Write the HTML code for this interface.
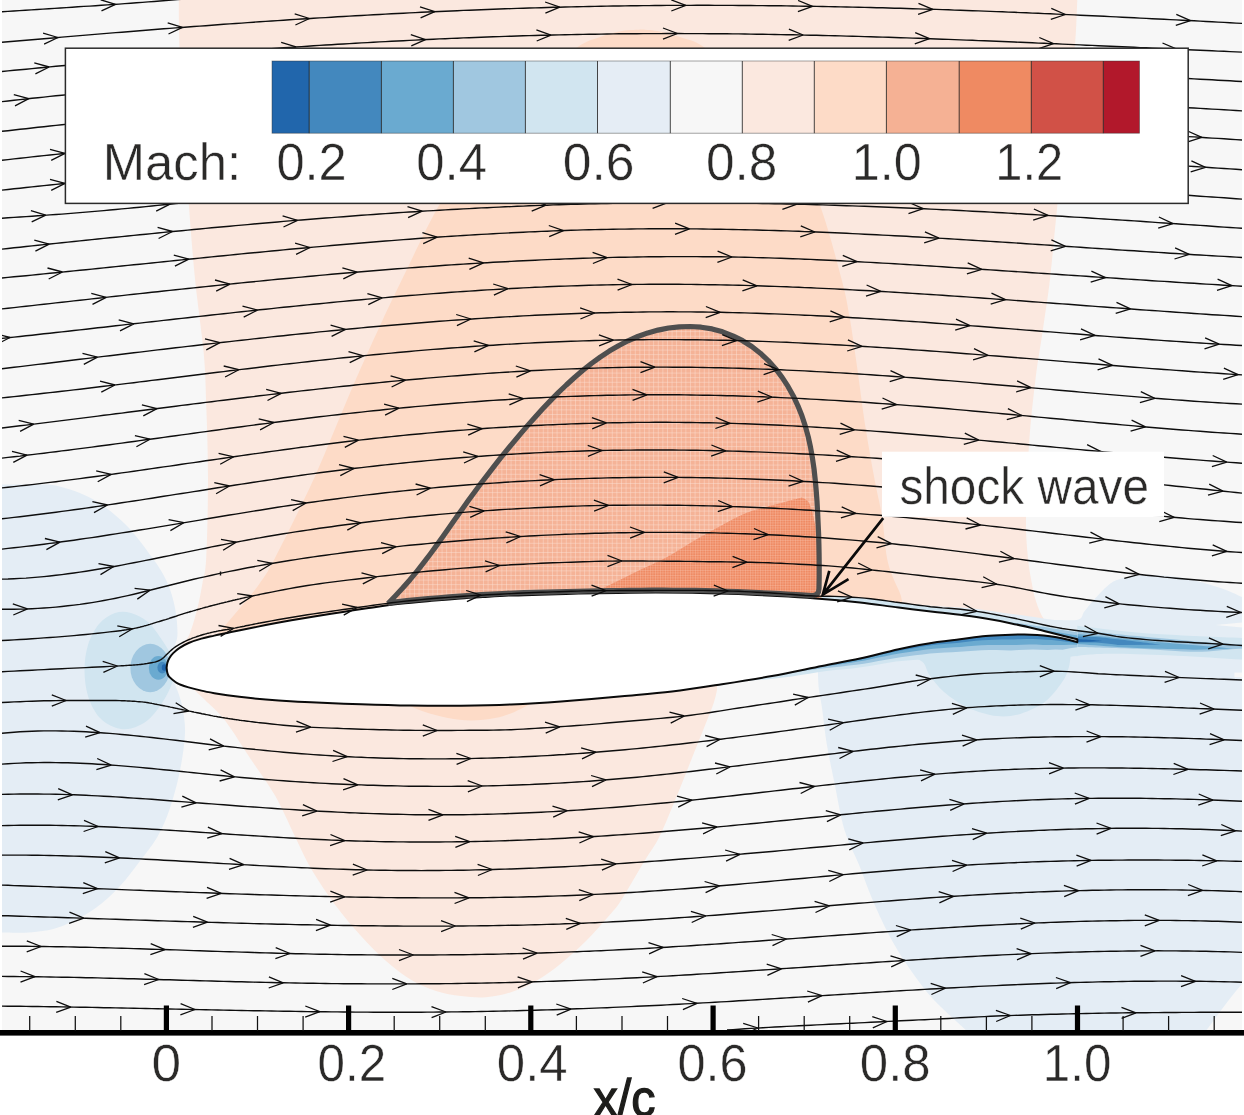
<!DOCTYPE html>
<html><head><meta charset="utf-8"><title>Mach contours</title>
<style>html,body{margin:0;padding:0;background:#fff}svg{display:block}</style></head>
<body><svg width="1244" height="1115" viewBox="0 0 1244 1115">
<defs><clipPath id="plot"><rect x="2" y="0" width="1240" height="1033"/></clipPath><pattern id="m1" width="4.6" height="4.6" patternUnits="userSpaceOnUse"><path d="M0 0.4H4.6M0.4 0V4.6" stroke="#fde3d6" stroke-opacity="0.55" stroke-width="0.8" fill="none"/></pattern><pattern id="m2" width="2.5" height="2.5" patternUnits="userSpaceOnUse"><path d="M0 0.35H2.5M0.35 0V2.5" stroke="#fbd3c0" stroke-opacity="0.38" stroke-width="0.7" fill="none"/></pattern></defs>
<rect x="0" y="0" width="1244" height="1115" fill="#fff"/>
<g clip-path="url(#plot)">
<rect x="2" y="0" width="1240" height="1033" fill="#f7f7f7"/>
<path d="M178.8 -5C178.9 3.8 178.6 25 179.5 47.5C180.4 70 182.5 103.9 184 130C185.5 156.1 186.9 179.2 188.8 204C190.6 228.8 192.5 254 195 279C197.5 304 201.9 333.2 203.8 354C205.6 374.8 205.5 383.2 206.2 404C207 424.8 208 453.3 208 479C208 504.7 207.2 540.7 206.2 558C205.3 575.3 204 574.7 202.5 583C201 591.3 199.6 599.7 197.5 608C195.4 616.3 192.3 627.2 190 633C187.7 638.8 185.8 640.2 183.8 643C181.8 645.8 179 648.8 178 650L250 665C375 660.8 875 644.2 1000 640L1046 622C1045.1 620.5 1042.3 617 1040.5 613C1038.7 609 1036.5 603 1035 598C1033.5 593 1032.9 589.7 1031.8 583C1030.6 576.3 1029 568.9 1028 558C1027 547.1 1025.8 537.2 1026 517.8C1026.2 498.3 1027.7 464.6 1029.2 441.5C1030.8 418.4 1033.2 397.8 1035.5 379C1037.8 360.2 1040.6 345.7 1043 329C1045.4 312.3 1047.6 299.8 1050 279C1052.4 258.2 1054.8 229.7 1057.5 204C1060.2 178.3 1063.1 151.1 1066 125C1068.9 98.9 1072.8 69.2 1074.8 47.5C1076.7 25.8 1077 3.8 1077.5 -5Z" fill="#fbe8df" />
<path d="M190 686C192.5 688.3 199.2 694.2 205 700C210.8 705.8 217.5 710.8 225 720.5C232.5 730.2 241.7 745.5 250 758C258.3 770.5 267.5 782.4 275 795.5C282.5 808.6 289 824.3 295 836.5C301 848.7 304.2 856.9 311 868.5C317.8 880.1 327.7 894.8 336 906C344.3 917.2 352.7 926.8 361 936C369.3 945.2 377.7 953.7 386 961C394.3 968.3 402.7 974.8 411 979.8C419.3 984.8 427.7 988.3 436 991C444.3 993.7 452.7 995 461 996C469.3 997 477.7 997.9 486 997.2C494.3 996.6 502.7 995 511 992.2C519.3 989.5 527.7 985.8 536 981C544.3 976.2 552.7 970.2 561 963.5C569.3 956.8 577.7 949.3 586 941C594.3 932.7 605 920.5 611 913.5C617 906.5 616.4 907.8 622 899C627.6 890.2 638.2 871.4 644.5 861C650.8 850.6 654.1 847.4 659.5 836.5C664.9 825.6 671.6 808.6 677 795.5C682.4 782.4 687 770.5 692 758C697 745.5 703.3 729.8 707 720.5C710.7 711.2 712.3 707.1 714 702C715.7 696.9 716.5 692 717 690L717 670C629.5 670 279.5 670 192 670Z" fill="#fbe8df" />
<path d="M642 29.5C638.7 29.8 629 29.8 622 31C615 32.2 607.5 34.2 600 37C592.5 39.8 588.7 39.5 577 47.5C565.3 55.5 546.2 68.8 530 85C513.8 101.2 495 125.2 480 145C465 164.8 452.7 181.7 439.8 204C426.8 226.3 412.5 258.2 402.2 279C392 299.8 386.2 312.3 378.5 329C370.8 345.7 363.1 362.8 356 379C348.9 395.2 343.5 408.8 336 426.5C328.5 444.2 321.2 463.1 311 485C300.8 506.9 283.5 541.7 275 558C266.5 574.3 265.8 574.7 260 583C254.2 591.3 245.8 600.9 240 608C234.2 615.1 228.7 621.2 225 625.5C221.3 629.8 219.2 632.6 218 634L260 660C366.7 655 793.3 635 900 630L903 612C902.6 609.2 902.4 601.2 900.8 595.5C899.1 589.8 895.5 584.2 893.2 578C891 571.8 888.9 568.2 887 558C885.1 547.8 884.1 529.7 882 516.5C879.9 503.3 877.2 493.6 874.5 479C871.8 464.4 868.7 447.8 865.8 429C862.8 410.2 859.7 385.2 857 366.5C854.3 347.8 852.1 331.1 849.5 316.5C846.9 301.9 846.5 297.8 841.5 279C836.5 260.2 828.1 227.2 819.5 204C810.9 180.8 801.6 159.8 790 140C778.4 120.2 764.2 100.4 750 85C735.8 69.6 716.2 55.5 704.5 47.5C692.8 39.5 687.4 39.7 680 37C672.6 34.3 666.3 32.8 660 31.5C653.7 30.2 645 29.8 642 29.5Z" fill="#fddbc7" />
<path d="M405 704C408.3 705.3 417.8 709.7 425 712C432.2 714.3 440.3 716.6 448 718C455.7 719.4 463.2 720.5 471 720.5C478.8 720.5 488.2 719.2 495 718C501.8 716.8 505.8 715.5 512 713C518.2 710.5 528.7 704.7 532 703L532 690C510.8 690 426.2 690 405 690Z" fill="#fddbc7" />
<path d="M388 603.5C389.2 602.2 393 598.3 395.5 595.7C397.9 593.1 400.4 590.5 402.9 587.8C405.3 585.2 407.7 582.4 410 579.7C412.4 576.9 414.7 574.1 416.9 571.3C419.2 568.5 421.5 565.6 423.7 562.7C425.9 559.8 428.1 556.9 430.3 554C432.5 551 434.6 548.1 436.8 545.1C438.9 542.1 441 539.2 443.1 536.2C445.2 533.2 447.3 530.2 449.4 527.2C451.5 524.2 453.6 521.2 455.7 518.3C457.8 515.3 459.9 512.3 462 509.4C464.1 506.4 466.2 503.5 468.3 500.6C470.4 497.7 472.5 494.8 474.6 491.9C476.7 489 478.9 486.1 481 483.3C483.1 480.4 485.3 477.6 487.5 474.8C489.6 471.9 491.8 469.1 494 466.3C496.2 463.5 498.4 460.7 500.6 457.9C502.8 455.1 505.1 452.3 507.3 449.6C509.6 446.8 511.9 444.1 514.2 441.3C516.5 438.6 518.8 435.8 521.1 433.1C523.5 430.3 525.8 427.6 528.2 424.9C530.6 422.2 533 419.4 535.5 416.7C537.9 414 540.4 411.3 542.9 408.6C545.4 405.9 548 403.2 550.5 400.6C553.1 397.9 555.7 395.3 558.3 392.7C561 390.1 563.6 387.5 566.3 385C569 382.4 571.7 379.9 574.5 377.5C577.2 375 580 372.6 582.9 370.3C585.7 368 588.5 365.7 591.4 363.5C594.3 361.3 597.3 359.1 600.2 357.1C603.2 355 606.2 353 609.3 351.1C612.3 349.2 615.4 347.4 618.5 345.7C621.7 343.9 624.8 342.3 628 340.8C631.2 339.3 634.5 337.8 637.8 336.5C641 335.2 644.4 334 647.8 332.9C651.1 331.9 654.5 330.9 658 330.1C661.5 329.3 665 328.6 668.5 328C672.1 327.5 675.7 327.1 679.3 326.8C682.9 326.5 686.6 326.4 690.2 326.5C693.9 326.6 697.6 326.8 701.2 327.2C704.8 327.6 708.5 328.2 712.1 328.9C715.6 329.7 719.2 330.7 722.6 331.8C726.1 333 729.5 334.3 732.8 335.8C736.2 337.2 739.4 338.9 742.6 340.7C745.8 342.5 748.8 344.5 751.8 346.5C754.7 348.6 757.6 350.9 760.3 353.2C763.1 355.5 765.7 358 768.2 360.6C770.8 363.2 773.2 365.9 775.5 368.7C777.8 371.4 780 374.3 782.1 377.3C784.2 380.2 786.1 383.3 788 386.4C789.9 389.5 791.7 392.7 793.3 395.9C795 399.1 796.5 402.4 797.9 405.8C799.4 409.1 800.7 412.4 801.9 415.8C803.2 419.2 804.3 422.7 805.3 426.1C806.4 429.6 807.3 433.1 808.2 436.6C809 440.1 809.8 443.6 810.5 447.1C811.2 450.7 811.9 454.3 812.4 457.8C813 461.4 813.5 465 814 468.6C814.4 472.2 814.8 475.9 815.2 479.5C815.6 483.1 815.9 486.7 816.2 490.4C816.5 494 816.7 497.6 817 501.3C817.2 504.9 817.4 508.5 817.6 512.1C817.8 515.8 818 519.4 818.1 523C818.3 526.6 818.4 530.2 818.6 533.8C818.7 537.4 818.8 541 818.9 544.6C819 548.2 819 551.8 819.1 555.4C819.1 559 819.2 562.6 819.2 566.2C819.2 569.9 819.2 573.5 819.2 577.1C819.1 580.7 819 586.2 819 588L820 600C747.7 602 458.3 610 386 612Z" fill="#f5b397" />
<path d="M388 603.5C389.2 602.2 393 598.3 395.5 595.7C397.9 593.1 400.4 590.5 402.9 587.8C405.3 585.2 407.7 582.4 410 579.7C412.4 576.9 414.7 574.1 416.9 571.3C419.2 568.5 421.5 565.6 423.7 562.7C425.9 559.8 428.1 556.9 430.3 554C432.5 551 434.6 548.1 436.8 545.1C438.9 542.1 441 539.2 443.1 536.2C445.2 533.2 447.3 530.2 449.4 527.2C451.5 524.2 453.6 521.2 455.7 518.3C457.8 515.3 459.9 512.3 462 509.4C464.1 506.4 466.2 503.5 468.3 500.6C470.4 497.7 472.5 494.8 474.6 491.9C476.7 489 478.9 486.1 481 483.3C483.1 480.4 485.3 477.6 487.5 474.8C489.6 471.9 491.8 469.1 494 466.3C496.2 463.5 498.4 460.7 500.6 457.9C502.8 455.1 505.1 452.3 507.3 449.6C509.6 446.8 511.9 444.1 514.2 441.3C516.5 438.6 518.8 435.8 521.1 433.1C523.5 430.3 525.8 427.6 528.2 424.9C530.6 422.2 533 419.4 535.5 416.7C537.9 414 540.4 411.3 542.9 408.6C545.4 405.9 548 403.2 550.5 400.6C553.1 397.9 555.7 395.3 558.3 392.7C561 390.1 563.6 387.5 566.3 385C569 382.4 571.7 379.9 574.5 377.5C577.2 375 580 372.6 582.9 370.3C585.7 368 588.5 365.7 591.4 363.5C594.3 361.3 597.3 359.1 600.2 357.1C603.2 355 606.2 353 609.3 351.1C612.3 349.2 615.4 347.4 618.5 345.7C621.7 343.9 624.8 342.3 628 340.8C631.2 339.3 634.5 337.8 637.8 336.5C641 335.2 644.4 334 647.8 332.9C651.1 331.9 654.5 330.9 658 330.1C661.5 329.3 665 328.6 668.5 328C672.1 327.5 675.7 327.1 679.3 326.8C682.9 326.5 686.6 326.4 690.2 326.5C693.9 326.6 697.6 326.8 701.2 327.2C704.8 327.6 708.5 328.2 712.1 328.9C715.6 329.7 719.2 330.7 722.6 331.8C726.1 333 729.5 334.3 732.8 335.8C736.2 337.2 739.4 338.9 742.6 340.7C745.8 342.5 748.8 344.5 751.8 346.5C754.7 348.6 757.6 350.9 760.3 353.2C763.1 355.5 765.7 358 768.2 360.6C770.8 363.2 773.2 365.9 775.5 368.7C777.8 371.4 780 374.3 782.1 377.3C784.2 380.2 786.1 383.3 788 386.4C789.9 389.5 791.7 392.7 793.3 395.9C795 399.1 796.5 402.4 797.9 405.8C799.4 409.1 800.7 412.4 801.9 415.8C803.2 419.2 804.3 422.7 805.3 426.1C806.4 429.6 807.3 433.1 808.2 436.6C809 440.1 809.8 443.6 810.5 447.1C811.2 450.7 811.9 454.3 812.4 457.8C813 461.4 813.5 465 814 468.6C814.4 472.2 814.8 475.9 815.2 479.5C815.6 483.1 815.9 486.7 816.2 490.4C816.5 494 816.7 497.6 817 501.3C817.2 504.9 817.4 508.5 817.6 512.1C817.8 515.8 818 519.4 818.1 523C818.3 526.6 818.4 530.2 818.6 533.8C818.7 537.4 818.8 541 818.9 544.6C819 548.2 819 551.8 819.1 555.4C819.1 559 819.2 562.6 819.2 566.2C819.2 569.9 819.2 573.5 819.2 577.1C819.1 580.7 819 586.2 819 588L820 600C747.7 602 458.3 610 386 612Z" fill="url(#m1)" />
<path d="M595 592C599.5 589.8 614.2 582.7 621.8 579C629.2 575.3 632.7 573.5 640 570C647.3 566.5 656.2 562.9 665.8 557.8C675.2 552.6 687.6 544.4 697 539C706.4 533.6 713.7 529.6 722 525.2C730.3 520.9 737 516.5 747 512.8C757 509 773.8 505 782 502.8C790.2 500.5 793.7 499.6 796 499L802 497.5C803.2 498.6 807.2 498.8 809.5 504C811.8 509.2 814.2 519.7 815.8 529C817.2 538.3 817.9 549.5 818.5 560C819.1 570.5 819.3 586.7 819.5 592L819 600C781.7 600 632.3 600 595 600Z" fill="#ef8b64" />
<path d="M595 592C599.5 589.8 614.2 582.7 621.8 579C629.2 575.3 632.7 573.5 640 570C647.3 566.5 656.2 562.9 665.8 557.8C675.2 552.6 687.6 544.4 697 539C706.4 533.6 713.7 529.6 722 525.2C730.3 520.9 737 516.5 747 512.8C757 509 773.8 505 782 502.8C790.2 500.5 793.7 499.6 796 499L802 497.5C803.2 498.6 807.2 498.8 809.5 504C811.8 509.2 814.2 519.7 815.8 529C817.2 538.3 817.9 549.5 818.5 560C819.1 570.5 819.3 586.7 819.5 592L819 600C781.7 600 632.3 600 595 600Z" fill="url(#m2)" />
<path d="M-5 484.5C0.8 484.6 19.6 484.6 30 484.8C40.4 485.1 47.1 483.6 57.5 486C67.9 488.4 81.2 492.7 92.5 499C103.8 505.3 115 514.2 125 524C135 533.8 145.4 548.2 152.5 558C159.6 567.8 163.8 574.7 167.5 583C171.2 591.3 173.3 599.7 175 608C176.7 616.3 177.5 626.8 177.5 633C177.5 639.2 176.1 641.5 175 645C173.9 648.5 171.7 652.5 171 654L185 668L173 680C173.8 682 176.4 687.3 178 692C179.6 696.7 181.3 701.2 182.5 708C183.7 714.8 185.4 722.6 185 733C184.6 743.4 182.5 758 180 770.5C177.5 783 173.8 797 170 808C166.2 819 162.5 827.9 157.5 836.8C152.5 845.6 146.2 852.8 140 861C133.8 869.2 127.5 878.1 120 886C112.5 893.9 104.6 901.8 95 908.5C85.4 915.2 72.9 922 62.5 926C52.1 930 43.8 931.2 32.5 932.2C21.2 933.3 1.2 932.5 -5 932.5Z" fill="#e4edf5" />
<path d="M84.5 670C84.5 661.5 85.6 652.7 88 645C90.4 637.3 94.5 629.3 99 624C103.5 618.7 109.7 614.8 115 613C120.3 611.2 125.5 611.5 131 613C136.5 614.5 142.8 617.5 148 622C153.2 626.5 158.2 634.5 162 640C165.8 645.5 168.7 650.3 171 655C173.3 659.7 176 662.8 176 668C176 673.2 173.3 680.2 171 686C168.7 691.8 165.8 697.3 162 703C158.2 708.7 153.2 715.8 148 720C142.8 724.2 136.5 727.2 131 728.5C125.5 729.8 120.3 729.4 115 727.5C109.7 725.6 103.5 722.2 99 717C94.5 711.8 90.4 703.8 88 696C85.6 688.2 84.5 678.5 84.5 670Z" fill="#d1e5f0" />
<ellipse cx="150.2" cy="668" rx="19.8" ry="24.2" fill="#a0c7e0"/>
<ellipse cx="158.4" cy="667.9" rx="9.6" ry="11.9" fill="#6aaad0"/>
<ellipse cx="162.2" cy="667.6" rx="4.8" ry="5.9" fill="#4388be"/>
<ellipse cx="164.2" cy="667.5" rx="2.4" ry="3.2" fill="#2166ac"/>
<path d="M818 676C818.2 678.3 818.3 684.7 819 690C819.7 695.3 820.7 698.8 822 708C823.3 717.2 824.9 733 827 745.5C829.1 758 831.6 768.9 834.5 783C837.4 797.1 840.3 816.2 844.5 830C848.7 843.8 854.9 854.6 859.5 866C864.1 877.4 867 886.8 872 898.5C877 910.2 883.2 924.3 889.5 936C895.8 947.7 902.2 958 909.5 968.5C916.8 979 923.7 988.8 933 999C942.3 1009.2 958.5 1022.9 965.5 1029.8C972.5 1036.6 973.4 1038.3 975 1040L1198 1040C1199.5 1038.3 1203 1034.6 1206.8 1029.8C1210.5 1024.9 1215.6 1017.5 1220.5 1011C1225.4 1004.5 1231.1 997 1236 991C1240.9 985 1247.7 977.7 1250 975L1250 600C1248.7 599.5 1246.9 599 1242 597C1237.1 595 1230.3 591.2 1220.5 588C1210.7 584.8 1195.5 580.2 1183 578C1170.5 575.8 1156 574.8 1145.5 575C1135 575.2 1126.2 577.2 1120 579C1113.8 580.8 1112.3 582 1108 585.5C1103.7 589 1098 595.4 1094 599.8C1090 604.1 1086.9 608.3 1084.3 611.6C1081.7 614.9 1083.4 618 1078.5 619.4C1073.6 620.8 1058.9 619.9 1055 620L1000 640C969.7 643.3 848.3 656.7 818 660Z" fill="#e4edf5" />
<path d="M800 668C804.7 667.8 815.3 668 828 666.5C840.7 665 863.2 660.8 876 659C888.8 657.2 897.3 655.5 905 656C912.7 656.5 918.2 658.6 922.3 661.8C926.4 665 925.9 670.1 929.5 675.1C933.1 680.1 937.6 686.6 944 692C950.4 697.4 959.2 703.7 968 707.7C976.8 711.7 988.2 715.1 997 716.1C1005.8 717.1 1013 716.1 1021 713.7C1029 711.3 1038.5 706.8 1045.3 701.6C1052.1 696.4 1058.1 687.8 1062 682.3C1065.9 676.8 1067.1 672.8 1068.5 668.5C1069.9 664.2 1070.2 658.7 1070.6 656.7L1070.6 656.7C1073.8 656.3 1082.2 655 1090 654.5C1097.8 654 1103.3 653.5 1117.7 653.8C1132.1 654 1154.5 654.7 1176.5 655.7C1198.5 656.7 1237.8 659.3 1250 660L1250 638.3C1234.5 637.6 1182.3 635.7 1157 634C1131.7 632.3 1113.4 629.9 1098 628.2C1082.6 626.6 1070.2 625 1064.7 624.3L1000 638C966.7 641.7 833.3 656.3 800 660Z" fill="#d1e5f0" />
<path d="M740 679.4L748.6 678L757.3 676.6L765.9 675.1L774.6 673.5L783.2 671.9L791.9 670.2L800.5 668.4L809.2 666.6L817.8 664.8L826.5 663.1L835.1 661.5L843.8 659.8L852.4 658.1L861.1 656.3L869.7 654.2L878.4 652.1L887 649.9L895.7 647.8L904.3 646L913 644.2L921.6 642.6L930.3 641.1L938.9 639.8L947.6 638.7L956.2 637.7L964.9 636.7L973.5 635.4L982.2 634.3L990.8 633.6L999.5 633.1L1008.1 632.8L1016.8 632.6L1025.4 632.5L1034.1 632.8L1042.7 633.3L1051.4 634.4L1060 635.9L1068.7 637.8L1077.3 640.2L1077.3 656.2L1068.7 654.9L1060 654L1051.4 653.6L1042.7 653.3L1034.1 652.8L1025.4 652.5L1016.8 652.6L1008.1 652.8L999.5 653.1L990.8 653.6L982.2 654.3L973.5 655.4L964.9 656.2L956.2 656.8L947.6 657.2L938.9 657.8L930.3 658.5L921.6 659.5L913 660.1L904.3 660.7L895.7 661.6L887 663L878.4 664.5L869.7 666L861.1 667.3L852.4 668.4L843.8 669.3L835.1 670.1L826.5 671L817.8 672.3L809.2 673.7L800.5 675L791.9 676.4L783.2 677.6L774.6 678.6L765.9 679.4L757.3 680.1L748.6 680.8L740 681.4Z" fill="#d1e5f0" />
<path d="M790 670.5L797.4 669L804.7 667.5L812.1 666L819.5 664.5L826.8 663.1L834.2 661.6L841.6 660.2L848.9 658.8L856.3 657.3L863.7 655.7L871 653.9L878.4 652L885.8 650.2L893.1 648.4L900.5 646.8L907.9 645.3L915.2 643.8L922.6 642.4L930 641.1L937.3 640L944.7 639L952.1 638.2L959.4 637.4L966.8 636.4L974.2 635.3L981.5 634.4L988.9 633.8L996.3 633.3L1003.6 633L1011 632.7L1018.4 632.6L1025.7 632.5L1033.1 632.7L1040.5 633.1L1047.8 633.9L1055.2 635L1062.6 636.4L1069.9 638.1L1077.3 640.2L1077.3 647.2L1069.9 648.3L1062.6 649.7L1055.2 649.6L1047.8 649.9L1040.5 649.8L1033.1 649.6L1025.7 649.7L1018.4 650L1011 650.4L1003.6 650.2L996.3 650.1L988.9 650.1L981.5 650.2L974.2 650.7L966.8 651.3L959.4 651.8L952.1 652.2L944.7 652.5L937.3 653L930 653.6L922.6 654.4L915.2 655.3L907.9 656.3L900.5 657.3L893.1 658.4L885.8 659.7L878.4 661.1L871 662.5L863.7 663.7L856.3 664.8L848.9 665.6L841.6 666.4L834.2 667.2L826.8 668L819.5 668.8L812.1 669.7L804.7 670.7L797.4 671.6L790 672.5Z" fill="#a0c7e0" />
<path d="M810 666.4L816.9 665L823.7 663.7L830.6 662.3L837.4 661L844.3 659.7L851.1 658.4L858 656.9L864.8 655.4L871.7 653.7L878.5 652L885.4 650.3L892.2 648.6L899.1 647.1L906 645.7L912.8 644.3L919.7 642.9L926.5 641.7L933.4 640.6L940.2 639.6L947.1 638.8L953.9 638L960.8 637.2L967.6 636.3L974.5 635.3L981.3 634.4L988.2 633.8L995.1 633.4L1001.9 633L1008.8 632.8L1015.6 632.6L1022.5 632.5L1029.3 632.6L1036.2 632.9L1043 633.4L1049.9 634.2L1056.7 635.3L1063.6 636.6L1070.4 638.3L1077.3 640.2L1077.3 644.7L1070.4 644.8L1063.6 645.1L1056.7 644.9L1049.9 644.9L1043 644.9L1036.2 644.6L1029.3 644.5L1022.5 644.7L1015.6 645L1008.8 645.1L1001.9 645L995.1 645L988.2 645.1L981.3 645.3L974.5 645.7L967.6 646.3L960.8 646.9L953.9 647.3L947.1 647.7L940.2 648.2L933.4 648.8L926.5 649.6L919.7 650.5L912.8 651.5L906 652.5L899.1 653.6L892.2 654.8L885.4 656.2L878.5 657.6L871.7 659.1L864.8 660.4L858 661.6L851.1 662.7L844.3 663.7L837.4 664.7L830.6 665.7L823.7 666.6L816.9 667.5L810 668.4Z" fill="#6aaad0" />
<path d="M830 662.4L836.3 661.2L842.7 660L849 658.8L855.4 657.5L861.7 656.1L868 654.6L874.4 653.1L880.7 651.5L887.1 649.9L893.4 648.3L899.8 647L906.1 645.6L912.4 644.3L918.8 643.1L925.1 641.9L931.5 640.9L937.8 639.9L944.1 639.1L950.5 638.4L956.8 637.7L963.2 636.9L969.5 636L975.8 635.1L982.2 634.3L988.5 633.8L994.9 633.4L1001.2 633.1L1007.5 632.8L1013.9 632.6L1020.2 632.5L1026.6 632.5L1032.9 632.7L1039.3 633L1045.6 633.6L1051.9 634.5L1058.3 635.6L1064.6 636.9L1071 638.4L1077.3 640.2L1077.3 643.2L1071 642.2L1064.6 641.5L1058.3 640.7L1051.9 640.1L1045.6 639.8L1039.3 639.3L1032.9 639.1L1026.6 639L1020.2 639.2L1013.9 639.4L1007.5 639.5L1001.2 639.6L994.9 639.7L988.5 639.9L982.2 640.3L975.8 640.8L969.5 641.5L963.2 642.3L956.8 642.9L950.5 643.4L944.1 643.9L937.8 644.5L931.5 645.3L925.1 646.3L918.8 647.3L912.4 648.4L906.1 649.5L899.8 650.7L893.4 652L887.1 653.4L880.7 654.8L874.4 656.3L868 657.8L861.7 659.2L855.4 660.3L849 661.4L842.7 662.4L836.3 663.4L830 664.4Z" fill="#4388be" />
<path d="M1077.5 630.2C1087.5 631.2 1117.5 634.2 1137.3 636.1C1157 638 1177.2 639.9 1196 641.4C1214.8 642.9 1241 644.4 1250 645L1250 648.5C1247.5 648.6 1244 648.5 1235 649C1226 649.5 1212.3 651.8 1196 651.8C1179.7 651.8 1156.8 649.6 1137 648.8C1117.2 648 1087.4 647.2 1077.5 646.9Z" fill="#a0c7e0" />
<path d="M1077.5 634.1C1084.2 634.8 1104.5 636.7 1117.7 638C1131 639.3 1144 640.8 1157 642C1170 643.2 1183.3 644.2 1196 645.3C1208.7 646.4 1226.8 648 1233 648.5L1196 649.8C1189.5 649.6 1170 649.3 1157 648.8C1144 648.3 1131 647.7 1117.7 646.9C1104.5 646.1 1084.2 644.5 1077.5 644Z" fill="#6aaad0" />
<path d="M1077.3 636.6C1081.3 636.7 1094.8 637 1101.5 637.4C1108.2 637.8 1107.8 638.1 1117.7 639.3C1127.6 640.5 1153.6 643.8 1160.8 644.7L1117.7 644.9C1115 644.6 1108.2 643.4 1101.5 643C1094.8 642.6 1081.3 642.7 1077.3 642.6Z" fill="#4388be" />
<path d="M1077.3 639.3C1079.4 639.4 1085.9 639.5 1090 639.8C1094.1 640.1 1100 640.8 1102 641L1090 641.8C1087.9 641.8 1079.4 641.8 1077.3 641.8Z" fill="#2166ac" />
<path d="M1215.8 625L1243 622.4V627.7Z" fill="#f7f7f7" />
<path d="M1234.4 672.6H1243V677.2H1234.4Z" fill="#f7f7f7" />
<path d="M822 596.2L828.5 596.3L835.1 596.5L841.6 596.7L848.2 597L854.7 597.3L861.3 597.8L867.8 598.4L874.4 599.2L880.9 600.1L887.5 601L894 601.9L900.6 602.7L907.1 603.6L913.6 604.5L920.2 605.4L926.7 606.2L933.3 607L939.8 607.6L946.4 608.2L952.9 608.7L959.5 609.2L966 609.9L972.6 610.7L979.1 611.7L985.7 612.7L992.2 613.9L998.7 615.2L1005.3 616.5L1011.8 617.8L1018.4 619.1L1024.9 620.6L1031.5 622.1L1038 623.6L1044.6 625L1051.1 626.4L1057.7 627.7L1064.2 628.8L1070.8 629.8L1077.3 630.6L1077.3 640.3L1070.8 638.7L1064.2 637L1057.7 635.4L1051.1 633.7L1044.6 632L1038 630.4L1031.5 628.8L1024.9 627.3L1018.4 625.9L1011.8 624.5L1005.3 623.2L998.7 621.9L992.2 620.7L985.7 619.6L979.1 618.5L972.6 617.5L966 616.6L959.5 615.7L952.9 615L946.4 614.3L939.8 613.6L933.3 612.8L926.7 612.1L920.2 611.3L913.6 610.5L907.1 609.7L900.6 608.8L894 608L887.5 607.1L880.9 606.1L874.4 605.2L867.8 604.3L861.3 603.5L854.7 602.8L848.2 602.2L841.6 601.5L835.1 600.9L828.5 600.4L822 599.8Z" fill="#d1e5f0" />
<path d="M900 602.7L906.1 603.3L912.2 603.9L918.3 604.6L924.5 605.2L930.6 605.8L936.7 606.2L942.8 606.6L948.9 606.9L955 607.2L961.1 607.6L967.3 608.1L973.4 608.6L979.5 609.3L985.6 610.2L991.7 611.1L997.8 612.1L1003.9 612.9L1010 613.7L1016.2 614.4L1022.3 615.3L1028.4 616.2L1034.5 617.1L1040.6 618L1046.7 618.9L1052.8 619.7L1059 620.4L1065.1 620.9L1071.2 621.3L1077.3 621.6L1077.3 630.6L1071.2 629.8L1065.1 628.9L1059 627.9L1052.8 626.8L1046.7 625.5L1040.6 624.2L1034.5 622.8L1028.4 621.4L1022.3 620L1016.2 618.7L1010 617.4L1003.9 616.2L997.8 615L991.7 613.8L985.6 612.7L979.5 611.7L973.4 610.8L967.3 610.1L961.1 609.4L955 608.9L948.9 608.4L942.8 607.9L936.7 607.3L930.6 606.7L924.5 605.9L918.3 605.1L912.2 604.3L906.1 603.5L900 602.7Z" fill="#e4edf5" />
<path d="M1000 621.1L1004.1 621.6L1008.1 622L1012.2 622.5L1016.3 623L1020.3 623.5L1024.4 624.1L1028.5 624.7L1032.5 625.3L1036.6 625.9L1040.7 626.5L1044.8 627.1L1048.8 627.8L1052.9 628.4L1057 629.1L1061 629.8L1065.1 630.4L1069.2 631L1073.2 631.7L1077.3 632.3L1077.3 640.3L1073.2 639.3L1069.2 638.3L1065.1 637.3L1061 636.2L1057 635.2L1052.9 634.1L1048.8 633.1L1044.8 632.1L1040.7 631L1036.6 630.1L1032.5 629.1L1028.5 628.1L1024.4 627.2L1020.3 626.3L1016.3 625.4L1012.2 624.6L1008.1 623.7L1004.1 622.9L1000 622.1Z" fill="#a0c7e0" />
<path d="M1035 628.7L1038 629.1L1041 629.6L1044.1 630L1047.1 630.5L1050.1 631L1053.1 631.5L1056.2 632L1059.2 632.5L1062.2 633L1065.2 633.4L1068.2 633.9L1071.3 634.4L1074.3 634.9L1077.3 635.3L1077.3 640.3L1074.3 639.5L1071.3 638.8L1068.2 638L1065.2 637.3L1062.2 636.5L1059.2 635.8L1056.2 635L1053.1 634.2L1050.1 633.4L1047.1 632.6L1044.1 631.9L1041 631.1L1038 630.4L1035 629.7Z" fill="#6aaad0" />
<path d="M166.6 667.8C166.7 666.9 166.9 664.3 167.4 662.7C167.9 661.1 168.3 659.8 169.3 658.2C170.3 656.6 171.5 654.8 173.2 653.1C174.9 651.4 177 649.6 179.6 647.9C182.2 646.2 185 644.5 188.6 643C192.2 641.5 197.1 639.8 201.4 638.6C205.7 637.4 210 636.6 214.3 635.6C218.6 634.6 222.9 633.8 227.2 632.9C231.5 632 233.6 631.6 240 630.3C246.4 629 257.1 626.8 265.7 625.1C274.3 623.4 282.8 621.8 291.4 620.3C300 618.8 308.6 617.4 317.2 616C325.8 614.6 334.3 613.2 342.9 611.9C351.5 610.6 359.1 609.5 368.6 608.1C378.1 606.7 389.5 604.9 400 603.7C410.5 602.5 421.9 601.6 431.4 600.8C440.9 600 448.6 599.4 457.2 598.8C465.8 598.1 474.3 597.6 482.9 597C491.5 596.5 499.1 596 508.6 595.6C518.1 595.2 528.3 595 540 594.7C551.7 594.4 565.7 594 578.6 593.6C591.5 593.3 604.3 593.1 617.2 592.9C630.1 592.7 642 592.6 655.8 592.6C669.6 592.6 686.2 592.6 700 592.9C713.8 593.2 725.7 593.6 738.6 594.1C751.5 594.6 764.3 595.2 777.2 595.9C790.1 596.6 802 597.3 815.8 598.4C829.6 599.4 846.2 600.9 860 602.4C873.8 603.9 885.7 606 898.6 607.6C911.5 609.2 927 611.1 937.2 612.3C947.4 613.5 951.9 613.8 960 614.8C968.1 615.8 977.1 617.2 985.7 618.6C994.3 620 1002.8 621.6 1011.4 623.4C1020 625.2 1028.6 627.2 1037.2 629.2C1045.8 631.2 1056.2 634 1062.9 635.7C1069.6 637.4 1074.9 638.7 1077.3 639.3L1077.3 642.2C1074.9 641.6 1067.5 639.5 1062.9 638.5C1058.4 637.5 1054.3 636.8 1050 636.2C1045.7 635.6 1041.5 635.2 1037.2 634.9C1032.9 634.6 1028.6 634.5 1024.3 634.5C1020 634.5 1017.8 634.5 1011.4 634.7C1005 635 994.3 635.2 985.7 636C977.1 636.8 968.1 638.3 960 639.3C951.9 640.3 947.4 640.4 937.2 642C927 643.6 911.5 646.5 898.6 649.2C885.7 652 872.8 655.7 860 658.5C847.2 661.3 836.7 663.1 822 666C807.3 668.9 788.7 673 772 676C755.3 679 738.7 681.6 722 684.2C705.3 686.8 688.7 689.5 672 691.5C655.3 693.5 640.5 694.6 622 696.3C603.5 698 579.5 700.1 561 701.5C542.5 702.9 527.7 703.8 511 704.5C494.3 705.2 477.7 705.5 461 705.7C444.3 705.9 427.7 705.8 411 705.6C394.3 705.4 377.7 704.9 361 704.3C344.3 703.7 324.7 702.9 311 702.2C297.3 701.6 288.3 701 278.6 700.4C268.9 699.8 261.5 699.2 252.9 698.3C244.3 697.4 233.6 696.1 227.2 695.2C220.8 694.4 218.6 694 214.3 693.2C210 692.4 205.7 691.6 201.4 690.6C197.1 689.6 192.2 688.4 188.6 687.4C185 686.4 182.2 685.4 180 684.5C177.8 683.6 177.5 683.5 175.7 682.2C173.9 680.9 170.7 678.4 169.3 676.9C167.9 675.4 167.9 674.5 167.4 673C166.9 671.5 166.7 668.7 166.6 667.8Z" fill="#fff" stroke="#0a0a0a" stroke-width="2" stroke-linejoin="round"/>
<path d="M388 603.5L395.5 595.7L402.9 587.8L410 579.7L416.9 571.3L423.7 562.7L430.3 554L436.8 545.1L443.1 536.2L449.4 527.2L455.7 518.3L462 509.4L468.3 500.6L474.6 491.9L481 483.3L487.5 474.8L494 466.3L500.6 457.9L507.3 449.6L514.2 441.3L521.1 433.1L528.2 424.9L535.5 416.7L542.9 408.6L550.5 400.6L558.3 392.7L566.3 385L574.5 377.5L582.9 370.3L591.4 363.5L600.2 357.1L609.3 351.1L618.5 345.7L628 340.8L637.8 336.5L647.8 332.9L658 330.1L668.5 328L679.3 326.8L690.2 326.5L701.2 327.2L712.1 328.9L722.6 331.8L732.8 335.8L742.6 340.7L751.8 346.5L760.3 353.2L768.2 360.6L775.5 368.7L782.1 377.3L788 386.4L793.3 395.9L797.9 405.8L801.9 415.8L805.3 426.1L808.2 436.6L810.5 447.1L812.4 457.8L814 468.6L815.2 479.5L816.2 490.4L817 501.3L817.6 512.1L818.1 523L818.6 533.8L818.9 544.6L819.1 555.4L819.2 566.2L819.2 577.1L819 588L819 588.5Q819 595.6 812 595.6L812 595.7L801.3 594.9L790.7 594.3L780 593.7L769.3 593.1L758.7 592.6L748 592.1L737.3 591.7L726.7 591.3L716 590.9L705.3 590.6L694.7 590.4L684 590.3L673.3 590.3L662.7 590.2L652 590.2L641.3 590.3L630.7 590.4L620 590.5L609.3 590.6L598.7 590.8L588 591L577.3 591.3L566.7 591.5L556 591.8L545.3 592.1L534.7 592.4L524 592.7L513.3 593L502.7 593.5L492 594.1L481.3 594.7L470.7 595.4L460 596.1L449.3 596.9L438.7 597.8L428 598.7L417.3 599.6L406.7 600.6L396 601.8L388 603.5" fill="none" stroke="#4f4f4f" stroke-width="5.2" stroke-linejoin="round" stroke-linecap="butt"/>
<path d="M2 11.8L7.8 11.4L13.7 11L19.5 10.6L25.4 10.3L31.2 9.9L37.1 9.5L42.9 9.1L48.8 8.7L54.6 8.4L60.5 8L66.3 7.6L72.2 7.2L78 6.8L83.9 6.4L89.7 6.1L95.6 5.7L101.4 5.3L107.3 4.9L113.1 4.5L119 4.1L124.8 3.6L130.7 3.2L136.5 2.8L142.4 2.4L148.2 1.9L154.1 1.5L159.9 1L165.8 0.5L171.6 0.1L177.5 -0.4L183.3 -0.9L189.2 -1.5L195 -2M2 42.3L8 41.8L14 41.3L20 40.8L26 40.2L32 39.7L37.9 39.2L43.9 38.7L49.9 38.2L55.9 37.7L61.9 37.1L67.9 36.6L73.9 36.1L79.9 35.6L85.9 35.1L91.9 34.6L97.8 34.1L103.8 33.6L109.8 33.1L115.8 32.6L121.8 32.2L127.8 31.7L133.8 31.2L139.8 30.7L145.8 30.2L151.8 29.8L157.7 29.3L163.7 28.8L169.7 28.4L175.7 27.9L181.7 27.5L187.7 27L193.7 26.5L199.7 26.1L205.7 25.7L211.7 25.2L217.7 24.8L223.6 24.3L229.6 23.9L235.6 23.5L241.6 23.1L247.6 22.6L253.6 22.2L259.6 21.8L265.6 21.4L271.6 21L277.6 20.6L283.5 20.2L289.5 19.8L295.5 19.4L301.5 19L307.5 18.7L313.5 18.3L319.5 17.9L325.5 17.6L331.5 17.2L337.5 16.8L343.4 16.5L349.4 16.1L355.4 15.8L361.4 15.5L367.4 15.1L373.4 14.8L379.4 14.5L385.4 14.1L391.4 13.8L397.4 13.5L403.4 13.2L409.3 12.9L415.3 12.6L421.3 12.3L427.3 12L433.3 11.8L439.3 11.5L445.3 11.2L451.3 11L457.3 10.7L463.3 10.4L469.2 10.2L475.2 10L481.2 9.7L487.2 9.5L493.2 9.3L499.2 9L505.2 8.8L511.2 8.6L517.2 8.4L523.2 8.2L529.1 8L535.1 7.9L541.1 7.7L547.1 7.5L553.1 7.3L559.1 7.2L565.1 7L571.1 6.9L577.1 6.7L583.1 6.6L589.1 6.5L595 6.4L601 6.3L607 6.1L613 6L619 6L625 5.9L631 5.8L637 5.7L643 5.6L649 5.6L654.9 5.5L660.9 5.5L666.9 5.4L672.9 5.4L678.9 5.4L684.9 5.4L690.9 5.4L696.9 5.3L702.9 5.3L708.9 5.3L714.9 5.4L720.8 5.4L726.8 5.4L732.8 5.4L738.8 5.5L744.8 5.5L750.8 5.5L756.8 5.6L762.8 5.6L768.8 5.7L774.8 5.8L780.7 5.8L786.7 5.9L792.7 6L798.7 6.1L804.7 6.2L810.7 6.3L816.7 6.4L822.7 6.5L828.7 6.6L834.7 6.7L840.6 6.9L846.6 7L852.6 7.1L858.6 7.3L864.6 7.4L870.6 7.5L876.6 7.7L882.6 7.8L888.6 8L894.6 8.2L900.6 8.3L906.5 8.5L912.5 8.7L918.5 8.9L924.5 9.1L930.5 9.3L936.5 9.4L942.5 9.6L948.5 9.8L954.5 10.1L960.5 10.3L966.4 10.5L972.4 10.7L978.4 10.9L984.4 11.1L990.4 11.4L996.4 11.6L1002.4 11.8L1008.4 12.1L1014.4 12.3L1020.4 12.6L1026.3 12.8L1032.3 13.1L1038.3 13.3L1044.3 13.6L1050.3 13.8L1056.3 14.1L1062.3 14.4L1068.3 14.6L1074.3 14.9L1080.3 15.2L1086.3 15.5L1092.2 15.7L1098.2 16L1104.2 16.3L1110.2 16.6L1116.2 16.9L1122.2 17.2L1128.2 17.5L1134.2 17.8L1140.2 18.1L1146.2 18.4L1152.1 18.7L1158.1 19L1164.1 19.3L1170.1 19.6L1176.1 19.9L1182.1 20.2L1188.1 20.5L1194.1 20.8L1200.1 21.1L1206.1 21.5L1212 21.8L1218 22.1L1224 22.4L1230 22.8L1236 23.1L1242 23.4M2 71.5L8 70.9L14 70.3L20 69.7L26 69.2L32 68.6L37.9 68L43.9 67.5L49.9 66.9L55.9 66.3L61.9 65.8L67.9 65.2L73.9 64.7L79.9 64.1L85.9 63.6L91.9 63L97.8 62.5L103.8 62L109.8 61.4L115.8 60.9L121.8 60.4L127.8 59.9L133.8 59.3L139.8 58.8L145.8 58.3L151.8 57.8L157.7 57.3L163.7 56.8L169.7 56.3L175.7 55.8L181.7 55.4L187.7 54.9L193.7 54.4L199.7 53.9L205.7 53.5L211.7 53L217.7 52.5L223.6 52.1L229.6 51.6L235.6 51.2L241.6 50.7L247.6 50.3L253.6 49.9L259.6 49.4L265.6 49L271.6 48.6L277.6 48.2L283.5 47.8L289.5 47.4L295.5 47L301.5 46.6L307.5 46.2L313.5 45.8L319.5 45.4L325.5 45L331.5 44.7L337.5 44.3L343.4 44L349.4 43.6L355.4 43.2L361.4 42.9L367.4 42.6L373.4 42.2L379.4 41.9L385.4 41.6L391.4 41.3L397.4 41L403.4 40.7L409.3 40.4L415.3 40.1L421.3 39.8L427.3 39.5L433.3 39.2L439.3 38.9L445.3 38.7L451.3 38.4L457.3 38.2L463.3 37.9L469.2 37.7L475.2 37.5L481.2 37.2L487.2 37L493.2 36.8L499.2 36.6L505.2 36.4L511.2 36.2L517.2 36L523.2 35.8L529.1 35.6L535.1 35.5L541.1 35.3L547.1 35.2L553.1 35L559.1 34.9L565.1 34.7L571.1 34.6L577.1 34.5L583.1 34.4L589.1 34.3L595 34.2L601 34.1L607 34L613 33.9L619 33.8L625 33.8L631 33.7L637 33.7L643 33.6L649 33.6L654.9 33.6L660.9 33.6L666.9 33.5L672.9 33.5L678.9 33.5L684.9 33.6L690.9 33.6L696.9 33.6L702.9 33.6L708.9 33.7L714.9 33.7L720.8 33.8L726.8 33.8L732.8 33.9L738.8 33.9L744.8 34L750.8 34.1L756.8 34.2L762.8 34.3L768.8 34.4L774.8 34.5L780.7 34.6L786.7 34.7L792.7 34.8L798.7 34.9L804.7 35.1L810.7 35.2L816.7 35.3L822.7 35.5L828.7 35.6L834.7 35.8L840.6 35.9L846.6 36.1L852.6 36.3L858.6 36.4L864.6 36.6L870.6 36.8L876.6 37L882.6 37.1L888.6 37.3L894.6 37.5L900.6 37.7L906.5 37.9L912.5 38.1L918.5 38.3L924.5 38.5L930.5 38.8L936.5 39L942.5 39.2L948.5 39.4L954.5 39.6L960.5 39.9L966.4 40.1L972.4 40.3L978.4 40.6L984.4 40.8L990.4 41L996.4 41.3L1002.4 41.5L1008.4 41.8L1014.4 42L1020.4 42.3L1026.3 42.5L1032.3 42.8L1038.3 43.1L1044.3 43.3L1050.3 43.6L1056.3 43.8L1062.3 44.1L1068.3 44.4L1074.3 44.6L1080.3 44.9L1086.3 45.2L1092.2 45.4L1098.2 45.7L1104.2 46L1110.2 46.2L1116.2 46.5L1122.2 46.8L1128.2 47L1134.2 47.3L1140.2 47.6L1146.2 47.8L1152.1 48.1L1158.1 48.4L1164.1 48.7L1170.1 48.9L1176.1 49.2L1182.1 49.5L1188.1 49.7L1194.1 50L1200.1 50.3L1206.1 50.5L1212 50.8L1218 51.1L1224 51.3L1230 51.6L1236 51.9L1242 52.1M2 101.6L8 101L14 100.3L20 99.6L26 99L32 98.3L37.9 97.7L43.9 97.1L49.9 96.4L55.9 95.8L61.9 95.2L67.9 94.6L73.9 94L79.9 93.4L85.9 92.8L91.9 92.2L97.8 91.6L103.8 91L109.8 90.4L115.8 89.8L121.8 89.3L127.8 88.7L133.8 88.1L139.8 87.6L145.8 87.1L151.8 86.5L157.7 86L163.7 85.4L169.7 84.9L175.7 84.4L181.7 83.9L187.7 83.4L193.7 82.9L199.7 82.4L205.7 81.9L211.7 81.4L217.7 80.9L223.6 80.5L229.6 80L235.6 79.5L241.6 79.1L247.6 78.6L253.6 78.2L259.6 77.7L265.6 77.3L271.6 76.9L277.6 76.4L283.5 76L289.5 75.6L295.5 75.2L301.5 74.8L307.5 74.4L313.5 74L319.5 73.7L325.5 73.3L331.5 72.9L337.5 72.5L343.4 72.2L349.4 71.8L355.4 71.5L361.4 71.1L367.4 70.8L373.4 70.5L379.4 70.2L385.4 69.8L391.4 69.5L397.4 69.2L403.4 68.9L409.3 68.6L415.3 68.4L421.3 68.1L427.3 67.8L433.3 67.5L439.3 67.3L445.3 67L451.3 66.8L457.3 66.5L463.3 66.3L469.2 66.1L475.2 65.8L481.2 65.6L487.2 65.4L493.2 65.2L499.2 65L505.2 64.8L511.2 64.6L517.2 64.5L523.2 64.3L529.1 64.1L535.1 64L541.1 63.8L547.1 63.7L553.1 63.5L559.1 63.4L565.1 63.3L571.1 63.1L577.1 63L583.1 62.9L589.1 62.8L595 62.7L601 62.6L607 62.6L613 62.5L619 62.4L625 62.3L631 62.3L637 62.2L643 62.2L649 62.2L654.9 62.1L660.9 62.1L666.9 62.1L672.9 62.1L678.9 62.1L684.9 62.1L690.9 62.1L696.9 62.1L702.9 62.1L708.9 62.2L714.9 62.2L720.8 62.2L726.8 62.3L732.8 62.3L738.8 62.4L744.8 62.4L750.8 62.5L756.8 62.6L762.8 62.6L768.8 62.7L774.8 62.8L780.7 62.9L786.7 63L792.7 63.1L798.7 63.2L804.7 63.3L810.7 63.5L816.7 63.6L822.7 63.7L828.7 63.8L834.7 64L840.6 64.1L846.6 64.3L852.6 64.4L858.6 64.6L864.6 64.7L870.6 64.9L876.6 65.1L882.6 65.2L888.6 65.4L894.6 65.6L900.6 65.8L906.5 66L912.5 66.2L918.5 66.4L924.5 66.6L930.5 66.8L936.5 67L942.5 67.2L948.5 67.4L954.5 67.6L960.5 67.9L966.4 68.1L972.4 68.3L978.4 68.6L984.4 68.8L990.4 69L996.4 69.3L1002.4 69.5L1008.4 69.8L1014.4 70L1020.4 70.3L1026.3 70.6L1032.3 70.8L1038.3 71.1L1044.3 71.4L1050.3 71.6L1056.3 71.9L1062.3 72.2L1068.3 72.5L1074.3 72.8L1080.3 73L1086.3 73.3L1092.2 73.6L1098.2 73.9L1104.2 74.2L1110.2 74.5L1116.2 74.8L1122.2 75.1L1128.2 75.4L1134.2 75.7L1140.2 76L1146.2 76.3L1152.1 76.6L1158.1 77L1164.1 77.3L1170.1 77.6L1176.1 77.9L1182.1 78.2L1188.1 78.5L1194.1 78.9L1200.1 79.2L1206.1 79.5L1212 79.8L1218 80.2L1224 80.5L1230 80.8L1236 81.2L1242 81.5M2 131.3L8 130.7L14 130L20 129.3L26 128.7L32 128L37.9 127.3L43.9 126.7L49.9 126L55.9 125.4L61.9 124.8L67.9 124.1L73.9 123.5L79.9 122.9L85.9 122.3L91.9 121.7L97.8 121.1L103.8 120.5L109.8 119.9L115.8 119.3L121.8 118.7L127.8 118.1L133.8 117.6L139.8 117L145.8 116.4L151.8 115.9L157.7 115.3L163.7 114.8L169.7 114.3L175.7 113.7L181.7 113.2L187.7 112.7L193.7 112.2L199.7 111.6L205.7 111.1L211.7 110.6L217.7 110.1L223.6 109.6L229.6 109.2L235.6 108.7L241.6 108.2L247.6 107.7L253.6 107.3L259.6 106.8L265.6 106.4L271.6 105.9L277.6 105.5L283.5 105.1L289.5 104.6L295.5 104.2L301.5 103.8L307.5 103.4L313.5 103L319.5 102.6L325.5 102.2L331.5 101.8L337.5 101.4L343.4 101.1L349.4 100.7L355.4 100.3L361.4 100L367.4 99.6L373.4 99.3L379.4 99L385.4 98.6L391.4 98.3L397.4 98L403.4 97.7L409.3 97.4L415.3 97.1L421.3 96.8L427.3 96.5L433.3 96.2L439.3 95.9L445.3 95.7L451.3 95.4L457.3 95.1L463.3 94.9L469.2 94.6L475.2 94.4L481.2 94.2L487.2 94L493.2 93.7L499.2 93.5L505.2 93.3L511.2 93.1L517.2 92.9L523.2 92.8L529.1 92.6L535.1 92.4L541.1 92.2L547.1 92.1L553.1 91.9L559.1 91.8L565.1 91.7L571.1 91.5L577.1 91.4L583.1 91.3L589.1 91.2L595 91.1L601 91L607 90.9L613 90.8L619 90.7L625 90.7L631 90.6L637 90.6L643 90.5L649 90.5L654.9 90.4L660.9 90.4L666.9 90.4L672.9 90.4L678.9 90.4L684.9 90.4L690.9 90.4L696.9 90.4L702.9 90.4L708.9 90.4L714.9 90.5L720.8 90.5L726.8 90.5L732.8 90.6L738.8 90.6L744.8 90.7L750.8 90.8L756.8 90.8L762.8 90.9L768.8 91L774.8 91.1L780.7 91.2L786.7 91.3L792.7 91.4L798.7 91.5L804.7 91.6L810.7 91.7L816.7 91.9L822.7 92L828.7 92.1L834.7 92.3L840.6 92.4L846.6 92.6L852.6 92.7L858.6 92.9L864.6 93.1L870.6 93.2L876.6 93.4L882.6 93.6L888.6 93.8L894.6 94L900.6 94.2L906.5 94.4L912.5 94.6L918.5 94.8L924.5 95L930.5 95.2L936.5 95.4L942.5 95.6L948.5 95.9L954.5 96.1L960.5 96.3L966.4 96.6L972.4 96.8L978.4 97.1L984.4 97.3L990.4 97.6L996.4 97.8L1002.4 98.1L1008.4 98.4L1014.4 98.6L1020.4 98.9L1026.3 99.2L1032.3 99.5L1038.3 99.7L1044.3 100L1050.3 100.3L1056.3 100.6L1062.3 100.9L1068.3 101.2L1074.3 101.5L1080.3 101.8L1086.3 102.1L1092.2 102.4L1098.2 102.7L1104.2 103L1110.2 103.4L1116.2 103.7L1122.2 104L1128.2 104.3L1134.2 104.7L1140.2 105L1146.2 105.3L1152.1 105.6L1158.1 106L1164.1 106.3L1170.1 106.7L1176.1 107L1182.1 107.3L1188.1 107.7L1194.1 108L1200.1 108.4L1206.1 108.7L1212 109.1L1218 109.4L1224 109.8L1230 110.1L1236 110.5L1242 110.9M2 160.2L8 159.6L14 158.9L20 158.2L26 157.6L32 156.9L37.9 156.3L43.9 155.6L49.9 155L55.9 154.4L61.9 153.7L67.9 153.1L73.9 152.5L79.9 151.9L85.9 151.3L91.9 150.7L97.8 150.1L103.8 149.5L109.8 148.9L115.8 148.3L121.8 147.7L127.8 147.1L133.8 146.6L139.8 146L145.8 145.4L151.8 144.9L157.7 144.3L163.7 143.8L169.7 143.2L175.7 142.7L181.7 142.2L187.7 141.6L193.7 141.1L199.7 140.6L205.7 140.1L211.7 139.6L217.7 139.1L223.6 138.6L229.6 138.1L235.6 137.6L241.6 137.1L247.6 136.7L253.6 136.2L259.6 135.7L265.6 135.3L271.6 134.8L277.6 134.4L283.5 134L289.5 133.5L295.5 133.1L301.5 132.7L307.5 132.3L313.5 131.8L319.5 131.4L325.5 131L331.5 130.6L337.5 130.3L343.4 129.9L349.4 129.5L355.4 129.1L361.4 128.8L367.4 128.4L373.4 128.1L379.4 127.7L385.4 127.4L391.4 127L397.4 126.7L403.4 126.4L409.3 126.1L415.3 125.8L421.3 125.5L427.3 125.2L433.3 124.9L439.3 124.6L445.3 124.3L451.3 124.1L457.3 123.8L463.3 123.5L469.2 123.3L475.2 123L481.2 122.8L487.2 122.6L493.2 122.3L499.2 122.1L505.2 121.9L511.2 121.7L517.2 121.5L523.2 121.3L529.1 121.1L535.1 120.9L541.1 120.8L547.1 120.6L553.1 120.5L559.1 120.3L565.1 120.2L571.1 120L577.1 119.9L583.1 119.8L589.1 119.6L595 119.5L601 119.4L607 119.3L613 119.2L619 119.2L625 119.1L631 119L637 119L643 118.9L649 118.9L654.9 118.8L660.9 118.8L666.9 118.8L672.9 118.7L678.9 118.7L684.9 118.7L690.9 118.7L696.9 118.7L702.9 118.8L708.9 118.8L714.9 118.8L720.8 118.8L726.8 118.9L732.8 118.9L738.8 119L744.8 119L750.8 119.1L756.8 119.2L762.8 119.2L768.8 119.3L774.8 119.4L780.7 119.5L786.7 119.6L792.7 119.7L798.7 119.8L804.7 119.9L810.7 120.1L816.7 120.2L822.7 120.3L828.7 120.4L834.7 120.6L840.6 120.7L846.6 120.9L852.6 121.1L858.6 121.2L864.6 121.4L870.6 121.6L876.6 121.7L882.6 121.9L888.6 122.1L894.6 122.3L900.6 122.5L906.5 122.7L912.5 122.9L918.5 123.1L924.5 123.3L930.5 123.6L936.5 123.8L942.5 124L948.5 124.3L954.5 124.5L960.5 124.7L966.4 125L972.4 125.2L978.4 125.5L984.4 125.7L990.4 126L996.4 126.3L1002.4 126.6L1008.4 126.8L1014.4 127.1L1020.4 127.4L1026.3 127.7L1032.3 128L1038.3 128.3L1044.3 128.6L1050.3 128.9L1056.3 129.2L1062.3 129.5L1068.3 129.8L1074.3 130.1L1080.3 130.4L1086.3 130.7L1092.2 131L1098.2 131.4L1104.2 131.7L1110.2 132L1116.2 132.4L1122.2 132.7L1128.2 133L1134.2 133.4L1140.2 133.7L1146.2 134.1L1152.1 134.4L1158.1 134.8L1164.1 135.1L1170.1 135.5L1176.1 135.9L1182.1 136.2L1188.1 136.6L1194.1 136.9L1200.1 137.3L1206.1 137.7L1212 138.1L1218 138.4L1224 138.8L1230 139.2L1236 139.6L1242 140M2 190.1L8 189.5L14 188.8L20 188.2L26 187.5L32 186.9L37.9 186.2L43.9 185.6L49.9 185L55.9 184.4L61.9 183.7L67.9 183.1L73.9 182.5L79.9 181.9L85.9 181.3L91.9 180.7L97.8 180.1L103.8 179.5L109.8 178.9L115.8 178.3L121.8 177.7L127.8 177.1L133.8 176.5L139.8 175.9L145.8 175.4L151.8 174.8L157.7 174.2L163.7 173.7L169.7 173.1L175.7 172.6L181.7 172L187.7 171.5L193.7 170.9L199.7 170.4L205.7 169.9L211.7 169.4L217.7 168.8L223.6 168.3L229.6 167.8L235.6 167.3L241.6 166.8L247.6 166.3L253.6 165.8L259.6 165.3L265.6 164.8L271.6 164.4L277.6 163.9L283.5 163.4L289.5 163L295.5 162.5L301.5 162.1L307.5 161.6L313.5 161.2L319.5 160.7L325.5 160.3L331.5 159.9L337.5 159.5L343.4 159.1L349.4 158.7L355.4 158.3L361.4 157.9L367.4 157.5L373.4 157.1L379.4 156.7L385.4 156.3L391.4 156L397.4 155.6L403.4 155.3L409.3 154.9L415.3 154.6L421.3 154.2L427.3 153.9L433.3 153.6L439.3 153.3L445.3 153L451.3 152.7L457.3 152.4L463.3 152.1L469.2 151.8L475.2 151.5L481.2 151.3L487.2 151L493.2 150.8L499.2 150.5L505.2 150.3L511.2 150L517.2 149.8L523.2 149.6L529.1 149.4L535.1 149.2L541.1 149L547.1 148.8L553.1 148.6L559.1 148.5L565.1 148.3L571.1 148.1L577.1 148L583.1 147.8L589.1 147.7L595 147.6L601 147.5L607 147.4L613 147.3L619 147.2L625 147.1L631 147L637 146.9L643 146.9L649 146.8L654.9 146.8L660.9 146.7L666.9 146.7L672.9 146.7L678.9 146.7L684.9 146.7L690.9 146.7L696.9 146.7L702.9 146.7L708.9 146.7L714.9 146.7L720.8 146.8L726.8 146.8L732.8 146.9L738.8 146.9L744.8 147L750.8 147.1L756.8 147.1L762.8 147.2L768.8 147.3L774.8 147.4L780.7 147.5L786.7 147.6L792.7 147.7L798.7 147.9L804.7 148L810.7 148.1L816.7 148.3L822.7 148.4L828.7 148.6L834.7 148.7L840.6 148.9L846.6 149.1L852.6 149.3L858.6 149.4L864.6 149.6L870.6 149.8L876.6 150L882.6 150.2L888.6 150.4L894.6 150.6L900.6 150.9L906.5 151.1L912.5 151.3L918.5 151.6L924.5 151.8L930.5 152L936.5 152.3L942.5 152.5L948.5 152.8L954.5 153.1L960.5 153.3L966.4 153.6L972.4 153.9L978.4 154.2L984.4 154.4L990.4 154.7L996.4 155L1002.4 155.3L1008.4 155.6L1014.4 155.9L1020.4 156.2L1026.3 156.5L1032.3 156.9L1038.3 157.2L1044.3 157.5L1050.3 157.8L1056.3 158.2L1062.3 158.5L1068.3 158.8L1074.3 159.2L1080.3 159.5L1086.3 159.9L1092.2 160.2L1098.2 160.6L1104.2 160.9L1110.2 161.3L1116.2 161.6L1122.2 162L1128.2 162.4L1134.2 162.7L1140.2 163.1L1146.2 163.5L1152.1 163.8L1158.1 164.2L1164.1 164.6L1170.1 165L1176.1 165.4L1182.1 165.7L1188.1 166.1L1194.1 166.5L1200.1 166.9L1206.1 167.3L1212 167.7L1218 168.1L1224 168.5L1230 168.9L1236 169.3L1242 169.7M2 218.2L8 217.8L14 217.4L20 217L26 216.6L32 216.2L37.9 215.8L43.9 215.4L49.9 214.9L55.9 214.5L61.9 214.1L67.9 213.6L73.9 213.1L79.9 212.6L85.9 212.1L91.9 211.6L97.8 211.1L103.8 210.6L109.8 210L115.8 209.5L121.8 208.9L127.8 208.4L133.8 207.8L139.8 207.2L145.8 206.6L151.8 206L157.7 205.4L163.7 204.8L169.7 204.2L175.7 203.6L181.7 203L187.7 202.4L193.7 201.8L199.7 201.1L205.7 200.5L211.7 199.9L217.7 199.3L223.6 198.7L229.6 198.1L235.6 197.4L241.6 196.8L247.6 196.2L253.6 195.6L259.6 195L265.6 194.4L271.6 193.8L277.6 193.3L283.5 192.7L289.5 192.1L295.5 191.6L301.5 191L307.5 190.5L313.5 189.9L319.5 189.4L325.5 188.9L331.5 188.4L337.5 187.9L343.4 187.4L349.4 187L355.4 186.5L361.4 186.1L367.4 185.6L373.4 185.2L379.4 184.8L385.4 184.4L391.4 184L397.4 183.6L403.4 183.2L409.3 182.8L415.3 182.4L421.3 182.1L427.3 181.7L433.3 181.4L439.3 181.1L445.3 180.8L451.3 180.5L457.3 180.2L463.3 179.9L469.2 179.6L475.2 179.3L481.2 179.1L487.2 178.8L493.2 178.6L499.2 178.3L505.2 178.1L511.2 177.9L517.2 177.7L523.2 177.5L529.1 177.3L535.1 177.1L541.1 176.9L547.1 176.7L553.1 176.6L559.1 176.4L565.1 176.3L571.1 176.1L577.1 176L583.1 175.9L589.1 175.8L595 175.7L601 175.6L607 175.5L613 175.4L619 175.3L625 175.3L631 175.2L637 175.2L643 175.1L649 175.1L654.9 175.1L660.9 175L666.9 175L672.9 175L678.9 175L684.9 175L690.9 175L696.9 175.1L702.9 175.1L708.9 175.1L714.9 175.2L720.8 175.2L726.8 175.3L732.8 175.3L738.8 175.4L744.8 175.5L750.8 175.5L756.8 175.6L762.8 175.7L768.8 175.8L774.8 175.9L780.7 176L786.7 176.2L792.7 176.3L798.7 176.4L804.7 176.5L810.7 176.7L816.7 176.8L822.7 177L828.7 177.2L834.7 177.3L840.6 177.5L846.6 177.7L852.6 177.9L858.6 178L864.6 178.2L870.6 178.4L876.6 178.6L882.6 178.8L888.6 179.1L894.6 179.3L900.6 179.5L906.5 179.7L912.5 180L918.5 180.2L924.5 180.5L930.5 180.7L936.5 181L942.5 181.2L948.5 181.5L954.5 181.8L960.5 182L966.4 182.3L972.4 182.6L978.4 182.9L984.4 183.2L990.4 183.5L996.4 183.8L1002.4 184.1L1008.4 184.4L1014.4 184.7L1020.4 185L1026.3 185.3L1032.3 185.7L1038.3 186L1044.3 186.3L1050.3 186.7L1056.3 187L1062.3 187.3L1068.3 187.7L1074.3 188L1080.3 188.4L1086.3 188.7L1092.2 189.1L1098.2 189.5L1104.2 189.8L1110.2 190.2L1116.2 190.6L1122.2 191L1128.2 191.3L1134.2 191.7L1140.2 192.1L1146.2 192.5L1152.1 192.9L1158.1 193.3L1164.1 193.7L1170.1 194.1L1176.1 194.5L1182.1 194.9L1188.1 195.3L1194.1 195.7L1200.1 196.2L1206.1 196.6L1212 197L1218 197.4L1224 197.8L1230 198.3L1236 198.7L1242 199.1M2 249.1L8 248.5L14 247.8L20 247.2L26 246.5L32 245.9L37.9 245.3L43.9 244.6L49.9 244L55.9 243.4L61.9 242.7L67.9 242.1L73.9 241.5L79.9 240.9L85.9 240.3L91.9 239.6L97.8 239L103.8 238.4L109.8 237.8L115.8 237.2L121.8 236.6L127.8 236L133.8 235.4L139.8 234.8L145.8 234.2L151.8 233.6L157.7 233L163.7 232.4L169.7 231.8L175.7 231.2L181.7 230.7L187.7 230.1L193.7 229.5L199.7 229L205.7 228.4L211.7 227.8L217.7 227.3L223.6 226.7L229.6 226.2L235.6 225.6L241.6 225.1L247.6 224.6L253.6 224L259.6 223.5L265.6 223L271.6 222.5L277.6 222L283.5 221.4L289.5 220.9L295.5 220.4L301.5 220L307.5 219.5L313.5 219L319.5 218.5L325.5 218L331.5 217.6L337.5 217.1L343.4 216.7L349.4 216.2L355.4 215.8L361.4 215.3L367.4 214.9L373.4 214.5L379.4 214L385.4 213.6L391.4 213.2L397.4 212.8L403.4 212.4L409.3 212L415.3 211.7L421.3 211.3L427.3 210.9L433.3 210.6L439.3 210.2L445.3 209.9L451.3 209.5L457.3 209.2L463.3 208.9L469.2 208.6L475.2 208.2L481.2 207.9L487.2 207.7L493.2 207.4L499.2 207.1L505.2 206.8L511.2 206.6L517.2 206.3L523.2 206.1L529.1 205.8L535.1 205.6L541.1 205.4L547.1 205.2L553.1 204.9L559.1 204.8L565.1 204.6L571.1 204.4L577.1 204.2L583.1 204.1L589.1 203.9L595 203.8L601 203.6L607 203.5L613 203.4L619 203.3L625 203.2L631 203.1L637 203L643 203L649 202.9L654.9 202.9L660.9 202.8L666.9 202.8L672.9 202.8L678.9 202.8L684.9 202.8L690.9 202.8L696.9 202.8L702.9 202.8L708.9 202.8L714.9 202.9L720.8 202.9L726.8 203L732.8 203L738.8 203.1L744.8 203.2L750.8 203.3L756.8 203.4L762.8 203.5L768.8 203.6L774.8 203.7L780.7 203.8L786.7 204L792.7 204.1L798.7 204.2L804.7 204.4L810.7 204.6L816.7 204.7L822.7 204.9L828.7 205.1L834.7 205.3L840.6 205.5L846.6 205.7L852.6 205.9L858.6 206.1L864.6 206.3L870.6 206.5L876.6 206.8L882.6 207L888.6 207.2L894.6 207.5L900.6 207.7L906.5 208L912.5 208.3L918.5 208.5L924.5 208.8L930.5 209.1L936.5 209.4L942.5 209.7L948.5 209.9L954.5 210.2L960.5 210.5L966.4 210.9L972.4 211.2L978.4 211.5L984.4 211.8L990.4 212.1L996.4 212.5L1002.4 212.8L1008.4 213.1L1014.4 213.5L1020.4 213.8L1026.3 214.2L1032.3 214.5L1038.3 214.9L1044.3 215.2L1050.3 215.6L1056.3 216L1062.3 216.3L1068.3 216.7L1074.3 217.1L1080.3 217.4L1086.3 217.8L1092.2 218.2L1098.2 218.6L1104.2 219L1110.2 219.4L1116.2 219.8L1122.2 220.1L1128.2 220.5L1134.2 220.9L1140.2 221.3L1146.2 221.7L1152.1 222.1L1158.1 222.6L1164.1 223L1170.1 223.4L1176.1 223.8L1182.1 224.2L1188.1 224.6L1194.1 225L1200.1 225.4L1206.1 225.8L1212 226.3L1218 226.7L1224 227.1L1230 227.5L1236 227.9L1242 228.3M2 278L8 277.4L14 276.8L20 276.3L26 275.7L32 275.1L37.9 274.5L43.9 273.9L49.9 273.3L55.9 272.7L61.9 272.1L67.9 271.5L73.9 270.9L79.9 270.3L85.9 269.7L91.9 269.1L97.8 268.5L103.8 267.9L109.8 267.2L115.8 266.6L121.8 266L127.8 265.4L133.8 264.8L139.8 264.2L145.8 263.6L151.8 263L157.7 262.4L163.7 261.7L169.7 261.1L175.7 260.5L181.7 259.9L187.7 259.3L193.7 258.7L199.7 258.1L205.7 257.5L211.7 256.9L217.7 256.3L223.6 255.7L229.6 255.1L235.6 254.5L241.6 253.9L247.6 253.3L253.6 252.8L259.6 252.2L265.6 251.6L271.6 251L277.6 250.5L283.5 249.9L289.5 249.3L295.5 248.8L301.5 248.2L307.5 247.7L313.5 247.1L319.5 246.6L325.5 246.1L331.5 245.5L337.5 245L343.4 244.5L349.4 244L355.4 243.5L361.4 243L367.4 242.5L373.4 242L379.4 241.5L385.4 241L391.4 240.6L397.4 240.1L403.4 239.6L409.3 239.2L415.3 238.7L421.3 238.3L427.3 237.9L433.3 237.5L439.3 237L445.3 236.6L451.3 236.2L457.3 235.9L463.3 235.5L469.2 235.1L475.2 234.8L481.2 234.4L487.2 234.1L493.2 233.7L499.2 233.4L505.2 233.1L511.2 232.8L517.2 232.5L523.2 232.2L529.1 231.9L535.1 231.7L541.1 231.4L547.1 231.2L553.1 230.9L559.1 230.7L565.1 230.5L571.1 230.3L577.1 230.1L583.1 229.9L589.1 229.8L595 229.6L601 229.5L607 229.4L613 229.2L619 229.1L625 229.1L631 229L637 228.9L643 228.9L649 228.8L654.9 228.8L660.9 228.8L666.9 228.8L672.9 228.8L678.9 228.8L684.9 228.8L690.9 228.9L696.9 228.9L702.9 229L708.9 229.1L714.9 229.2L720.8 229.3L726.8 229.4L732.8 229.5L738.8 229.6L744.8 229.7L750.8 229.9L756.8 230L762.8 230.2L768.8 230.4L774.8 230.5L780.7 230.7L786.7 230.9L792.7 231.1L798.7 231.3L804.7 231.6L810.7 231.8L816.7 232L822.7 232.3L828.7 232.5L834.7 232.8L840.6 233L846.6 233.3L852.6 233.6L858.6 233.9L864.6 234.2L870.6 234.5L876.6 234.8L882.6 235.1L888.6 235.4L894.6 235.7L900.6 236L906.5 236.3L912.5 236.7L918.5 237L924.5 237.4L930.5 237.7L936.5 238.1L942.5 238.4L948.5 238.8L954.5 239.1L960.5 239.5L966.4 239.9L972.4 240.2L978.4 240.6L984.4 241L990.4 241.4L996.4 241.8L1002.4 242.1L1008.4 242.5L1014.4 242.9L1020.4 243.3L1026.3 243.7L1032.3 244.1L1038.3 244.5L1044.3 244.9L1050.3 245.3L1056.3 245.7L1062.3 246.1L1068.3 246.5L1074.3 246.9L1080.3 247.3L1086.3 247.7L1092.2 248.1L1098.2 248.5L1104.2 248.9L1110.2 249.3L1116.2 249.7L1122.2 250.1L1128.2 250.5L1134.2 250.8L1140.2 251.2L1146.2 251.6L1152.1 252L1158.1 252.4L1164.1 252.8L1170.1 253.2L1176.1 253.5L1182.1 253.9L1188.1 254.3L1194.1 254.7L1200.1 255L1206.1 255.4L1212 255.7L1218 256.1L1224 256.4L1230 256.8L1236 257.1L1242 257.5M2 308.9L8 308.2L14 307.6L20 306.9L26 306.2L32 305.6L37.9 304.9L43.9 304.2L49.9 303.6L55.9 302.9L61.9 302.2L67.9 301.6L73.9 300.9L79.9 300.2L85.9 299.6L91.9 298.9L97.8 298.2L103.8 297.6L109.8 296.9L115.8 296.3L121.8 295.6L127.8 294.9L133.8 294.3L139.8 293.6L145.8 293L151.8 292.3L157.7 291.7L163.7 291L169.7 290.4L175.7 289.8L181.7 289.1L187.7 288.5L193.7 287.9L199.7 287.2L205.7 286.6L211.7 286L217.7 285.4L223.6 284.7L229.6 284.1L235.6 283.5L241.6 282.9L247.6 282.3L253.6 281.7L259.6 281.1L265.6 280.5L271.6 279.9L277.6 279.3L283.5 278.8L289.5 278.2L295.5 277.6L301.5 277.1L307.5 276.5L313.5 276L319.5 275.4L325.5 274.9L331.5 274.3L337.5 273.8L343.4 273.3L349.4 272.8L355.4 272.2L361.4 271.7L367.4 271.2L373.4 270.7L379.4 270.2L385.4 269.8L391.4 269.3L397.4 268.8L403.4 268.4L409.3 267.9L415.3 267.5L421.3 267L427.3 266.6L433.3 266.2L439.3 265.7L445.3 265.3L451.3 264.9L457.3 264.5L463.3 264.1L469.2 263.8L475.2 263.4L481.2 263L487.2 262.7L493.2 262.3L499.2 262L505.2 261.7L511.2 261.4L517.2 261L523.2 260.7L529.1 260.5L535.1 260.2L541.1 259.9L547.1 259.6L553.1 259.4L559.1 259.2L565.1 258.9L571.1 258.7L577.1 258.5L583.1 258.3L589.1 258.1L595 257.9L601 257.8L607 257.6L613 257.4L619 257.3L625 257.2L631 257.1L637 257L643 256.9L649 256.8L654.9 256.7L660.9 256.7L666.9 256.6L672.9 256.6L678.9 256.6L684.9 256.6L690.9 256.6L696.9 256.6L702.9 256.7L708.9 256.7L714.9 256.8L720.8 256.8L726.8 256.9L732.8 257L738.8 257.1L744.8 257.3L750.8 257.4L756.8 257.6L762.8 257.7L768.8 257.9L774.8 258.1L780.7 258.3L786.7 258.5L792.7 258.7L798.7 258.9L804.7 259.2L810.7 259.4L816.7 259.7L822.7 260L828.7 260.2L834.7 260.5L840.6 260.8L846.6 261.1L852.6 261.4L858.6 261.7L864.6 262.1L870.6 262.4L876.6 262.7L882.6 263.1L888.6 263.4L894.6 263.8L900.6 264.1L906.5 264.5L912.5 264.9L918.5 265.3L924.5 265.6L930.5 266L936.5 266.4L942.5 266.8L948.5 267.2L954.5 267.6L960.5 268L966.4 268.3L972.4 268.7L978.4 269.1L984.4 269.5L990.4 269.9L996.4 270.3L1002.4 270.7L1008.4 271.1L1014.4 271.5L1020.4 271.9L1026.3 272.3L1032.3 272.7L1038.3 273.1L1044.3 273.5L1050.3 273.9L1056.3 274.3L1062.3 274.7L1068.3 275.1L1074.3 275.5L1080.3 275.9L1086.3 276.3L1092.2 276.7L1098.2 277.1L1104.2 277.5L1110.2 277.9L1116.2 278.3L1122.2 278.7L1128.2 279.1L1134.2 279.5L1140.2 279.9L1146.2 280.3L1152.1 280.7L1158.1 281.1L1164.1 281.4L1170.1 281.8L1176.1 282.2L1182.1 282.6L1188.1 283L1194.1 283.3L1200.1 283.7L1206.1 284.1L1212 284.4L1218 284.8L1224 285.2L1230 285.5L1236 285.9L1242 286.2M2 338.4L8 337.8L14 337.1L20 336.5L26 335.8L32 335.2L37.9 334.5L43.9 333.8L49.9 333.2L55.9 332.5L61.9 331.9L67.9 331.2L73.9 330.5L79.9 329.9L85.9 329.2L91.9 328.5L97.8 327.8L103.8 327.2L109.8 326.5L115.8 325.8L121.8 325.1L127.8 324.4L133.8 323.8L139.8 323.1L145.8 322.4L151.8 321.7L157.7 321.1L163.7 320.4L169.7 319.7L175.7 319L181.7 318.4L187.7 317.7L193.7 317L199.7 316.4L205.7 315.7L211.7 315L217.7 314.4L223.6 313.7L229.6 313.1L235.6 312.4L241.6 311.8L247.6 311.1L253.6 310.5L259.6 309.8L265.6 309.2L271.6 308.6L277.6 307.9L283.5 307.3L289.5 306.7L295.5 306.1L301.5 305.5L307.5 304.9L313.5 304.3L319.5 303.7L325.5 303.1L331.5 302.5L337.5 301.9L343.4 301.4L349.4 300.8L355.4 300.2L361.4 299.7L367.4 299.1L373.4 298.6L379.4 298.1L385.4 297.6L391.4 297L397.4 296.5L403.4 296L409.3 295.5L415.3 295.1L421.3 294.6L427.3 294.1L433.3 293.6L439.3 293.2L445.3 292.8L451.3 292.3L457.3 291.9L463.3 291.5L469.2 291.1L475.2 290.7L481.2 290.3L487.2 289.9L493.2 289.6L499.2 289.2L505.2 288.9L511.2 288.5L517.2 288.2L523.2 287.9L529.1 287.6L535.1 287.3L541.1 287.1L547.1 286.8L553.1 286.5L559.1 286.3L565.1 286.1L571.1 285.9L577.1 285.7L583.1 285.5L589.1 285.3L595 285.1L601 285L607 284.9L613 284.7L619 284.6L625 284.5L631 284.5L637 284.4L643 284.4L649 284.3L654.9 284.3L660.9 284.3L666.9 284.3L672.9 284.3L678.9 284.3L684.9 284.4L690.9 284.4L696.9 284.5L702.9 284.6L708.9 284.7L714.9 284.8L720.8 284.9L726.8 285L732.8 285.1L738.8 285.3L744.8 285.4L750.8 285.6L756.8 285.8L762.8 286L768.8 286.2L774.8 286.4L780.7 286.6L786.7 286.8L792.7 287.1L798.7 287.3L804.7 287.6L810.7 287.8L816.7 288.1L822.7 288.4L828.7 288.6L834.7 288.9L840.6 289.2L846.6 289.5L852.6 289.9L858.6 290.2L864.6 290.5L870.6 290.8L876.6 291.2L882.6 291.5L888.6 291.9L894.6 292.2L900.6 292.6L906.5 293L912.5 293.4L918.5 293.7L924.5 294.1L930.5 294.5L936.5 294.9L942.5 295.3L948.5 295.7L954.5 296.1L960.5 296.5L966.4 296.9L972.4 297.4L978.4 297.8L984.4 298.2L990.4 298.6L996.4 299.1L1002.4 299.5L1008.4 299.9L1014.4 300.4L1020.4 300.8L1026.3 301.2L1032.3 301.7L1038.3 302.1L1044.3 302.6L1050.3 303L1056.3 303.5L1062.3 303.9L1068.3 304.3L1074.3 304.8L1080.3 305.2L1086.3 305.7L1092.2 306.1L1098.2 306.6L1104.2 307L1110.2 307.5L1116.2 307.9L1122.2 308.3L1128.2 308.8L1134.2 309.2L1140.2 309.7L1146.2 310.1L1152.1 310.5L1158.1 310.9L1164.1 311.4L1170.1 311.8L1176.1 312.2L1182.1 312.6L1188.1 313L1194.1 313.5L1200.1 313.9L1206.1 314.3L1212 314.7L1218 315L1224 315.4L1230 315.8L1236 316.2L1242 316.6M2 368.8L8 368L14 367.3L20 366.6L26 365.9L32 365.1L37.9 364.4L43.9 363.7L49.9 363L55.9 362.2L61.9 361.5L67.9 360.8L73.9 360L79.9 359.3L85.9 358.6L91.9 357.9L97.8 357.1L103.8 356.4L109.8 355.7L115.8 355L121.8 354.2L127.8 353.5L133.8 352.8L139.8 352.1L145.8 351.4L151.8 350.6L157.7 349.9L163.7 349.2L169.7 348.5L175.7 347.8L181.7 347.1L187.7 346.4L193.7 345.7L199.7 345L205.7 344.3L211.7 343.6L217.7 342.9L223.6 342.3L229.6 341.6L235.6 340.9L241.6 340.2L247.6 339.6L253.6 338.9L259.6 338.2L265.6 337.6L271.6 336.9L277.6 336.3L283.5 335.7L289.5 335L295.5 334.4L301.5 333.8L307.5 333.2L313.5 332.6L319.5 331.9L325.5 331.4L331.5 330.8L337.5 330.2L343.4 329.6L349.4 329L355.4 328.5L361.4 327.9L367.4 327.3L373.4 326.8L379.4 326.3L385.4 325.7L391.4 325.2L397.4 324.7L403.4 324.2L409.3 323.7L415.3 323.2L421.3 322.7L427.3 322.2L433.3 321.8L439.3 321.3L445.3 320.9L451.3 320.4L457.3 320L463.3 319.6L469.2 319.2L475.2 318.8L481.2 318.4L487.2 318L493.2 317.6L499.2 317.3L505.2 316.9L511.2 316.6L517.2 316.2L523.2 315.9L529.1 315.6L535.1 315.3L541.1 315L547.1 314.7L553.1 314.5L559.1 314.2L565.1 314L571.1 313.8L577.1 313.5L583.1 313.3L589.1 313.2L595 313L601 312.8L607 312.7L613 312.5L619 312.4L625 312.3L631 312.2L637 312.1L643 312L649 311.9L654.9 311.9L660.9 311.9L666.9 311.8L672.9 311.8L678.9 311.9L684.9 311.9L690.9 311.9L696.9 312L702.9 312L708.9 312.1L714.9 312.2L720.8 312.3L726.8 312.5L732.8 312.6L738.8 312.7L744.8 312.9L750.8 313.1L756.8 313.3L762.8 313.5L768.8 313.7L774.8 313.9L780.7 314.1L786.7 314.4L792.7 314.6L798.7 314.9L804.7 315.2L810.7 315.4L816.7 315.7L822.7 316L828.7 316.3L834.7 316.7L840.6 317L846.6 317.3L852.6 317.7L858.6 318L864.6 318.4L870.6 318.7L876.6 319.1L882.6 319.5L888.6 319.9L894.6 320.3L900.6 320.7L906.5 321.1L912.5 321.5L918.5 321.9L924.5 322.3L930.5 322.8L936.5 323.2L942.5 323.6L948.5 324.1L954.5 324.5L960.5 325L966.4 325.4L972.4 325.9L978.4 326.3L984.4 326.8L990.4 327.3L996.4 327.7L1002.4 328.2L1008.4 328.6L1014.4 329.1L1020.4 329.6L1026.3 330.1L1032.3 330.5L1038.3 331L1044.3 331.5L1050.3 331.9L1056.3 332.4L1062.3 332.9L1068.3 333.4L1074.3 333.8L1080.3 334.3L1086.3 334.8L1092.2 335.2L1098.2 335.7L1104.2 336.1L1110.2 336.6L1116.2 337.1L1122.2 337.5L1128.2 338L1134.2 338.4L1140.2 338.8L1146.2 339.3L1152.1 339.7L1158.1 340.1L1164.1 340.6L1170.1 341L1176.1 341.4L1182.1 341.8L1188.1 342.2L1194.1 342.6L1200.1 343L1206.1 343.4L1212 343.8L1218 344.1L1224 344.5L1230 344.8L1236 345.2L1242 345.5M2 397.9L8 397.2L14 396.6L20 396L26 395.3L32 394.6L37.9 394L43.9 393.3L49.9 392.6L55.9 392L61.9 391.3L67.9 390.6L73.9 389.9L79.9 389.2L85.9 388.5L91.9 387.7L97.8 387L103.8 386.3L109.8 385.6L115.8 384.9L121.8 384.1L127.8 383.4L133.8 382.7L139.8 381.9L145.8 381.2L151.8 380.4L157.7 379.7L163.7 379L169.7 378.2L175.7 377.5L181.7 376.7L187.7 376L193.7 375.3L199.7 374.5L205.7 373.8L211.7 373L217.7 372.3L223.6 371.6L229.6 370.8L235.6 370.1L241.6 369.4L247.6 368.7L253.6 368L259.6 367.2L265.6 366.5L271.6 365.8L277.6 365.1L283.5 364.4L289.5 363.7L295.5 363.1L301.5 362.4L307.5 361.7L313.5 361L319.5 360.4L325.5 359.7L331.5 359.1L337.5 358.4L343.4 357.8L349.4 357.2L355.4 356.6L361.4 356L367.4 355.4L373.4 354.8L379.4 354.2L385.4 353.6L391.4 353.1L397.4 352.5L403.4 352L409.3 351.5L415.3 350.9L421.3 350.4L427.3 349.9L433.3 349.4L439.3 349L445.3 348.5L451.3 348L457.3 347.6L463.3 347.2L469.2 346.7L475.2 346.3L481.2 345.9L487.2 345.5L493.2 345.2L499.2 344.8L505.2 344.4L511.2 344.1L517.2 343.7L523.2 343.4L529.1 343.1L535.1 342.8L541.1 342.5L547.1 342.3L553.1 342L559.1 341.8L565.1 341.5L571.1 341.3L577.1 341.1L583.1 340.9L589.1 340.7L595 340.5L601 340.4L607 340.2L613 340.1L619 340L625 339.9L631 339.8L637 339.7L643 339.7L649 339.6L654.9 339.6L660.9 339.6L666.9 339.6L672.9 339.6L678.9 339.6L684.9 339.7L690.9 339.7L696.9 339.8L702.9 339.9L708.9 340L714.9 340.1L720.8 340.2L726.8 340.3L732.8 340.5L738.8 340.6L744.8 340.8L750.8 341L756.8 341.2L762.8 341.4L768.8 341.6L774.8 341.9L780.7 342.1L786.7 342.3L792.7 342.6L798.7 342.9L804.7 343.2L810.7 343.5L816.7 343.8L822.7 344.1L828.7 344.4L834.7 344.7L840.6 345L846.6 345.4L852.6 345.7L858.6 346.1L864.6 346.5L870.6 346.9L876.6 347.2L882.6 347.6L888.6 348L894.6 348.4L900.6 348.8L906.5 349.2L912.5 349.7L918.5 350.1L924.5 350.5L930.5 351L936.5 351.4L942.5 351.9L948.5 352.3L954.5 352.8L960.5 353.2L966.4 353.7L972.4 354.1L978.4 354.6L984.4 355.1L990.4 355.6L996.4 356L1002.4 356.5L1008.4 357L1014.4 357.5L1020.4 358L1026.3 358.4L1032.3 358.9L1038.3 359.4L1044.3 359.9L1050.3 360.4L1056.3 360.9L1062.3 361.4L1068.3 361.9L1074.3 362.4L1080.3 362.8L1086.3 363.3L1092.2 363.8L1098.2 364.3L1104.2 364.8L1110.2 365.3L1116.2 365.7L1122.2 366.2L1128.2 366.7L1134.2 367.2L1140.2 367.6L1146.2 368.1L1152.1 368.6L1158.1 369L1164.1 369.5L1170.1 369.9L1176.1 370.4L1182.1 370.8L1188.1 371.2L1194.1 371.7L1200.1 372.1L1206.1 372.5L1212 372.9L1218 373.3L1224 373.7L1230 374.1L1236 374.5L1242 374.9M2 428L8 427.3L14 426.5L20 425.8L26 425.1L32 424.4L37.9 423.6L43.9 422.9L49.9 422.1L55.9 421.4L61.9 420.6L67.9 419.9L73.9 419.1L79.9 418.4L85.9 417.6L91.9 416.9L97.8 416.1L103.8 415.3L109.8 414.6L115.8 413.8L121.8 413.1L127.8 412.3L133.8 411.5L139.8 410.8L145.8 410L151.8 409.2L157.7 408.5L163.7 407.7L169.7 407L175.7 406.2L181.7 405.4L187.7 404.7L193.7 403.9L199.7 403.2L205.7 402.4L211.7 401.7L217.7 400.9L223.6 400.2L229.6 399.5L235.6 398.7L241.6 398L247.6 397.3L253.6 396.6L259.6 395.8L265.6 395.1L271.6 394.4L277.6 393.7L283.5 393L289.5 392.3L295.5 391.6L301.5 390.9L307.5 390.3L313.5 389.6L319.5 388.9L325.5 388.3L331.5 387.6L337.5 386.9L343.4 386.3L349.4 385.7L355.4 385L361.4 384.4L367.4 383.8L373.4 383.2L379.4 382.6L385.4 382L391.4 381.4L397.4 380.9L403.4 380.3L409.3 379.8L415.3 379.2L421.3 378.7L427.3 378.1L433.3 377.6L439.3 377.1L445.3 376.6L451.3 376.1L457.3 375.7L463.3 375.2L469.2 374.7L475.2 374.3L481.2 373.9L487.2 373.4L493.2 373L499.2 372.6L505.2 372.3L511.2 371.9L517.2 371.5L523.2 371.2L529.1 370.8L535.1 370.5L541.1 370.2L547.1 369.9L553.1 369.6L559.1 369.4L565.1 369.1L571.1 368.9L577.1 368.7L583.1 368.5L589.1 368.3L595 368.1L601 367.9L607 367.8L613 367.6L619 367.5L625 367.4L631 367.3L637 367.3L643 367.2L649 367.2L654.9 367.1L660.9 367.1L666.9 367.1L672.9 367.2L678.9 367.2L684.9 367.2L690.9 367.3L696.9 367.4L702.9 367.5L708.9 367.6L714.9 367.7L720.8 367.8L726.8 368L732.8 368.1L738.8 368.3L744.8 368.5L750.8 368.7L756.8 368.9L762.8 369.1L768.8 369.3L774.8 369.6L780.7 369.8L786.7 370.1L792.7 370.4L798.7 370.6L804.7 370.9L810.7 371.2L816.7 371.6L822.7 371.9L828.7 372.2L834.7 372.6L840.6 372.9L846.6 373.3L852.6 373.6L858.6 374L864.6 374.4L870.6 374.8L876.6 375.2L882.6 375.6L888.6 376L894.6 376.5L900.6 376.9L906.5 377.4L912.5 377.8L918.5 378.3L924.5 378.7L930.5 379.2L936.5 379.7L942.5 380.2L948.5 380.6L954.5 381.1L960.5 381.6L966.4 382.1L972.4 382.6L978.4 383.1L984.4 383.7L990.4 384.2L996.4 384.7L1002.4 385.2L1008.4 385.7L1014.4 386.3L1020.4 386.8L1026.3 387.3L1032.3 387.9L1038.3 388.4L1044.3 388.9L1050.3 389.4L1056.3 390L1062.3 390.5L1068.3 391L1074.3 391.5L1080.3 392.1L1086.3 392.6L1092.2 393.1L1098.2 393.6L1104.2 394.1L1110.2 394.6L1116.2 395.1L1122.2 395.6L1128.2 396.1L1134.2 396.6L1140.2 397.1L1146.2 397.6L1152.1 398.1L1158.1 398.5L1164.1 399L1170.1 399.4L1176.1 399.9L1182.1 400.3L1188.1 400.7L1194.1 401.2L1200.1 401.6L1206.1 402L1212 402.4L1218 402.7L1224 403.1L1230 403.5L1236 403.8L1242 404.1M2 458.1L8 457.4L14 456.7L20 456.1L26 455.3L32 454.6L37.9 453.9L43.9 453.2L49.9 452.4L55.9 451.7L61.9 450.9L67.9 450.2L73.9 449.4L79.9 448.6L85.9 447.9L91.9 447.1L97.8 446.3L103.8 445.5L109.8 444.7L115.8 443.9L121.8 443.1L127.8 442.3L133.8 441.5L139.8 440.6L145.8 439.8L151.8 439L157.7 438.2L163.7 437.4L169.7 436.5L175.7 435.7L181.7 434.9L187.7 434.1L193.7 433.2L199.7 432.4L205.7 431.6L211.7 430.8L217.7 430L223.6 429.1L229.6 428.3L235.6 427.5L241.6 426.7L247.6 425.9L253.6 425.1L259.6 424.3L265.6 423.6L271.6 422.8L277.6 422L283.5 421.3L289.5 420.5L295.5 419.7L301.5 419L307.5 418.3L313.5 417.5L319.5 416.8L325.5 416.1L331.5 415.4L337.5 414.7L343.4 414L349.4 413.4L355.4 412.7L361.4 412.1L367.4 411.4L373.4 410.8L379.4 410.2L385.4 409.5L391.4 408.9L397.4 408.4L403.4 407.8L409.3 407.2L415.3 406.6L421.3 406.1L427.3 405.6L433.3 405L439.3 404.5L445.3 404L451.3 403.5L457.3 403L463.3 402.6L469.2 402.1L475.2 401.7L481.2 401.3L487.2 400.8L493.2 400.4L499.2 400L505.2 399.7L511.2 399.3L517.2 398.9L523.2 398.6L529.1 398.3L535.1 398L541.1 397.7L547.1 397.4L553.1 397.1L559.1 396.8L565.1 396.6L571.1 396.4L577.1 396.2L583.1 396L589.1 395.8L595 395.6L601 395.5L607 395.3L613 395.2L619 395.1L625 395L631 394.9L637 394.9L643 394.8L649 394.8L654.9 394.8L660.9 394.8L666.9 394.8L672.9 394.8L678.9 394.8L684.9 394.9L690.9 395L696.9 395.1L702.9 395.2L708.9 395.3L714.9 395.4L720.8 395.5L726.8 395.7L732.8 395.8L738.8 396L744.8 396.2L750.8 396.4L756.8 396.6L762.8 396.8L768.8 397.1L774.8 397.3L780.7 397.6L786.7 397.9L792.7 398.1L798.7 398.4L804.7 398.7L810.7 399.1L816.7 399.4L822.7 399.7L828.7 400.1L834.7 400.4L840.6 400.8L846.6 401.2L852.6 401.5L858.6 401.9L864.6 402.3L870.6 402.7L876.6 403.2L882.6 403.6L888.6 404L894.6 404.5L900.6 404.9L906.5 405.4L912.5 405.9L918.5 406.3L924.5 406.8L930.5 407.3L936.5 407.8L942.5 408.3L948.5 408.8L954.5 409.4L960.5 409.9L966.4 410.4L972.4 411L978.4 411.5L984.4 412L990.4 412.6L996.4 413.1L1002.4 413.7L1008.4 414.3L1014.4 414.8L1020.4 415.4L1026.3 415.9L1032.3 416.5L1038.3 417.1L1044.3 417.6L1050.3 418.2L1056.3 418.8L1062.3 419.3L1068.3 419.9L1074.3 420.5L1080.3 421L1086.3 421.6L1092.2 422.1L1098.2 422.7L1104.2 423.3L1110.2 423.8L1116.2 424.3L1122.2 424.9L1128.2 425.4L1134.2 425.9L1140.2 426.5L1146.2 427L1152.1 427.5L1158.1 428L1164.1 428.5L1170.1 429L1176.1 429.5L1182.1 430L1188.1 430.4L1194.1 430.9L1200.1 431.3L1206.1 431.8L1212 432.2L1218 432.6L1224 433L1230 433.4L1236 433.8L1242 434.2M2 487.9L8 487.3L14 486.6L20 485.9L26 485.3L32 484.6L37.9 483.9L43.9 483.1L49.9 482.4L55.9 481.7L61.9 480.9L67.9 480.1L73.9 479.4L79.9 478.6L85.9 477.8L91.9 477L97.8 476.2L103.8 475.4L109.8 474.6L115.8 473.7L121.8 472.9L127.8 472.1L133.8 471.2L139.8 470.4L145.8 469.5L151.8 468.6L157.7 467.8L163.7 466.9L169.7 466.1L175.7 465.2L181.7 464.3L187.7 463.4L193.7 462.6L199.7 461.7L205.7 460.8L211.7 460L217.7 459.1L223.6 458.2L229.6 457.4L235.6 456.5L241.6 455.6L247.6 454.8L253.6 453.9L259.6 453.1L265.6 452.3L271.6 451.4L277.6 450.6L283.5 449.8L289.5 449L295.5 448.1L301.5 447.3L307.5 446.6L313.5 445.8L319.5 445L325.5 444.2L331.5 443.5L337.5 442.7L343.4 442L349.4 441.3L355.4 440.6L361.4 439.9L367.4 439.2L373.4 438.5L379.4 437.9L385.4 437.2L391.4 436.6L397.4 436L403.4 435.4L409.3 434.8L415.3 434.2L421.3 433.7L427.3 433.1L433.3 432.6L439.3 432L445.3 431.5L451.3 431L457.3 430.5L463.3 430.1L469.2 429.6L475.2 429.2L481.2 428.7L487.2 428.3L493.2 427.9L499.2 427.5L505.2 427.2L511.2 426.8L517.2 426.5L523.2 426.1L529.1 425.8L535.1 425.5L541.1 425.2L547.1 424.9L553.1 424.7L559.1 424.4L565.1 424.2L571.1 423.9L577.1 423.7L583.1 423.5L589.1 423.4L595 423.2L601 423L607 422.9L613 422.8L619 422.7L625 422.6L631 422.5L637 422.4L643 422.4L649 422.4L654.9 422.3L660.9 422.3L666.9 422.3L672.9 422.4L678.9 422.4L684.9 422.5L690.9 422.5L696.9 422.6L702.9 422.7L708.9 422.8L714.9 422.9L720.8 423.1L726.8 423.2L732.8 423.4L738.8 423.6L744.8 423.8L750.8 424L756.8 424.3L762.8 424.5L768.8 424.8L774.8 425L780.7 425.3L786.7 425.6L792.7 425.9L798.7 426.2L804.7 426.6L810.7 426.9L816.7 427.3L822.7 427.6L828.7 428L834.7 428.4L840.6 428.8L846.6 429.2L852.6 429.6L858.6 430.1L864.6 430.5L870.6 430.9L876.6 431.4L882.6 431.8L888.6 432.3L894.6 432.8L900.6 433.3L906.5 433.8L912.5 434.3L918.5 434.8L924.5 435.3L930.5 435.8L936.5 436.3L942.5 436.8L948.5 437.4L954.5 437.9L960.5 438.4L966.4 439L972.4 439.5L978.4 440.1L984.4 440.6L990.4 441.2L996.4 441.7L1002.4 442.3L1008.4 442.9L1014.4 443.4L1020.4 444L1026.3 444.5L1032.3 445.1L1038.3 445.7L1044.3 446.2L1050.3 446.8L1056.3 447.4L1062.3 447.9L1068.3 448.5L1074.3 449.1L1080.3 449.6L1086.3 450.2L1092.2 450.8L1098.2 451.3L1104.2 451.9L1110.2 452.4L1116.2 453L1122.2 453.5L1128.2 454L1134.2 454.6L1140.2 455.1L1146.2 455.6L1152.1 456.2L1158.1 456.7L1164.1 457.2L1170.1 457.7L1176.1 458.2L1182.1 458.7L1188.1 459.2L1194.1 459.6L1200.1 460.1L1206.1 460.6L1212 461L1218 461.5L1224 461.9L1230 462.4L1236 462.8L1242 463.2M2 518.7L8 518.1L14 517.4L20 516.7L26 516L32 515.3L37.9 514.5L43.9 513.8L49.9 513L55.9 512.2L61.9 511.4L67.9 510.6L73.9 509.8L79.9 509L85.9 508.1L91.9 507.2L97.8 506.4L103.8 505.5L109.8 504.6L115.8 503.7L121.8 502.8L127.8 501.9L133.8 501L139.8 500.1L145.8 499.1L151.8 498.2L157.7 497.3L163.7 496.3L169.7 495.4L175.7 494.4L181.7 493.5L187.7 492.6L193.7 491.6L199.7 490.7L205.7 489.7L211.7 488.8L217.7 487.8L223.6 486.9L229.6 486L235.6 485L241.6 484.1L247.6 483.2L253.6 482.3L259.6 481.4L265.6 480.5L271.6 479.6L277.6 478.7L283.5 477.8L289.5 477L295.5 476.1L301.5 475.3L307.5 474.4L313.5 473.6L319.5 472.8L325.5 472L331.5 471.3L337.5 470.5L343.4 469.7L349.4 469L355.4 468.3L361.4 467.6L367.4 466.9L373.4 466.2L379.4 465.5L385.4 464.9L391.4 464.2L397.4 463.6L403.4 463L409.3 462.4L415.3 461.8L421.3 461.2L427.3 460.6L433.3 460.1L439.3 459.5L445.3 459L451.3 458.5L457.3 458L463.3 457.5L469.2 457.1L475.2 456.6L481.2 456.2L487.2 455.8L493.2 455.4L499.2 455L505.2 454.6L511.2 454.2L517.2 453.9L523.2 453.5L529.1 453.2L535.1 452.9L541.1 452.6L547.1 452.3L553.1 452.1L559.1 451.8L565.1 451.6L571.1 451.4L577.1 451.2L583.1 451L589.1 450.8L595 450.7L601 450.5L607 450.4L613 450.3L619 450.2L625 450.1L631 450.1L637 450L643 450L649 450L654.9 450L660.9 450L666.9 450L672.9 450L678.9 450.1L684.9 450.1L690.9 450.2L696.9 450.3L702.9 450.4L708.9 450.5L714.9 450.7L720.8 450.8L726.8 451L732.8 451.1L738.8 451.3L744.8 451.5L750.8 451.7L756.8 451.9L762.8 452.1L768.8 452.4L774.8 452.6L780.7 452.9L786.7 453.1L792.7 453.4L798.7 453.7L804.7 454L810.7 454.3L816.7 454.6L822.7 454.9L828.7 455.3L834.7 455.6L840.6 456L846.6 456.4L852.6 456.7L858.6 457.1L864.6 457.5L870.6 457.9L876.6 458.3L882.6 458.7L888.6 459.2L894.6 459.6L900.6 460.1L906.5 460.5L912.5 461L918.5 461.4L924.5 461.9L930.5 462.4L936.5 462.9L942.5 463.4L948.5 463.9L954.5 464.4L960.5 464.9L966.4 465.4L972.4 465.9L978.4 466.4L984.4 467L990.4 467.5L996.4 468.1L1002.4 468.6L1008.4 469.2L1014.4 469.7L1020.4 470.3L1026.3 470.9L1032.3 471.5L1038.3 472L1044.3 472.6L1050.3 473.2L1056.3 473.8L1062.3 474.4L1068.3 475L1074.3 475.6L1080.3 476.2L1086.3 476.8L1092.2 477.4L1098.2 478L1104.2 478.6L1110.2 479.3L1116.2 479.9L1122.2 480.5L1128.2 481.1L1134.2 481.7L1140.2 482.4L1146.2 483L1152.1 483.6L1158.1 484.3L1164.1 484.9L1170.1 485.5L1176.1 486.2L1182.1 486.8L1188.1 487.4L1194.1 488.1L1200.1 488.7L1206.1 489.3L1212 490L1218 490.6L1224 491.2L1230 491.9L1236 492.5L1242 493.1M2 549.1L8 548.4L14 547.8L20 547.1L26 546.4L32 545.7L37.9 545L43.9 544.2L49.9 543.4L55.9 542.7L61.9 541.8L67.9 541L73.9 540.2L79.9 539.3L85.9 538.4L91.9 537.6L97.8 536.7L103.8 535.7L109.8 534.8L115.8 533.9L121.8 532.9L127.8 532L133.8 531L139.8 530L145.8 529.1L151.8 528.1L157.7 527.1L163.7 526.1L169.7 525.1L175.7 524.1L181.7 523.1L187.7 522.1L193.7 521.1L199.7 520.1L205.7 519L211.7 518L217.7 517L223.6 516L229.6 515L235.6 514.1L241.6 513.1L247.6 512.1L253.6 511.1L259.6 510.2L265.6 509.2L271.6 508.3L277.6 507.3L283.5 506.4L289.5 505.5L295.5 504.6L301.5 503.7L307.5 502.8L313.5 502L319.5 501.1L325.5 500.3L331.5 499.5L337.5 498.7L343.4 497.9L349.4 497.1L355.4 496.4L361.4 495.6L367.4 494.9L373.4 494.2L379.4 493.5L385.4 492.8L391.4 492.1L397.4 491.5L403.4 490.9L409.3 490.2L415.3 489.6L421.3 489L427.3 488.5L433.3 487.9L439.3 487.3L445.3 486.8L451.3 486.3L457.3 485.8L463.3 485.3L469.2 484.8L475.2 484.4L481.2 483.9L487.2 483.5L493.2 483.1L499.2 482.7L505.2 482.3L511.2 481.9L517.2 481.5L523.2 481.2L529.1 480.9L535.1 480.6L541.1 480.3L547.1 480L553.1 479.7L559.1 479.4L565.1 479.2L571.1 479L577.1 478.8L583.1 478.6L589.1 478.4L595 478.2L601 478.1L607 477.9L613 477.8L619 477.7L625 477.6L631 477.5L637 477.5L643 477.4L649 477.4L654.9 477.4L660.9 477.4L666.9 477.4L672.9 477.4L678.9 477.4L684.9 477.5L690.9 477.5L696.9 477.6L702.9 477.7L708.9 477.8L714.9 478L720.8 478.1L726.8 478.2L732.8 478.4L738.8 478.6L744.8 478.8L750.8 479L756.8 479.2L762.8 479.5L768.8 479.7L774.8 480L780.7 480.2L786.7 480.5L792.7 480.8L798.7 481.2L804.7 481.5L810.7 481.8L816.7 482.2L822.7 482.6L828.7 482.9L834.7 483.3L840.6 483.7L846.6 484.2L852.6 484.6L858.6 485.1L864.6 485.5L870.6 486L876.6 486.5L882.6 487L888.6 487.5L894.6 488L900.6 488.6L906.5 489.1L912.5 489.7L918.5 490.3L924.5 490.9L930.5 491.4L936.5 492L942.5 492.7L948.5 493.3L954.5 493.9L960.5 494.5L966.4 495.2L972.4 495.8L978.4 496.5L984.4 497.1L990.4 497.8L996.4 498.4L1002.4 499.1L1008.4 499.8L1014.4 500.4L1020.4 501.1L1026.3 501.8L1032.3 502.5L1038.3 503.1L1044.3 503.8L1050.3 504.5L1056.3 505.1L1062.3 505.8L1068.3 506.5L1074.3 507.1L1080.3 507.8L1086.3 508.5L1092.2 509.1L1098.2 509.8L1104.2 510.4L1110.2 511L1116.2 511.7L1122.2 512.3L1128.2 512.9L1134.2 513.5L1140.2 514.1L1146.2 514.7L1152.1 515.3L1158.1 515.9L1164.1 516.4L1170.1 517L1176.1 517.5L1182.1 518L1188.1 518.6L1194.1 519.1L1200.1 519.5L1206.1 520L1212 520.5L1218 520.9L1224 521.3L1230 521.8L1236 522.2L1242 522.5M2 579.1L8 579L14 578.7L20 578.4L26 578.1L32 577.6L37.9 577.1L43.9 576.6L49.9 576L55.9 575.3L61.9 574.6L67.9 573.8L73.9 573L79.9 572.1L85.9 571.2L91.9 570.3L97.8 569.3L103.8 568.3L109.8 567.2L115.8 566.2L121.8 565.1L127.8 563.9L133.8 562.8L139.8 561.6L145.8 560.4L151.8 559.2L157.7 558L163.7 556.8L169.7 555.6L175.7 554.3L181.7 553.1L187.7 551.9L193.7 550.6L199.7 549.4L205.7 548.2L211.7 546.9L217.7 545.7L223.6 544.6L229.6 543.4L235.6 542.2L241.6 541.1L247.6 540L253.6 538.9L259.6 537.9L265.6 536.8L271.6 535.8L277.6 534.8L283.5 533.8L289.5 532.9L295.5 531.9L301.5 531L307.5 530.1L313.5 529.2L319.5 528.3L325.5 527.5L331.5 526.7L337.5 525.8L343.4 525L349.4 524.3L355.4 523.5L361.4 522.8L367.4 522L373.4 521.3L379.4 520.6L385.4 519.9L391.4 519.2L397.4 518.6L403.4 517.9L409.3 517.3L415.3 516.7L421.3 516.1L427.3 515.5L433.3 515L439.3 514.4L445.3 513.9L451.3 513.4L457.3 512.9L463.3 512.4L469.2 511.9L475.2 511.5L481.2 511L487.2 510.6L493.2 510.2L499.2 509.8L505.2 509.4L511.2 509.1L517.2 508.7L523.2 508.4L529.1 508.1L535.1 507.8L541.1 507.5L547.1 507.2L553.1 507L559.1 506.7L565.1 506.5L571.1 506.3L577.1 506.1L583.1 505.9L589.1 505.8L595 505.6L601 505.5L607 505.4L613 505.3L619 505.2L625 505.2L631 505.1L637 505.1L643 505.1L649 505.1L654.9 505.1L660.9 505.1L666.9 505.2L672.9 505.2L678.9 505.3L684.9 505.4L690.9 505.5L696.9 505.6L702.9 505.7L708.9 505.9L714.9 506L720.8 506.2L726.8 506.4L732.8 506.6L738.8 506.8L744.8 507L750.8 507.3L756.8 507.5L762.8 507.8L768.8 508L774.8 508.3L780.7 508.6L786.7 508.9L792.7 509.3L798.7 509.6L804.7 510L810.7 510.3L816.7 510.7L822.7 511.1L828.7 511.5L834.7 511.9L840.6 512.3L846.6 512.7L852.6 513.2L858.6 513.6L864.6 514.1L870.6 514.6L876.6 515L882.6 515.5L888.6 516L894.6 516.6L900.6 517.1L906.5 517.6L912.5 518.2L918.5 518.7L924.5 519.3L930.5 519.9L936.5 520.4L942.5 521L948.5 521.6L954.5 522.2L960.5 522.9L966.4 523.5L972.4 524.1L978.4 524.8L984.4 525.4L990.4 526.1L996.4 526.8L1002.4 527.4L1008.4 528.1L1014.4 528.8L1020.4 529.5L1026.3 530.2L1032.3 530.9L1038.3 531.6L1044.3 532.3L1050.3 533L1056.3 533.7L1062.3 534.4L1068.3 535.1L1074.3 535.8L1080.3 536.5L1086.3 537.2L1092.2 537.9L1098.2 538.6L1104.2 539.3L1110.2 540L1116.2 540.7L1122.2 541.4L1128.2 542L1134.2 542.7L1140.2 543.3L1146.2 544L1152.1 544.6L1158.1 545.2L1164.1 545.8L1170.1 546.4L1176.1 547L1182.1 547.6L1188.1 548.2L1194.1 548.7L1200.1 549.3L1206.1 549.8L1212 550.3L1218 550.8L1224 551.2L1230 551.7L1236 552.1L1242 552.5M2 609.3L8 609.3L14 609.3L20 609.1L26 609L32 608.7L37.9 608.4L43.9 608L49.9 607.6L55.9 607.1L61.9 606.5L67.9 605.8L73.9 605.1L79.9 604.4L85.9 603.5L91.9 602.6L97.8 601.6L103.8 600.5L109.8 599.4L115.8 598.2L121.8 596.9L127.8 595.6L133.8 594.2L139.8 592.8L145.8 591.3L151.8 589.8L157.7 588.3L163.7 586.8L169.7 585.2L175.7 583.7L181.7 582.2L187.7 580.8L193.7 579.3L199.7 577.9L205.7 576.6L211.7 575.2L217.7 573.9L223.6 572.6L229.6 571.4L235.6 570.2L241.6 569L247.6 567.8L253.6 566.7L259.6 565.6L265.6 564.5L271.6 563.5L277.6 562.5L283.5 561.5L289.5 560.5L295.5 559.6L301.5 558.6L307.5 557.7L313.5 556.9L319.5 556L325.5 555.2L331.5 554.4L337.5 553.6L343.4 552.8L349.4 552L355.4 551.3L361.4 550.6L367.4 549.9L373.4 549.2L379.4 548.5L385.4 547.8L391.4 547.2L397.4 546.6L403.4 545.9L409.3 545.3L415.3 544.7L421.3 544.2L427.3 543.6L433.3 543L439.3 542.5L445.3 542L451.3 541.5L457.3 541L463.3 540.5L469.2 540L475.2 539.5L481.2 539.1L487.2 538.7L493.2 538.3L499.2 537.9L505.2 537.5L511.2 537.1L517.2 536.7L523.2 536.4L529.1 536L535.1 535.7L541.1 535.4L547.1 535.1L553.1 534.9L559.1 534.6L565.1 534.3L571.1 534.1L577.1 533.9L583.1 533.7L589.1 533.5L595 533.3L601 533.2L607 533L613 532.9L619 532.8L625 532.7L631 532.6L637 532.5L643 532.4L649 532.4L654.9 532.4L660.9 532.4L666.9 532.4L672.9 532.4L678.9 532.4L684.9 532.5L690.9 532.5L696.9 532.6L702.9 532.7L708.9 532.8L714.9 532.9L720.8 533.1L726.8 533.2L732.8 533.4L738.8 533.6L744.8 533.8L750.8 534L756.8 534.2L762.8 534.5L768.8 534.7L774.8 535L780.7 535.3L786.7 535.6L792.7 536L798.7 536.3L804.7 536.7L810.7 537L816.7 537.4L822.7 537.8L828.7 538.3L834.7 538.7L840.6 539.2L846.6 539.6L852.6 540.1L858.6 540.6L864.6 541.2L870.6 541.7L876.6 542.3L882.6 542.8L888.6 543.4L894.6 544L900.6 544.7L906.5 545.3L912.5 545.9L918.5 546.6L924.5 547.3L930.5 548L936.5 548.7L942.5 549.4L948.5 550.1L954.5 550.9L960.5 551.6L966.4 552.4L972.4 553.1L978.4 553.9L984.4 554.7L990.4 555.5L996.4 556.2L1002.4 557L1008.4 557.8L1014.4 558.6L1020.4 559.4L1026.3 560.2L1032.3 561L1038.3 561.8L1044.3 562.6L1050.3 563.4L1056.3 564.2L1062.3 565L1068.3 565.7L1074.3 566.5L1080.3 567.3L1086.3 568.1L1092.2 568.8L1098.2 569.6L1104.2 570.3L1110.2 571L1116.2 571.8L1122.2 572.5L1128.2 573.2L1134.2 573.8L1140.2 574.5L1146.2 575.2L1152.1 575.8L1158.1 576.4L1164.1 577.1L1170.1 577.6L1176.1 578.2L1182.1 578.8L1188.1 579.3L1194.1 579.8L1200.1 580.3L1206.1 580.8L1212 581.3L1218 581.7L1224 582.1L1230 582.5L1236 582.9L1242 583.2M2 640.5L8 640.2L14 639.9L20 639.5L26 639.2L32 638.8L37.9 638.4L43.9 637.9L49.9 637.5L55.9 637.1L61.9 636.6L67.9 636.1L73.9 635.6L79.9 635L85.9 634.5L91.9 633.9L97.8 633.2L103.8 632.6L109.8 631.9L115.8 631.2L120 630.7L121.6 630.5L121.8 630.4L123.1 630.2L124.7 630L126.3 629.8L127.8 629.5L127.9 629.5L129.4 629.3L131 629L132.6 628.7L133.8 628.5L134.2 628.4L135.7 628.1L137.3 627.8L138.9 627.4L139.8 627.2L140.4 627L142 626.6L143.6 626.2L145.2 625.7L145.8 625.6L146.7 625.3L148.3 624.8L149.9 624.4L151.5 623.9L151.8 623.8L153 623.4L154.6 622.9L156.2 622.4L157.7 621.9L157.8 621.9L159.3 621.5L160.9 621L162.5 620.5L163.7 620.1L164 620L165.6 619.6L167.2 619.1L168.8 618.6L169.7 618.2L170.3 618L171.9 617.5L173.5 617L175.1 616.5L175.7 616.3L176.6 616L178.2 615.4L179.8 614.9L181.3 614.4L181.7 614.3L182.9 613.9L184.5 613.4L186.1 612.9L187.6 612.5L187.7 612.4L189.2 612L190.8 611.5L192.4 611.1L193.7 610.7L193.9 610.6L195.5 610.2L197.1 609.7L198.7 609.3L199.7 609L200.2 608.8L201.8 608.4L203.4 607.9L204.9 607.5L205.7 607.3L206.5 607.1L208.1 606.7L209.7 606.2L211.2 605.8L211.7 605.7L212.8 605.4L214.4 605L216 604.6L217.5 604.2L217.7 604.2L219.1 603.8L220.7 603.4L222.2 603L223.6 602.7L223.8 602.6L225.4 602.2L227 601.9L228.5 601.5L229.6 601.2L230.1 601.1L231.7 600.7L233.3 600.3L234.8 600L235.6 599.8L236.4 599.6L238 599.2L239.6 598.9L241.1 598.5L241.6 598.4L242.7 598.1L244.3 597.8L245.8 597.4L247.4 597.1L247.6 597.1L249 596.8L250.6 596.4L252.1 596.1L253.6 595.8L253.7 595.7L255.3 595.4L256.9 595.1L258.4 594.8L259.6 594.5L260 594.4L265.6 593.3L271.6 592.1L277.6 590.9L283.5 589.7L289.5 588.6L295.5 587.5L301.5 586.5L307.5 585.5L313.5 584.6L319.5 583.8L325.5 582.9L331.5 582.1L337.5 581.4L343.4 580.6L349.4 579.9L355.4 579.2L361.4 578.5L367.4 577.8L373.4 577.1L379.4 576.4L385.4 575.7L391.4 575.1L397.4 574.4L403.4 573.8L409.3 573.1L415.3 572.5L421.3 571.9L427.3 571.3L433.3 570.7L439.3 570.2L445.3 569.7L451.3 569.1L457.3 568.6L463.3 568.1L469.2 567.7L475.2 567.2L481.2 566.7L487.2 566.3L493.2 565.9L499.2 565.5L505.2 565.2L511.2 564.8L517.2 564.5L523.2 564.2L529.1 563.9L535.1 563.6L541.1 563.3L547.1 563L553.1 562.8L559.1 562.6L565.1 562.4L571.1 562.2L577.1 562L583.1 561.8L589.1 561.6L595 561.4L601 561.3L607 561.1L613 561.1L619 561L625 561L631 561L637 561L643 561L649 561.1L654.9 561.1L660.9 561.1L666.9 561.2L672.9 561.2L678.9 561.3L684.9 561.4L690.9 561.4L696.9 561.5L702.9 561.6L708.9 561.7L714.9 561.7L720.8 561.8L726.8 561.9L732.8 562L738.8 562.1L744.8 562.2L750.8 562.3L756.8 562.5L762.8 562.6L768.8 562.8L774.8 563.1L780.7 563.3L786.7 563.6L792.7 563.9L798.7 564.2L804.7 564.5L810.7 564.8L816.7 565.2L822.7 565.5L828.7 565.9L834.7 566.4L840.6 566.9L846.6 567.5L852.6 568L858.6 568.6L864.6 569.3L870.6 569.9L876.6 570.5L882.6 571.1L888.6 571.8L894.6 572.5L900.6 573.2L906.5 573.9L912.5 574.6L918.5 575.3L924.5 576L930.5 576.7L936.5 577.4L942.5 578L948.5 578.7L954.5 579.3L960.5 579.9L966.4 580.6L972.4 581.2L978.4 581.9L984.4 582.6L990.4 583.4L996.4 584.2L1002.4 585.1L1008.4 586.1L1014.4 587.2L1020.4 588.4L1026.3 589.6L1032.3 590.8L1038.3 592L1044.3 593.1L1050.3 594.2L1056.3 595.2L1062.3 596.2L1068.3 597.1L1074.3 598L1080.3 598.8L1086.3 599.7L1092.2 600.5L1098.2 601.3L1104.2 602L1110.2 602.7L1116.2 603.4L1122.2 604.1L1128.2 604.7L1134.2 605.3L1140.2 605.8L1146.2 606.4L1152.1 606.9L1158.1 607.4L1164.1 607.9L1170.1 608.3L1176.1 608.8L1182.1 609.2L1188.1 609.6L1194.1 610L1200.1 610.3L1206.1 610.7L1212 611L1218 611.4L1224 611.7L1230 612L1236 612.2L1242 612.5M2 671.8L8 671.4L14 671.1L20 670.8L26 670.5L32 670.2L37.9 669.9L43.9 669.6L49.9 669.3L55.9 669L61.9 668.7L67.9 668.4L73.9 668.1L79.9 667.9L85.9 667.6L91.9 667.3L97.8 667L103.8 666.7L109.8 666.4L115.8 666.1L120 665.9L121.6 665.8L121.8 665.8L123.1 665.7L124.7 665.6L126.3 665.5L127.8 665.4L127.9 665.4L129.4 665.3L131 665.2L132.6 665.1L133.8 665L134.2 665L135.7 664.9L137.3 664.7L138.9 664.6L139.8 664.5L140.4 664.5L142 664.3L143.6 664.1L145.2 663.8L145.8 663.7L146.7 663.6L148.3 663.3L149.9 663L151.5 662.7L151.8 662.7L153 662.4L154.6 662.1L156.2 661.7L157.7 661.2L157.8 661.2L159.3 660.5L160.9 659.6L162.5 658.5L163.7 657.5L164 657.2L165.6 655.6L167.2 653.9L168.8 652.4L169.7 651.5L170.3 651L171.9 649.6L173.5 648.3L175.1 647.1L175.7 646.7L176.6 646.1L178.2 645.1L179.8 644.2L181.3 643.3L181.7 643.1L182.9 642.5L184.5 641.7L186.1 640.9L187.6 640.2L187.7 640.2L189.2 639.5L190.8 638.9L192.4 638.2L193.7 637.7L193.9 637.6L195.5 637.1L197.1 636.5L198.7 636L199.7 635.6L200.2 635.5L201.8 635L203.4 634.5L204.9 634.1L205.7 633.9L206.5 633.7L208.1 633.2L209.7 632.9L211.2 632.5L211.7 632.4L212.8 632.1L214.4 631.8L216 631.5L217.5 631.1L217.7 631.1L219.1 630.8L220.7 630.6L222.2 630.3L223.6 630L223.8 630L225.4 629.7L227 629.5L228.5 629.2L229.6 629L230.1 628.9L231.7 628.7L233.3 628.4L234.8 628.1L235.6 627.9L236.4 627.8L238 627.4L239.6 627.1L241.1 626.8L241.6 626.7L242.7 626.5L244.3 626.2L245.8 625.8L247.4 625.5L247.6 625.5L249 625.2L250.6 624.9L252.1 624.6L253.6 624.3L253.7 624.3L255.3 623.9L256.9 623.6L258.4 623.3L259.6 623.1L260 623L265.6 622L271.6 620.9L277.6 619.8L283.5 618.7L289.5 617.7L295.5 616.7L301.5 615.7L307.5 614.8L313.5 613.9L319.5 613L325.5 612.1L331.5 611.2L337.5 610.4L343.4 609.5L349.4 608.7L355.4 607.8L361.4 607L367.4 606.1L373.4 605.3L379.4 604.4L385.4 603.6L391.4 602.8L397.4 602.1L403.4 601.4L409.3 600.8L415.3 600.2L421.3 599.6L427.3 599L433.3 598.5L439.3 598L445.3 597.6L451.3 597.1L457.3 596.7L463.3 596.3L469.2 595.9L475.2 595.5L481.2 595.2L487.2 594.8L493.2 594.5L499.2 594.2L505.2 593.9L511.2 593.6L517.2 593.3L523.2 593L529.1 592.8L535.1 592.5L541.1 592.3L547.1 592.1L553.1 591.9L559.1 591.7L565.1 591.5L571.1 591.3L577.1 591.1L583.1 590.9L589.1 590.8L595 590.7L601 590.6L607 590.6L613 590.6L619 590.5L625 590.5L631 590.5L637 590.5L643 590.5L649 590.5L654.9 590.4L660.9 590.4L666.9 590.4L672.9 590.4L678.9 590.4L684.9 590.4L690.9 590.4L696.9 590.4L702.9 590.4L708.9 590.5L714.9 590.6L720.8 590.8L726.8 591L732.8 591.1L738.8 591.3L744.8 591.6L750.8 591.9L756.8 592.2L762.8 592.5L768.8 592.8L774.8 593.2L780.7 593.6L786.7 594.1L792.7 594.5L798.7 595L804.7 595.5L810.7 595.8L816.7 596.1L822.7 596.2L828.7 596.3L834.7 596.4L840.6 596.6L846.6 596.9L852.6 597.2L858.6 597.6L864.6 598.1L870.6 598.7L876.6 599.5L882.6 600.3L888.6 601.1L894.6 602L900.6 602.7L906.5 603.5L912.5 604.4L918.5 605.2L924.5 605.9L930.5 606.7L936.5 607.3L942.5 607.9L948.5 608.3L954.5 608.8L960.5 609.3L966.4 610L972.4 610.7L978.4 611.6L984.4 612.5L990.4 613.6L996.4 614.7L1002.4 615.9L1008.4 617.1L1014.4 618.3L1020.4 619.6L1026.3 620.9L1032.3 622.3L1038.3 623.6L1044.3 625L1050.3 626.3L1056.3 627.4L1062.3 628.5L1068.3 629.4L1074.3 630.2L1080.3 631L1086.3 631.7L1092.2 632.5L1098.2 633.3L1104.2 634.3L1110.2 635.3L1116.2 636.4L1122.2 637.2L1128.2 637.9L1134.2 638.5L1140.2 639L1146.2 639.6L1152.1 640.1L1158.1 640.5L1164.1 640.9L1170.1 641.3L1176.1 641.7L1182.1 642L1188.1 642.3L1194.1 642.7L1200.1 643L1206.1 643.3L1212 643.6L1218 644L1224 644.3L1230 644.7L1236 645.1L1242 645.5M2 702.5L8 702.2L14 701.9L20 701.7L26 701.4L32 701.2L37.9 701L43.9 700.8L49.9 700.7L55.9 700.6L61.9 700.5L67.9 700.5L73.9 700.5L79.9 700.5L85.9 700.5L91.9 700.5L97.8 700.5L103.8 700.5L109.8 700.5L115.8 700.5L120 700.6L121.6 700.7L121.8 700.7L123.1 700.7L124.7 700.8L126.3 700.9L127.8 701L127.9 701L129.4 701L131 701.1L132.6 701.2L133.8 701.3L134.2 701.3L135.7 701.4L137.3 701.6L138.9 701.7L139.8 701.7L140.4 701.8L142 701.9L143.6 702.1L145.2 702.3L145.8 702.4L146.7 702.5L148.3 702.8L149.9 703.1L151.5 703.3L151.8 703.4L153 703.6L154.6 704L156.2 704.3L157.7 704.6L157.8 704.6L159.3 704.9L160.9 705.2L162.5 705.5L163.7 705.7L164 705.8L165.6 706.1L167.2 706.4L168.8 706.7L169.7 706.9L170.3 707.1L171.9 707.4L173.5 707.7L175.1 708.1L175.7 708.2L176.6 708.4L178.2 708.8L179.8 709.1L181.3 709.4L181.7 709.5L182.9 709.8L184.5 710.1L186.1 710.4L187.6 710.8L187.7 710.8L189.2 711.1L190.8 711.4L192.4 711.7L193.7 712L193.9 712.1L195.5 712.4L197.1 712.7L198.7 713L199.7 713.2L200.2 713.3L201.8 713.7L203.4 714L204.9 714.3L205.7 714.5L206.5 714.6L208.1 714.9L209.7 715.2L211.2 715.6L211.7 715.6L212.8 715.9L214.4 716.2L216 716.4L217.5 716.7L217.7 716.8L219.1 717L220.7 717.3L222.2 717.6L223.6 717.8L223.8 717.8L225.4 718.1L227 718.3L228.5 718.6L229.6 718.7L230.1 718.8L231.7 719L233.3 719.3L234.8 719.5L235.6 719.6L236.4 719.7L238 719.9L239.6 720.2L241.1 720.4L241.6 720.5L242.7 720.6L244.3 720.8L245.8 721L247.4 721.2L247.6 721.2L249 721.4L250.6 721.6L252.1 721.8L253.6 722L253.7 722L255.3 722.2L256.9 722.4L258.4 722.6L259.6 722.7L260 722.7L265.6 723.3L271.6 724L277.6 724.6L283.5 725.2L289.5 725.8L295.5 726.3L301.5 726.7L307.5 727.1L313.5 727.4L319.5 727.6L325.5 727.9L331.5 728.1L337.5 728.3L343.4 728.6L349.4 728.8L355.4 729L361.4 729.2L367.4 729.4L373.4 729.5L379.4 729.7L385.4 729.8L391.4 730L397.4 730.1L403.4 730.2L409.3 730.3L415.3 730.4L421.3 730.4L427.3 730.5L433.3 730.5L439.3 730.5L445.3 730.5L451.3 730.5L457.3 730.4L463.3 730.4L469.2 730.3L475.2 730.3L481.2 730.2L487.2 730.2L493.2 730.1L499.2 730L505.2 729.9L511.2 729.7L517.2 729.4L523.2 729.1L529.1 728.8L535.1 728.4L541.1 728L547.1 727.6L553.1 727.2L559.1 726.8L565.1 726.4L571.1 726L577.1 725.5L583.1 725.1L589.1 724.6L595 724.1L601 723.6L607 723L613 722.5L619 722L625 721.5L631 721L637 720.5L643 720L649 719.5L654.9 718.9L660.9 718.4L666.9 717.8L672.9 717.2L678.9 716.6L684.9 716L690.9 715.2L696.9 714.4L702.9 713.6L708.9 712.7L714.9 711.8L720.8 710.9L726.8 709.9L732.8 708.9L738.8 708L744.8 707.1L750.8 706.2L756.8 705.3L762.8 704.4L768.8 703.5L774.8 702.6L780.7 701.7L786.7 700.7L792.7 699.8L798.7 698.9L804.7 698L810.7 697.1L816.7 696.2L822.7 695.4L828.7 694.5L834.7 693.6L840.6 692.7L846.6 691.8L852.6 690.9L858.6 690L864.6 689.1L870.6 688.2L876.6 687.3L882.6 686.3L888.6 685.3L894.6 684.3L900.6 683.3L906.5 682.3L912.5 681.3L918.5 680.4L924.5 679.6L930.5 678.8L936.5 678L942.5 677.3L948.5 676.6L954.5 675.9L960.5 675.3L966.4 674.7L972.4 674.2L978.4 673.8L984.4 673.4L990.4 673.1L996.4 672.9L1002.4 672.6L1008.4 672.3L1014.4 672.1L1020.4 671.9L1026.3 671.7L1032.3 671.5L1038.3 671.4L1044.3 671.3L1050.3 671.3L1056.3 671.3L1062.3 671.4L1068.3 671.6L1074.3 672L1080.3 672.4L1086.3 672.8L1092.2 673.2L1098.2 673.7L1104.2 674L1110.2 674.4L1116.2 674.7L1122.2 674.9L1128.2 675.2L1134.2 675.5L1140.2 675.8L1146.2 676.1L1152.1 676.3L1158.1 676.6L1164.1 676.9L1170.1 677.1L1176.1 677.4L1182.1 677.6L1188.1 677.9L1194.1 678.1L1200.1 678.4L1206.1 678.6L1212 678.8L1218 679.1L1224 679.3L1230 679.5L1236 679.8L1242 680M2 733.2L8 732.7L14 732.2L20 731.8L26 731.5L32 731.2L37.9 731L43.9 730.9L49.9 730.9L55.9 730.9L61.9 731L67.9 731.1L73.9 731.3L79.9 731.5L85.9 731.8L91.9 732.2L97.8 732.5L103.8 733L109.8 733.4L115.8 733.9L121.8 734.5L127.8 735L133.8 735.6L139.8 736.2L145.8 736.9L151.8 737.5L157.7 738.2L163.7 738.9L169.7 739.6L175.7 740.3L181.7 741L187.7 741.8L193.7 742.5L199.7 743.2L205.7 744L211.7 744.7L217.7 745.4L223.6 746.1L229.6 746.8L235.6 747.4L241.6 748.1L247.6 748.7L253.6 749.3L259.6 749.9L265.6 750.5L271.6 751.1L277.6 751.6L283.5 752.2L289.5 752.7L295.5 753.2L301.5 753.7L307.5 754.1L313.5 754.6L319.5 755L325.5 755.4L331.5 755.8L337.5 756.1L343.4 756.5L349.4 756.8L355.4 757.1L361.4 757.3L367.4 757.6L373.4 757.8L379.4 758L385.4 758.2L391.4 758.3L397.4 758.5L403.4 758.6L409.3 758.7L415.3 758.8L421.3 758.8L427.3 758.9L433.3 758.9L439.3 758.9L445.3 758.9L451.3 758.8L457.3 758.8L463.3 758.7L469.2 758.6L475.2 758.4L481.2 758.3L487.2 758.1L493.2 758L499.2 757.8L505.2 757.6L511.2 757.3L517.2 757.1L523.2 756.8L529.1 756.5L535.1 756.2L541.1 755.9L547.1 755.6L553.1 755.2L559.1 754.8L565.1 754.5L571.1 754L577.1 753.6L583.1 753.2L589.1 752.7L595 752.3L601 751.8L607 751.3L613 750.8L619 750.2L625 749.7L631 749.1L637 748.6L643 748L649 747.4L654.9 746.7L660.9 746.1L666.9 745.5L672.9 744.8L678.9 744.2L684.9 743.5L690.9 742.8L696.9 742.1L702.9 741.4L708.9 740.7L714.9 739.9L720.8 739.2L726.8 738.4L732.8 737.7L738.8 736.9L744.8 736.1L750.8 735.4L756.8 734.6L762.8 733.8L768.8 733L774.8 732.2L780.7 731.4L786.7 730.6L792.7 729.7L798.7 728.9L804.7 728.1L810.7 727.3L816.7 726.4L822.7 725.6L828.7 724.7L834.7 723.9L840.6 723.1L846.6 722.2L852.6 721.4L858.6 720.5L864.6 719.7L870.6 718.8L876.6 718L882.6 717.2L888.6 716.4L894.6 715.6L900.6 714.8L906.5 714.1L912.5 713.3L918.5 712.6L924.5 711.9L930.5 711.2L936.5 710.6L942.5 710L948.5 709.4L954.5 708.8L960.5 708.3L966.4 707.8L972.4 707.4L978.4 706.9L984.4 706.6L990.4 706.2L996.4 705.9L1002.4 705.7L1008.4 705.4L1014.4 705.2L1020.4 705L1026.3 704.9L1032.3 704.8L1038.3 704.7L1044.3 704.6L1050.3 704.5L1056.3 704.5L1062.3 704.5L1068.3 704.6L1074.3 704.6L1080.3 704.7L1086.3 704.7L1092.2 704.8L1098.2 705L1104.2 705.1L1110.2 705.2L1116.2 705.4L1122.2 705.6L1128.2 705.8L1134.2 706L1140.2 706.2L1146.2 706.4L1152.1 706.6L1158.1 706.8L1164.1 707.1L1170.1 707.3L1176.1 707.6L1182.1 707.8L1188.1 708.1L1194.1 708.3L1200.1 708.6L1206.1 708.8L1212 709L1218 709.3L1224 709.5L1230 709.7L1236 710L1242 710.2M2 764.1L8 763.7L14 763.4L20 763.1L26 762.8L32 762.7L37.9 762.6L43.9 762.5L49.9 762.5L55.9 762.6L61.9 762.7L67.9 762.8L73.9 763L79.9 763.2L85.9 763.5L91.9 763.8L97.8 764.2L103.8 764.5L109.8 765L115.8 765.4L121.8 765.9L127.8 766.4L133.8 766.9L139.8 767.4L145.8 768L151.8 768.5L157.7 769.1L163.7 769.7L169.7 770.3L175.7 770.9L181.7 771.5L187.7 772.1L193.7 772.8L199.7 773.4L205.7 774L211.7 774.6L217.7 775.2L223.6 775.8L229.6 776.4L235.6 776.9L241.6 777.5L247.6 778L253.6 778.5L259.6 779L265.6 779.5L271.6 779.9L277.6 780.4L283.5 780.8L289.5 781.2L295.5 781.6L301.5 782L307.5 782.4L313.5 782.7L319.5 783.1L325.5 783.4L331.5 783.7L337.5 784L343.4 784.2L349.4 784.5L355.4 784.7L361.4 784.9L367.4 785.2L373.4 785.3L379.4 785.5L385.4 785.7L391.4 785.8L397.4 785.9L403.4 786.1L409.3 786.2L415.3 786.2L421.3 786.3L427.3 786.3L433.3 786.4L439.3 786.4L445.3 786.4L451.3 786.4L457.3 786.3L463.3 786.3L469.2 786.2L475.2 786.1L481.2 786L487.2 785.9L493.2 785.7L499.2 785.6L505.2 785.4L511.2 785.2L517.2 785L523.2 784.8L529.1 784.6L535.1 784.3L541.1 784L547.1 783.7L553.1 783.4L559.1 783.1L565.1 782.7L571.1 782.4L577.1 782L583.1 781.6L589.1 781.2L595 780.7L601 780.3L607 779.8L613 779.3L619 778.8L625 778.3L631 777.7L637 777.2L643 776.6L649 776L654.9 775.4L660.9 774.8L666.9 774.1L672.9 773.5L678.9 772.8L684.9 772.1L690.9 771.5L696.9 770.8L702.9 770L708.9 769.3L714.9 768.6L720.8 767.9L726.8 767.1L732.8 766.4L738.8 765.7L744.8 764.9L750.8 764.1L756.8 763.4L762.8 762.6L768.8 761.9L774.8 761.1L780.7 760.3L786.7 759.6L792.7 758.8L798.7 758L804.7 757.3L810.7 756.5L816.7 755.8L822.7 755L828.7 754.3L834.7 753.6L840.6 752.8L846.6 752.1L852.6 751.4L858.6 750.7L864.6 750L870.6 749.3L876.6 748.7L882.6 748L888.6 747.3L894.6 746.7L900.6 746.1L906.5 745.5L912.5 744.9L918.5 744.3L924.5 743.8L930.5 743.2L936.5 742.7L942.5 742.2L948.5 741.7L954.5 741.3L960.5 740.8L966.4 740.4L972.4 740L978.4 739.7L984.4 739.3L990.4 739L996.4 738.7L1002.4 738.4L1008.4 738.1L1014.4 737.9L1020.4 737.7L1026.3 737.5L1032.3 737.3L1038.3 737.2L1044.3 737L1050.3 736.9L1056.3 736.8L1062.3 736.7L1068.3 736.7L1074.3 736.6L1080.3 736.6L1086.3 736.6L1092.2 736.6L1098.2 736.6L1104.2 736.6L1110.2 736.7L1116.2 736.7L1122.2 736.8L1128.2 736.9L1134.2 737L1140.2 737.1L1146.2 737.3L1152.1 737.4L1158.1 737.5L1164.1 737.7L1170.1 737.9L1176.1 738L1182.1 738.2L1188.1 738.4L1194.1 738.6L1200.1 738.8L1206.1 739.1L1212 739.3L1218 739.5L1224 739.8L1230 740L1236 740.3L1242 740.5M2 794.4L8 794.2L14 794.1L20 794L26 794L32 794L37.9 794L43.9 794.1L49.9 794.1L55.9 794.3L61.9 794.4L67.9 794.6L73.9 794.8L79.9 795L85.9 795.3L91.9 795.6L97.8 795.9L103.8 796.2L109.8 796.5L115.8 796.9L121.8 797.3L127.8 797.7L133.8 798.1L139.8 798.5L145.8 798.9L151.8 799.3L157.7 799.8L163.7 800.2L169.7 800.7L175.7 801.2L181.7 801.6L187.7 802.1L193.7 802.6L199.7 803L205.7 803.5L211.7 803.9L217.7 804.4L223.6 804.8L229.6 805.3L235.6 805.7L241.6 806.2L247.6 806.6L253.6 807L259.6 807.4L265.6 807.9L271.6 808.3L277.6 808.7L283.5 809.1L289.5 809.4L295.5 809.8L301.5 810.2L307.5 810.5L313.5 810.9L319.5 811.2L325.5 811.5L331.5 811.8L337.5 812.1L343.4 812.4L349.4 812.7L355.4 812.9L361.4 813.2L367.4 813.4L373.4 813.6L379.4 813.8L385.4 814L391.4 814.2L397.4 814.3L403.4 814.4L409.3 814.6L415.3 814.7L421.3 814.7L427.3 814.8L433.3 814.8L439.3 814.8L445.3 814.8L451.3 814.8L457.3 814.8L463.3 814.7L469.2 814.6L475.2 814.5L481.2 814.4L487.2 814.3L493.2 814.1L499.2 813.9L505.2 813.7L511.2 813.5L517.2 813.3L523.2 813L529.1 812.8L535.1 812.5L541.1 812.2L547.1 811.9L553.1 811.6L559.1 811.2L565.1 810.9L571.1 810.5L577.1 810.1L583.1 809.7L589.1 809.3L595 808.8L601 808.4L607 807.9L613 807.5L619 807L625 806.5L631 806L637 805.4L643 804.9L649 804.4L654.9 803.8L660.9 803.2L666.9 802.7L672.9 802.1L678.9 801.5L684.9 800.9L690.9 800.2L696.9 799.6L702.9 799L708.9 798.3L714.9 797.7L720.8 797L726.8 796.4L732.8 795.7L738.8 795L744.8 794.3L750.8 793.7L756.8 793L762.8 792.3L768.8 791.6L774.8 790.9L780.7 790.2L786.7 789.5L792.7 788.8L798.7 788.2L804.7 787.5L810.7 786.8L816.7 786.1L822.7 785.4L828.7 784.8L834.7 784.1L840.6 783.4L846.6 782.8L852.6 782.1L858.6 781.5L864.6 780.8L870.6 780.2L876.6 779.6L882.6 779L888.6 778.4L894.6 777.8L900.6 777.2L906.5 776.7L912.5 776.1L918.5 775.6L924.5 775.1L930.5 774.6L936.5 774.1L942.5 773.6L948.5 773.1L954.5 772.7L960.5 772.3L966.4 771.9L972.4 771.5L978.4 771.1L984.4 770.8L990.4 770.4L996.4 770.1L1002.4 769.8L1008.4 769.6L1014.4 769.3L1020.4 769.1L1026.3 768.9L1032.3 768.7L1038.3 768.6L1044.3 768.4L1050.3 768.3L1056.3 768.2L1062.3 768.1L1068.3 768L1074.3 768L1080.3 767.9L1086.3 767.9L1092.2 767.9L1098.2 767.9L1104.2 767.9L1110.2 768L1116.2 768L1122.2 768L1128.2 768.1L1134.2 768.2L1140.2 768.3L1146.2 768.4L1152.1 768.5L1158.1 768.6L1164.1 768.7L1170.1 768.9L1176.1 769L1182.1 769.2L1188.1 769.3L1194.1 769.5L1200.1 769.7L1206.1 769.8L1212 770L1218 770.2L1224 770.4L1230 770.6L1236 770.8L1242 771M2 825.6L8 825.5L14 825.4L20 825.3L26 825.3L32 825.2L37.9 825.2L43.9 825.3L49.9 825.3L55.9 825.4L61.9 825.5L67.9 825.6L73.9 825.8L79.9 825.9L85.9 826.1L91.9 826.3L97.8 826.5L103.8 826.8L109.8 827L115.8 827.3L121.8 827.6L127.8 827.9L133.8 828.2L139.8 828.5L145.8 828.8L151.8 829.2L157.7 829.5L163.7 829.9L169.7 830.2L175.7 830.6L181.7 831L187.7 831.4L193.7 831.8L199.7 832.2L205.7 832.6L211.7 833L217.7 833.4L223.6 833.8L229.6 834.2L235.6 834.6L241.6 835L247.6 835.4L253.6 835.7L259.6 836.1L265.6 836.5L271.6 836.9L277.6 837.2L283.5 837.6L289.5 838L295.5 838.3L301.5 838.6L307.5 838.9L313.5 839.2L319.5 839.5L325.5 839.8L331.5 840.1L337.5 840.3L343.4 840.6L349.4 840.8L355.4 841L361.4 841.1L367.4 841.3L373.4 841.4L379.4 841.6L385.4 841.7L391.4 841.8L397.4 841.9L403.4 841.9L409.3 842L415.3 842L421.3 842L427.3 842L433.3 842L439.3 842L445.3 841.9L451.3 841.9L457.3 841.8L463.3 841.7L469.2 841.6L475.2 841.5L481.2 841.4L487.2 841.2L493.2 841.1L499.2 840.9L505.2 840.7L511.2 840.5L517.2 840.3L523.2 840.1L529.1 839.8L535.1 839.6L541.1 839.3L547.1 839.1L553.1 838.8L559.1 838.5L565.1 838.2L571.1 837.8L577.1 837.5L583.1 837.2L589.1 836.8L595 836.5L601 836.1L607 835.7L613 835.3L619 834.9L625 834.5L631 834.1L637 833.6L643 833.2L649 832.7L654.9 832.3L660.9 831.8L666.9 831.3L672.9 830.8L678.9 830.3L684.9 829.8L690.9 829.3L696.9 828.8L702.9 828.3L708.9 827.7L714.9 827.2L720.8 826.6L726.8 826.1L732.8 825.5L738.8 824.9L744.8 824.4L750.8 823.8L756.8 823.2L762.8 822.6L768.8 822L774.8 821.4L780.7 820.8L786.7 820.2L792.7 819.6L798.7 819L804.7 818.4L810.7 817.8L816.7 817.2L822.7 816.6L828.7 816L834.7 815.4L840.6 814.8L846.6 814.2L852.6 813.6L858.6 813L864.6 812.4L870.6 811.9L876.6 811.3L882.6 810.7L888.6 810.2L894.6 809.6L900.6 809.1L906.5 808.5L912.5 808L918.5 807.5L924.5 807L930.5 806.5L936.5 806L942.5 805.5L948.5 805L954.5 804.6L960.5 804.1L966.4 803.7L972.4 803.3L978.4 802.9L984.4 802.5L990.4 802.1L996.4 801.8L1002.4 801.4L1008.4 801.1L1014.4 800.8L1020.4 800.5L1026.3 800.2L1032.3 799.9L1038.3 799.7L1044.3 799.5L1050.3 799.3L1056.3 799.1L1062.3 798.9L1068.3 798.8L1074.3 798.6L1080.3 798.5L1086.3 798.4L1092.2 798.4L1098.2 798.3L1104.2 798.3L1110.2 798.2L1116.2 798.2L1122.2 798.2L1128.2 798.2L1134.2 798.3L1140.2 798.3L1146.2 798.4L1152.1 798.5L1158.1 798.6L1164.1 798.7L1170.1 798.8L1176.1 798.9L1182.1 799.1L1188.1 799.2L1194.1 799.4L1200.1 799.6L1206.1 799.8L1212 800L1218 800.3L1224 800.5L1230 800.8L1236 801L1242 801.3M2 855.1L8 855.1L14 855.1L20 855.1L26 855.1L32 855.2L37.9 855.3L43.9 855.4L49.9 855.5L55.9 855.6L61.9 855.8L67.9 856L73.9 856.1L79.9 856.3L85.9 856.5L91.9 856.8L97.8 857L103.8 857.2L109.8 857.5L115.8 857.7L121.8 858L127.8 858.3L133.8 858.6L139.8 858.9L145.8 859.2L151.8 859.5L157.7 859.8L163.7 860.2L169.7 860.5L175.7 860.8L181.7 861.2L187.7 861.5L193.7 861.8L199.7 862.2L205.7 862.5L211.7 862.9L217.7 863.2L223.6 863.6L229.6 863.9L235.6 864.2L241.6 864.6L247.6 864.9L253.6 865.2L259.6 865.6L265.6 865.9L271.6 866.2L277.6 866.5L283.5 866.8L289.5 867.1L295.5 867.4L301.5 867.7L307.5 867.9L313.5 868.2L319.5 868.5L325.5 868.7L331.5 868.9L337.5 869.1L343.4 869.3L349.4 869.5L355.4 869.7L361.4 869.8L367.4 870L373.4 870.1L379.4 870.2L385.4 870.3L391.4 870.4L397.4 870.5L403.4 870.5L409.3 870.5L415.3 870.5L421.3 870.6L427.3 870.5L433.3 870.5L439.3 870.5L445.3 870.4L451.3 870.4L457.3 870.3L463.3 870.2L469.2 870.1L475.2 869.9L481.2 869.8L487.2 869.7L493.2 869.5L499.2 869.3L505.2 869.1L511.2 869L517.2 868.7L523.2 868.5L529.1 868.3L535.1 868.1L541.1 867.8L547.1 867.5L553.1 867.3L559.1 867L565.1 866.7L571.1 866.4L577.1 866.1L583.1 865.7L589.1 865.4L595 865L601 864.7L607 864.3L613 864L619 863.6L625 863.2L631 862.8L637 862.4L643 862L649 861.5L654.9 861.1L660.9 860.7L666.9 860.2L672.9 859.8L678.9 859.3L684.9 858.8L690.9 858.4L696.9 857.9L702.9 857.4L708.9 856.9L714.9 856.4L720.8 855.9L726.8 855.4L732.8 854.9L738.8 854.4L744.8 853.8L750.8 853.3L756.8 852.8L762.8 852.2L768.8 851.7L774.8 851.2L780.7 850.6L786.7 850.1L792.7 849.5L798.7 848.9L804.7 848.4L810.7 847.8L816.7 847.3L822.7 846.7L828.7 846.2L834.7 845.6L840.6 845.1L846.6 844.5L852.6 844L858.6 843.4L864.6 842.9L870.6 842.4L876.6 841.8L882.6 841.3L888.6 840.8L894.6 840.2L900.6 839.7L906.5 839.2L912.5 838.7L918.5 838.2L924.5 837.7L930.5 837.3L936.5 836.8L942.5 836.3L948.5 835.9L954.5 835.4L960.5 835L966.4 834.6L972.4 834.2L978.4 833.8L984.4 833.4L990.4 833L996.4 832.6L1002.4 832.3L1008.4 831.9L1014.4 831.6L1020.4 831.3L1026.3 831L1032.3 830.7L1038.3 830.4L1044.3 830.2L1050.3 829.9L1056.3 829.7L1062.3 829.5L1068.3 829.3L1074.3 829.1L1080.3 829L1086.3 828.8L1092.2 828.7L1098.2 828.6L1104.2 828.5L1110.2 828.4L1116.2 828.3L1122.2 828.3L1128.2 828.3L1134.2 828.3L1140.2 828.3L1146.2 828.3L1152.1 828.4L1158.1 828.4L1164.1 828.5L1170.1 828.6L1176.1 828.7L1182.1 828.8L1188.1 829L1194.1 829.2L1200.1 829.3L1206.1 829.5L1212 829.8L1218 830L1224 830.3L1230 830.5L1236 830.8L1242 831.1M2 885.1L8 885.3L14 885.6L20 885.8L26 886L32 886.2L37.9 886.4L43.9 886.6L49.9 886.8L55.9 887.1L61.9 887.3L67.9 887.5L73.9 887.8L79.9 888L85.9 888.2L91.9 888.4L97.8 888.7L103.8 888.9L109.8 889.1L115.8 889.4L121.8 889.6L127.8 889.9L133.8 890.1L139.8 890.3L145.8 890.6L151.8 890.8L157.7 891L163.7 891.2L169.7 891.5L175.7 891.7L181.7 891.9L187.7 892.2L193.7 892.4L199.7 892.6L205.7 892.8L211.7 893L217.7 893.3L223.6 893.5L229.6 893.7L235.6 893.9L241.6 894.1L247.6 894.3L253.6 894.5L259.6 894.7L265.6 894.9L271.6 895L277.6 895.2L283.5 895.4L289.5 895.6L295.5 895.7L301.5 895.9L307.5 896.1L313.5 896.2L319.5 896.4L325.5 896.5L331.5 896.6L337.5 896.8L343.4 896.9L349.4 897L355.4 897.1L361.4 897.2L367.4 897.3L373.4 897.4L379.4 897.5L385.4 897.6L391.4 897.6L397.4 897.7L403.4 897.8L409.3 897.8L415.3 897.8L421.3 897.9L427.3 897.9L433.3 897.9L439.3 897.9L445.3 897.9L451.3 897.9L457.3 897.9L463.3 897.8L469.2 897.8L475.2 897.7L481.2 897.7L487.2 897.6L493.2 897.5L499.2 897.4L505.2 897.3L511.2 897.2L517.2 897.1L523.2 897L529.1 896.8L535.1 896.7L541.1 896.5L547.1 896.3L553.1 896.1L559.1 895.9L565.1 895.7L571.1 895.5L577.1 895.2L583.1 895L589.1 894.7L595 894.4L601 894.1L607 893.8L613 893.5L619 893.2L625 892.8L631 892.5L637 892.1L643 891.7L649 891.3L654.9 890.9L660.9 890.5L666.9 890L672.9 889.6L678.9 889.1L684.9 888.7L690.9 888.2L696.9 887.7L702.9 887.2L708.9 886.7L714.9 886.2L720.8 885.7L726.8 885.2L732.8 884.7L738.8 884.2L744.8 883.6L750.8 883.1L756.8 882.6L762.8 882L768.8 881.5L774.8 880.9L780.7 880.4L786.7 879.8L792.7 879.3L798.7 878.7L804.7 878.2L810.7 877.6L816.7 877.1L822.7 876.5L828.7 876L834.7 875.4L840.6 874.9L846.6 874.4L852.6 873.8L858.6 873.3L864.6 872.8L870.6 872.3L876.6 871.7L882.6 871.2L888.6 870.7L894.6 870.2L900.6 869.8L906.5 869.3L912.5 868.8L918.5 868.4L924.5 867.9L930.5 867.5L936.5 867.1L942.5 866.6L948.5 866.2L954.5 865.8L960.5 865.5L966.4 865.1L972.4 864.7L978.4 864.4L984.4 864.1L990.4 863.8L996.4 863.5L1002.4 863.2L1008.4 862.9L1014.4 862.7L1020.4 862.4L1026.3 862.2L1032.3 861.9L1038.3 861.7L1044.3 861.5L1050.3 861.4L1056.3 861.2L1062.3 861L1068.3 860.9L1074.3 860.7L1080.3 860.6L1086.3 860.5L1092.2 860.4L1098.2 860.3L1104.2 860.2L1110.2 860.2L1116.2 860.1L1122.2 860.1L1128.2 860L1134.2 860L1140.2 860L1146.2 860L1152.1 860L1158.1 860L1164.1 860.1L1170.1 860.1L1176.1 860.2L1182.1 860.2L1188.1 860.3L1194.1 860.4L1200.1 860.5L1206.1 860.6L1212 860.7L1218 860.8L1224 860.9L1230 861.1L1236 861.2L1242 861.4M2 915.7L8 915.8L14 916L20 916.2L26 916.4L32 916.6L37.9 916.8L43.9 917L49.9 917.1L55.9 917.3L61.9 917.5L67.9 917.7L73.9 917.9L79.9 918.1L85.9 918.3L91.9 918.5L97.8 918.7L103.8 918.9L109.8 919.1L115.8 919.3L121.8 919.5L127.8 919.7L133.8 919.9L139.8 920.1L145.8 920.3L151.8 920.5L157.7 920.7L163.7 920.9L169.7 921.1L175.7 921.3L181.7 921.5L187.7 921.6L193.7 921.8L199.7 922L205.7 922.2L211.7 922.4L217.7 922.5L223.6 922.7L229.6 922.9L235.6 923.1L241.6 923.2L247.6 923.4L253.6 923.6L259.6 923.7L265.6 923.9L271.6 924L277.6 924.2L283.5 924.3L289.5 924.4L295.5 924.6L301.5 924.7L307.5 924.8L313.5 924.9L319.5 925.1L325.5 925.2L331.5 925.3L337.5 925.4L343.4 925.5L349.4 925.5L355.4 925.6L361.4 925.7L367.4 925.8L373.4 925.8L379.4 925.9L385.4 926L391.4 926L397.4 926L403.4 926.1L409.3 926.1L415.3 926.1L421.3 926.1L427.3 926.1L433.3 926.1L439.3 926.1L445.3 926.1L451.3 926.1L457.3 926L463.3 926L469.2 925.9L475.2 925.9L481.2 925.8L487.2 925.7L493.2 925.6L499.2 925.5L505.2 925.4L511.2 925.3L517.2 925.2L523.2 925.1L529.1 924.9L535.1 924.8L541.1 924.6L547.1 924.4L553.1 924.2L559.1 924.1L565.1 923.8L571.1 923.6L577.1 923.4L583.1 923.2L589.1 922.9L595 922.7L601 922.4L607 922.1L613 921.8L619 921.5L625 921.2L631 920.8L637 920.5L643 920.2L649 919.8L654.9 919.4L660.9 919L666.9 918.6L672.9 918.2L678.9 917.8L684.9 917.4L690.9 917L696.9 916.5L702.9 916.1L708.9 915.6L714.9 915.2L720.8 914.7L726.8 914.3L732.8 913.8L738.8 913.3L744.8 912.8L750.8 912.3L756.8 911.8L762.8 911.3L768.8 910.9L774.8 910.4L780.7 909.9L786.7 909.4L792.7 908.8L798.7 908.3L804.7 907.8L810.7 907.3L816.7 906.8L822.7 906.3L828.7 905.8L834.7 905.3L840.6 904.8L846.6 904.3L852.6 903.8L858.6 903.3L864.6 902.9L870.6 902.4L876.6 901.9L882.6 901.4L888.6 901L894.6 900.5L900.6 900L906.5 899.6L912.5 899.1L918.5 898.7L924.5 898.3L930.5 897.8L936.5 897.4L942.5 897L948.5 896.6L954.5 896.2L960.5 895.9L966.4 895.5L972.4 895.1L978.4 894.8L984.4 894.5L990.4 894.1L996.4 893.8L1002.4 893.5L1008.4 893.2L1014.4 892.9L1020.4 892.7L1026.3 892.4L1032.3 892.2L1038.3 891.9L1044.3 891.7L1050.3 891.5L1056.3 891.3L1062.3 891.1L1068.3 890.9L1074.3 890.7L1080.3 890.6L1086.3 890.5L1092.2 890.3L1098.2 890.2L1104.2 890.1L1110.2 890L1116.2 889.9L1122.2 889.9L1128.2 889.8L1134.2 889.8L1140.2 889.8L1146.2 889.8L1152.1 889.8L1158.1 889.8L1164.1 889.8L1170.1 889.9L1176.1 889.9L1182.1 890L1188.1 890.1L1194.1 890.2L1200.1 890.4L1206.1 890.5L1212 890.6L1218 890.8L1224 891L1230 891.2L1236 891.4L1242 891.7M2 946.2L8 946.2L14 946.3L20 946.3L26 946.3L32 946.4L37.9 946.5L43.9 946.5L49.9 946.6L55.9 946.7L61.9 946.8L67.9 946.9L73.9 947L79.9 947.2L85.9 947.3L91.9 947.4L97.8 947.6L103.8 947.7L109.8 947.9L115.8 948.1L121.8 948.2L127.8 948.4L133.8 948.6L139.8 948.8L145.8 949L151.8 949.2L157.7 949.4L163.7 949.5L169.7 949.7L175.7 949.9L181.7 950.1L187.7 950.4L193.7 950.6L199.7 950.8L205.7 951L211.7 951.2L217.7 951.4L223.6 951.6L229.6 951.8L235.6 951.9L241.6 952.1L247.6 952.3L253.6 952.5L259.6 952.7L265.6 952.9L271.6 953L277.6 953.2L283.5 953.4L289.5 953.5L295.5 953.7L301.5 953.8L307.5 953.9L313.5 954.1L319.5 954.2L325.5 954.3L331.5 954.4L337.5 954.5L343.4 954.6L349.4 954.7L355.4 954.7L361.4 954.8L367.4 954.9L373.4 954.9L379.4 955L385.4 955L391.4 955L397.4 955L403.4 955L409.3 955L415.3 955L421.3 955L427.3 955L433.3 955L439.3 954.9L445.3 954.9L451.3 954.8L457.3 954.7L463.3 954.7L469.2 954.6L475.2 954.5L481.2 954.4L487.2 954.3L493.2 954.2L499.2 954.1L505.2 953.9L511.2 953.8L517.2 953.6L523.2 953.5L529.1 953.3L535.1 953.1L541.1 953L547.1 952.8L553.1 952.6L559.1 952.4L565.1 952.1L571.1 951.9L577.1 951.7L583.1 951.4L589.1 951.2L595 950.9L601 950.7L607 950.4L613 950.1L619 949.8L625 949.5L631 949.2L637 948.9L643 948.6L649 948.2L654.9 947.9L660.9 947.5L666.9 947.2L672.9 946.8L678.9 946.4L684.9 946.1L690.9 945.7L696.9 945.3L702.9 944.9L708.9 944.5L714.9 944.1L720.8 943.7L726.8 943.3L732.8 942.9L738.8 942.4L744.8 942L750.8 941.6L756.8 941.2L762.8 940.7L768.8 940.3L774.8 939.9L780.7 939.4L786.7 939L792.7 938.6L798.7 938.1L804.7 937.7L810.7 937.2L816.7 936.8L822.7 936.4L828.7 935.9L834.7 935.5L840.6 935L846.6 934.6L852.6 934.2L858.6 933.7L864.6 933.3L870.6 932.9L876.6 932.4L882.6 932L888.6 931.6L894.6 931.2L900.6 930.8L906.5 930.4L912.5 929.9L918.5 929.5L924.5 929.1L930.5 928.8L936.5 928.4L942.5 928L948.5 927.6L954.5 927.2L960.5 926.9L966.4 926.5L972.4 926.2L978.4 925.8L984.4 925.5L990.4 925.2L996.4 924.9L1002.4 924.6L1008.4 924.3L1014.4 924L1020.4 923.7L1026.3 923.4L1032.3 923.2L1038.3 922.9L1044.3 922.7L1050.3 922.4L1056.3 922.2L1062.3 922L1068.3 921.8L1074.3 921.6L1080.3 921.4L1086.3 921.3L1092.2 921.1L1098.2 921L1104.2 920.9L1110.2 920.7L1116.2 920.7L1122.2 920.6L1128.2 920.5L1134.2 920.4L1140.2 920.4L1146.2 920.4L1152.1 920.4L1158.1 920.4L1164.1 920.4L1170.1 920.4L1176.1 920.5L1182.1 920.6L1188.1 920.6L1194.1 920.7L1200.1 920.9L1206.1 921L1212 921.2L1218 921.3L1224 921.5L1230 921.7L1236 922L1242 922.2M2 976.4L8 976.5L14 976.5L20 976.6L26 976.6L32 976.7L37.9 976.8L43.9 976.9L49.9 977L55.9 977.1L61.9 977.2L67.9 977.3L73.9 977.4L79.9 977.5L85.9 977.7L91.9 977.8L97.8 977.9L103.8 978.1L109.8 978.2L115.8 978.4L121.8 978.5L127.8 978.7L133.8 978.8L139.8 979L145.8 979.2L151.8 979.3L157.7 979.5L163.7 979.7L169.7 979.8L175.7 980L181.7 980.2L187.7 980.4L193.7 980.5L199.7 980.7L205.7 980.9L211.7 981L217.7 981.2L223.6 981.4L229.6 981.5L235.6 981.7L241.6 981.8L247.6 982L253.6 982.1L259.6 982.3L265.6 982.4L271.6 982.5L277.6 982.7L283.5 982.8L289.5 982.9L295.5 983L301.5 983.1L307.5 983.2L313.5 983.3L319.5 983.4L325.5 983.5L331.5 983.6L337.5 983.6L343.4 983.7L349.4 983.8L355.4 983.8L361.4 983.8L367.4 983.9L373.4 983.9L379.4 983.9L385.4 983.9L391.4 983.9L397.4 983.9L403.4 983.9L409.3 983.9L415.3 983.9L421.3 983.8L427.3 983.8L433.3 983.7L439.3 983.7L445.3 983.6L451.3 983.6L457.3 983.5L463.3 983.4L469.2 983.3L475.2 983.2L481.2 983.1L487.2 983L493.2 982.9L499.2 982.7L505.2 982.6L511.2 982.5L517.2 982.3L523.2 982.1L529.1 982L535.1 981.8L541.1 981.6L547.1 981.4L553.1 981.2L559.1 981L565.1 980.8L571.1 980.6L577.1 980.4L583.1 980.1L589.1 979.9L595 979.7L601 979.4L607 979.1L613 978.9L619 978.6L625 978.3L631 978L637 977.7L643 977.4L649 977.1L654.9 976.7L660.9 976.4L666.9 976.1L672.9 975.7L678.9 975.4L684.9 975L690.9 974.7L696.9 974.3L702.9 973.9L708.9 973.6L714.9 973.2L720.8 972.8L726.8 972.4L732.8 972L738.8 971.6L744.8 971.2L750.8 970.8L756.8 970.4L762.8 970L768.8 969.6L774.8 969.2L780.7 968.8L786.7 968.4L792.7 968L798.7 967.6L804.7 967.2L810.7 966.8L816.7 966.4L822.7 966L828.7 965.5L834.7 965.1L840.6 964.7L846.6 964.3L852.6 963.9L858.6 963.5L864.6 963.1L870.6 962.7L876.6 962.3L882.6 961.9L888.6 961.5L894.6 961.1L900.6 960.7L906.5 960.4L912.5 960L918.5 959.6L924.5 959.2L930.5 958.9L936.5 958.5L942.5 958.1L948.5 957.8L954.5 957.5L960.5 957.1L966.4 956.8L972.4 956.5L978.4 956.1L984.4 955.8L990.4 955.5L996.4 955.2L1002.4 954.9L1008.4 954.6L1014.4 954.4L1020.4 954.1L1026.3 953.8L1032.3 953.6L1038.3 953.4L1044.3 953.1L1050.3 952.9L1056.3 952.7L1062.3 952.5L1068.3 952.3L1074.3 952.1L1080.3 952L1086.3 951.8L1092.2 951.6L1098.2 951.5L1104.2 951.4L1110.2 951.3L1116.2 951.2L1122.2 951.1L1128.2 951L1134.2 951L1140.2 950.9L1146.2 950.9L1152.1 950.9L1158.1 950.8L1164.1 950.9L1170.1 950.9L1176.1 950.9L1182.1 951L1188.1 951L1194.1 951.1L1200.1 951.2L1206.1 951.3L1212 951.5L1218 951.6L1224 951.8L1230 951.9L1236 952.1L1242 952.4M2 1006.1L8 1006.2L14 1006.3L20 1006.3L26 1006.4L32 1006.5L37.9 1006.5L43.9 1006.6L49.9 1006.7L55.9 1006.8L61.9 1006.9L67.9 1007L73.9 1007.1L79.9 1007.2L85.9 1007.3L91.9 1007.4L97.8 1007.5L103.8 1007.7L109.8 1007.8L115.8 1007.9L121.8 1008L127.8 1008.1L133.8 1008.3L139.8 1008.4L145.8 1008.5L151.8 1008.6L157.7 1008.8L163.7 1008.9L169.7 1009L175.7 1009.1L181.7 1009.3L187.7 1009.4L193.7 1009.5L199.7 1009.6L205.7 1009.8L211.7 1009.9L217.7 1010L223.6 1010.1L229.6 1010.2L235.6 1010.4L241.6 1010.5L247.6 1010.6L253.6 1010.7L259.6 1010.8L265.6 1010.9L271.6 1011L277.6 1011.1L283.5 1011.2L289.5 1011.3L295.5 1011.4L301.5 1011.5L307.5 1011.6L313.5 1011.7L319.5 1011.7L325.5 1011.8L331.5 1011.9L337.5 1011.9L343.4 1012L349.4 1012L355.4 1012.1L361.4 1012.1L367.4 1012.1L373.4 1012.2L379.4 1012.2L385.4 1012.2L391.4 1012.2L397.4 1012.2L403.4 1012.2L409.3 1012.2L415.3 1012.2L421.3 1012.2L427.3 1012.1L433.3 1012.1L439.3 1012L445.3 1012L451.3 1011.9L457.3 1011.9L463.3 1011.8L469.2 1011.7L475.2 1011.6L481.2 1011.5L487.2 1011.4L493.2 1011.3L499.2 1011.1L505.2 1011L511.2 1010.9L517.2 1010.7L523.2 1010.5L529.1 1010.4L535.1 1010.2L541.1 1010L547.1 1009.9L553.1 1009.7L559.1 1009.5L565.1 1009.3L571.1 1009L577.1 1008.8L583.1 1008.6L589.1 1008.4L595 1008.1L601 1007.9L607 1007.7L613 1007.4L619 1007.1L625 1006.9L631 1006.6L637 1006.3L643 1006L649 1005.8L654.9 1005.5L660.9 1005.2L666.9 1004.9L672.9 1004.5L678.9 1004.2L684.9 1003.9L690.9 1003.6L696.9 1003.3L702.9 1002.9L708.9 1002.6L714.9 1002.2L720.8 1001.9L726.8 1001.6L732.8 1001.2L738.8 1000.8L744.8 1000.5L750.8 1000.1L756.8 999.8L762.8 999.4L768.8 999L774.8 998.6L780.7 998.3L786.7 997.9L792.7 997.5L798.7 997.1L804.7 996.8L810.7 996.4L816.7 996L822.7 995.6L828.7 995.2L834.7 994.9L840.6 994.5L846.6 994.1L852.6 993.7L858.6 993.4L864.6 993L870.6 992.6L876.6 992.2L882.6 991.9L888.6 991.5L894.6 991.1L900.6 990.8L906.5 990.4L912.5 990.1L918.5 989.7L924.5 989.4L930.5 989L936.5 988.7L942.5 988.3L948.5 988L954.5 987.7L960.5 987.4L966.4 987.1L972.4 986.7L978.4 986.4L984.4 986.1L990.4 985.9L996.4 985.6L1002.4 985.3L1008.4 985L1014.4 984.7L1020.4 984.5L1026.3 984.2L1032.3 984L1038.3 983.8L1044.3 983.5L1050.3 983.3L1056.3 983.1L1062.3 982.9L1068.3 982.7L1074.3 982.5L1080.3 982.4L1086.3 982.2L1092.2 982.1L1098.2 981.9L1104.2 981.8L1110.2 981.7L1116.2 981.6L1122.2 981.5L1128.2 981.4L1134.2 981.3L1140.2 981.2L1146.2 981.2L1152.1 981.2L1158.1 981.1L1164.1 981.1L1170.1 981.1L1176.1 981.1L1182.1 981.2L1188.1 981.2L1194.1 981.3L1200.1 981.3L1206.1 981.4L1212 981.5L1218 981.6L1224 981.7L1230 981.9L1236 982L1242 982.2M727 1030L733 1029.6L739 1029.2L745 1028.8L751 1028.4L756.9 1028.1L762.9 1027.7L768.9 1027.4L774.9 1027L780.9 1026.7L786.9 1026.4L792.9 1026.1L798.9 1025.8L804.8 1025.5L810.8 1025.2L816.8 1024.9L822.8 1024.6L828.8 1024.3L834.8 1024L840.8 1023.7L846.8 1023.4L852.8 1023.2L858.7 1022.9L864.7 1022.6L870.7 1022.3L876.7 1022L882.7 1021.7L888.7 1021.4L894.7 1021.1L900.7 1020.8L906.7 1020.5L912.6 1020.2L918.6 1019.9L924.6 1019.7L930.6 1019.4L936.6 1019.1L942.6 1018.8L948.6 1018.5L954.6 1018.1L960.5 1017.8L966.5 1017.5L972.5 1017.2L978.5 1016.9L984.5 1016.6L990.5 1016.3L996.5 1016L1002.5 1015.8L1008.5 1015.6L1014.4 1015.4L1020.4 1015.2L1026.4 1015L1032.4 1014.8L1038.4 1014.7L1044.4 1014.5L1050.4 1014.3L1056.4 1014.2L1062.3 1014L1068.3 1013.9L1074.3 1013.7L1080.3 1013.6L1086.3 1013.5L1092.3 1013.4L1098.3 1013.2L1104.3 1013.1L1110.3 1013L1116.2 1013L1122.2 1012.9L1128.2 1012.8L1134.2 1012.8L1140.2 1012.7L1146.2 1012.7L1152.2 1012.6L1158.2 1012.6L1164.2 1012.5L1170.1 1012.5L1176.1 1012.5L1182.1 1012.4L1188.1 1012.4L1194.1 1012.4L1200.1 1012.3L1206.1 1012.3L1212.1 1012.3L1218 1012.3L1224 1012.3L1230 1012.3L1236 1012.3L1242 1012.2" fill="none" stroke="#0d0d0d" stroke-width="1.4" stroke-linejoin="round"/>
<path d="M100.7 -0.2 L115.5 4.3M101.5 10.9 L115.5 4.3M43.1 33.2 L58 37.5M44.1 44.2 L58 37.5M167.7 22.9 L182.5 27.4M168.5 34 L182.5 27.4M294.7 13.9 L309.5 18.5M295.4 25 L309.5 18.5M420 6.8 L434.8 11.7M420.6 17.9 L434.8 11.7M545.1 2 L559.8 7.2M545.4 13.1 L559.8 7.2M671.3 -0.1 L685.8 5.4M671.3 11 L685.8 5.4M798.1 0.5 L812.5 6.3M797.9 11.6 L812.5 6.3M918.5 3.3 L932.8 9.3M918.1 14.4 L932.8 9.3M1051.3 8.3 L1065.5 14.5M1050.8 19.4 L1065.5 14.5M1176.3 14.3 L1190.5 20.6M1175.8 25.4 L1190.5 20.6M34.3 62.8 L49.2 67M35.4 73.8 L49.2 67M281.2 42.4 L296 46.9M281.9 53.4 L296 46.9M410.8 34.7 L425.5 39.6M411.3 45.8 L425.5 39.6M536.4 29.9 L551 35.1M536.7 41 L551 35.1M663 28 L677.5 33.5M663 39.1 L677.5 33.5M788.9 29.2 L803.2 35M788.7 40.3 L803.2 35M915.2 32.6 L929.5 38.7M914.8 43.8 L929.5 38.7M1039.3 37.5 L1053.5 43.7M1038.8 48.6 L1053.5 43.7M1162.5 43 L1176.8 49.2M1162 54.1 L1176.8 49.2M13.8 94.7 L28.8 98.7M15 105.8 L28.8 98.7M50 149.4 L65 153.4M51.2 160.4 L65 153.4M1187.6 131 L1201.8 137.4M1187 142.1 L1201.8 137.4M50 179.4 L65 183.4M51.2 190.4 L65 183.4M1191.4 160.8 L1205.5 167.3M1190.7 171.9 L1205.5 167.3M30.9 210.7 L45.8 215.2M31.7 221.8 L45.8 215.2M155 200.1 L170 204.2M156.2 211.2 L170 204.2M34.3 240.1 L49.2 244.1M35.4 251.1 L49.2 244.1M157.6 227.4 L172.5 231.5M158.6 238.5 L172.5 231.5M282.6 215.9 L297.5 220.3M283.5 227 L297.5 220.3M407.5 206.6 L422.2 211.2M408.1 217.7 L422.2 211.2M531.3 200.1 L546 205.2M531.7 211.2 L546 205.2M652.5 197.3 L667 202.8M652.6 208.4 L667 202.8M782.7 198.3 L797 204.2M782.4 209.4 L797 204.2M909 202.5 L923.2 208.7M908.5 213.6 L923.2 208.7M1033.9 209 L1048 215.4M1033.2 220.1 L1048 215.4M1158.9 217 L1173 223.6M1158.2 228.1 L1173 223.6M47.5 268 L62.5 272M48.7 279 L62.5 272M173.8 255.1 L188.8 259.2M174.9 266.2 L188.8 259.2M295.1 243.2 L310 247.5M296.1 254.3 L310 247.5M422.4 232.6 L437.2 237.2M423.2 243.7 L437.2 237.2M548.8 225.5 L563.5 230.6M549.2 236.6 L563.5 230.6M675.1 223.2 L689.5 228.9M675 234.3 L689.5 228.9M800.8 225.8 L815 232M800.3 236.9 L815 232M924.9 231.8 L939 238.2M924.2 242.9 L939 238.2M1051.4 239.8 L1065.5 246.3M1050.7 250.9 L1065.5 246.3M1175.1 247.9 L1189.2 254.4M1174.5 259 L1189.2 254.4M91.3 293.4 L106.2 297.3M92.5 304.4 L106.2 297.3M215 280 L230 284.1M216.2 291.1 L230 284.1M342.4 267.8 L357.2 272.1M343.3 278.8 L357.2 272.1M468.7 258.2 L483.5 262.9M469.4 269.3 L483.5 262.9M592.6 252.4 L607.2 257.6M592.9 263.5 L607.2 257.6M717.6 251.2 L732 257M717.4 262.3 L732 257M842.8 255.3 L857 261.7M842.3 266.4 L857 261.7M967.7 262.9 L981.8 269.4M966.9 273.9 L981.8 269.4M1091.4 271.1 L1105.5 277.6M1090.7 282.2 L1105.5 277.6M1217.6 279.2 L1231.8 285.6M1217 290.3 L1231.8 285.6M-5 333.6 L10 337.5M-3.8 344.6 L10 337.5M118.7 319.9 L133.8 323.8M120 330.9 L133.8 323.8M242.5 306.1 L257.5 310.1M243.7 317.1 L257.5 310.1M367.4 293.6 L382.2 297.8M368.3 304.6 L382.2 297.8M493.2 284 L508 288.7M493.9 295.1 L508 288.7M617.5 279.1 L632 284.5M617.6 290.2 L632 284.5M742.7 279.8 L757 285.8M742.4 290.9 L757 285.8M866.6 285 L880.8 291.4M866 296.1 L880.8 291.4M991.5 293.1 L1005.5 299.7M990.7 304.2 L1005.5 299.7M1116.5 302.4 L1130.5 308.9M1115.7 313.4 L1130.5 308.9M82.5 353.4 L97.5 357.2M83.8 364.4 L97.5 357.2M205 338.8 L220 342.7M206.3 349.8 L220 342.7M330.6 325.2 L345.5 329.4M331.6 336.3 L345.5 329.4M456.2 314.5 L471 319M456.9 325.6 L471 319M580.1 307.8 L594.8 313M580.4 319 L594.8 313M705.9 306.5 L720.2 312.3M705.7 317.6 L720.2 312.3M830.4 310.8 L844.5 317.2M829.7 321.9 L844.5 317.2M956 319.1 L970 325.7M955.2 330.1 L970 325.7M1081 328.8 L1095 335.4M1080.1 339.9 L1095 335.4M1205.1 337.8 L1219.2 344.2M1204.5 348.9 L1219.2 344.2M100 381.2 L115 385M101.3 392.2 L115 385M223.7 366 L238.8 369.7M225.1 377 L238.8 369.7M348.5 351.7 L363.5 355.8M349.7 362.7 L363.5 355.8M473.7 340.8 L488.5 345.4M474.4 351.9 L488.5 345.4M598.9 334.8 L613.5 340.1M599.1 345.9 L613.5 340.1M722.2 334.6 L736.5 340.6M721.9 345.7 L736.5 340.6M847.9 339.9 L862 346.3M847.2 351 L862 346.3M974 348.7 L988 355.4M973.1 359.8 L988 355.4M1098.5 358.8 L1112.5 365.4M1097.6 369.8 L1112.5 365.4M1223.9 368.2 L1238 374.6M1223.2 379.3 L1238 374.6M18.7 420.4 L33.8 424.1M20.1 431.4 L33.8 424.1M141.9 404.9 L157 408.6M143.3 415.9 L157 408.6M266.2 389.4 L281.2 393.3M267.5 400.5 L281.2 393.3M390.6 375.9 L405.5 380.1M391.6 387 L405.5 380.1M515.8 366 L530.5 370.8M516.4 377.1 L530.5 370.8M640.5 361.6 L655 367.1M640.5 372.7 L655 367.1M764 363.6 L778.2 369.7M763.6 374.7 L778.2 369.7M890.5 370.6 L904.5 377.2M889.7 381.7 L904.5 377.2M1017.1 380.9 L1031 387.7M1016.1 392 L1031 387.7M1140.8 391.6 L1154.8 398.3M1139.9 402.7 L1154.8 398.3M12 451.4 L27 455.2M13.3 462.4 L27 455.2M134.9 435.7 L150 439.2M136.4 446.7 L150 439.2M258.7 418.8 L273.8 422.5M260.1 429.9 L273.8 422.5M384.1 404.1 L399 408.2M385.1 415.1 L399 408.2M508.7 393.8 L523.5 398.6M509.4 404.9 L523.5 398.6M632.5 389.3 L647 394.8M632.6 400.4 L647 394.8M757.8 391.1 L772 397.2M757.3 402.2 L772 397.2M882.5 398 L896.5 404.6M881.7 409.1 L896.5 404.6M1007.9 408.6 L1021.8 415.5M1006.8 419.7 L1021.8 415.5M1131.6 420.2 L1145.5 426.9M1130.6 431.2 L1145.5 426.9M96.2 470.8 L111.2 474.4M97.7 481.8 L111.2 474.4M218.6 453.3 L233.8 456.8M220.2 464.3 L233.8 456.8M343.5 436.4 L358.5 440.2M344.8 447.4 L358.5 440.2M467.4 424.1 L482.2 428.7M468.2 435.2 L482.2 428.7M591.9 417.7 L606.5 422.9M592.2 428.8 L606.5 422.9M715.7 417.4 L730 423.3M715.4 428.5 L730 423.3M840.5 423.2 L854.5 429.8M839.7 434.3 L854.5 429.8M964.8 433.2 L978.8 440.1M963.8 444.3 L978.8 440.1M1087.1 444.7 L1101 451.6M1086.1 455.8 L1101 451.6M1212.7 455.5 L1226.8 462.1M1211.9 466.6 L1226.8 462.1M92.4 501.6 L107.5 505M94 512.6 L107.5 505M214.3 482.7 L229.5 486M216.1 493.7 L229.5 486M339 464.7 L354 468.5M340.3 475.7 L354 468.5M463.2 451.9 L478 456.4M464 463 L478 456.4M587.7 445.3 L602.2 450.5M587.9 456.4 L602.2 450.5M711.4 445 L725.8 450.9M711.1 456.1 L725.8 450.9M836.7 450.2 L850.8 456.6M836 461.3 L850.8 456.6M961.1 459.3 L975 466.1M960.1 470.4 L975 466.1M1085.2 471.1 L1099 478.1M1084 482.1 L1099 478.1M1209.2 484.1 L1223 491.1M1208 495.1 L1223 491.1M44.9 538.5 L60 542.1M46.4 549.6 L60 542.1M168.6 519.7 L183.8 522.7M170.4 530.6 L183.8 522.7M291.1 499.6 L306.2 503M292.7 510.6 L306.2 503M415.6 484 L430.5 488.2M416.6 495 L430.5 488.2M539.6 474.7 L554.2 479.6M540 485.8 L554.2 479.6M663.8 471.8 L678.2 477.4M663.7 482.9 L678.2 477.4M789.1 475 L803.2 481.4M788.5 486.1 L803.2 481.4M913.1 484.1 L927 491.1M912.1 495.2 L927 491.1M1036.2 497.3 L1050 504.4M1035 508.3 L1050 504.4M1160.3 510.5 L1174.2 517.3M1159.3 521.6 L1174.2 517.3M98.5 563.6 L113.8 566.5M100.5 574.6 L113.8 566.5M221 539.4 L236.2 542.1M223.1 550.3 L236.2 542.1M346 519.1 L361 522.8M347.3 530.1 L361 522.8M469.4 506.3 L484.2 510.8M470.2 517.4 L484.2 510.8M593.9 500.1 L608.5 505.4M594.1 511.2 L608.5 505.4M718.2 500.5 L732.5 506.6M717.8 511.6 L732.5 506.6M841.7 506.8 L855.8 513.4M840.9 517.9 L855.8 513.4M966.7 517.9 L980.5 525M965.5 529 L980.5 525M1090.5 532.2 L1104.2 539.3M1089.2 543.2 L1104.2 539.3M1212.7 544.8 L1226.8 551.4M1211.9 555.9 L1226.8 551.4M12.8 603.9 L27.5 608.9M13.3 615 L27.5 608.9M134.6 588.4 L150 590.2M137.3 599.1 L150 590.2M257.3 560.3 L272.5 563.3M259.2 571.3 L272.5 563.3M381 542.7 L396 546.7M382.2 553.7 L396 546.7M505.7 531.8 L520.5 536.5M506.4 542.9 L520.5 536.5M630 527 L644.5 532.4M630.1 538.1 L644.5 532.4M754 528.5 L768.2 534.7M753.5 539.6 L768.2 534.7M877.7 536.7 L891.5 543.7M876.5 547.8 L891.5 543.7M1000.4 551.2 L1014 558.6M998.9 562.2 L1014 558.6M1125.5 567.3 L1139.2 574.4M1124.3 578.3 L1139.2 574.4M117.3 625.8 L132.5 628.8M119.2 636.8 L132.5 628.8M237.2 593.6 L252.5 596M239.5 604.4 L252.5 596M361.5 572.9 L376.5 576.8M362.8 583.9 L376.5 576.8M485 560.8 L499.8 565.5M485.6 571.9 L499.8 565.5M607.5 555.4 L622 561M607.5 566.6 L622 561M732.6 556.4 L747 562.2M732.4 567.6 L747 562.2M858.2 563 L872 570M857 574.1 L872 570M983.2 576.7 L996.8 584.2M981.6 587.7 L996.8 584.2M1105.4 596.7 L1119.2 603.8M1104.3 607.8 L1119.2 603.8M1226.8 606.3 L1241 612.5M1226.3 617.4 L1241 612.5M102.7 661.3 L117.5 666M103.4 672.4 L117.5 666M218.5 625.5 L233.8 628.3M220.6 636.4 L233.8 628.3M342.1 604.1 L357.2 607.5M343.7 615.1 L357.2 607.5M466.2 590.5 L481 595.2M466.9 601.6 L481 595.2M591.5 585.1 L606 590.6M591.6 596.2 L606 590.6M713.9 585.1 L728.2 591M713.6 596.2 L728.2 591M837.9 590.8 L852 597.2M837.2 601.9 L852 597.2M963.2 603.8 L976.8 611.3M961.6 614.7 L976.8 611.3M1084.5 625.7 L1098 633.3M1082.9 636.7 L1098 633.3M1208.9 637.8 L1223 644.2M1208.2 648.9 L1223 644.2M51.8 694.9 L66.2 700.5M51.8 706.1 L66.2 700.5M175.7 702.7 L188.8 711M173.5 713.6 L188.8 711M296.5 721.1 L310.8 727.2M296 732.2 L310.8 727.2M422.8 724.9 L437.2 730.5M422.8 736.1 L437.2 730.5M545 722.1 L559.8 726.8M545.7 733.2 L559.8 726.8M669.5 712.1 L684.5 716M670.7 723.2 L684.5 716M793.1 694.2 L808.2 697.5M794.8 705.1 L808.2 697.5M915.7 675 L930.8 678.8M917.1 686 L930.8 678.8M1039.8 665.7 L1054.2 671.2M1039.8 676.8 L1054.2 671.2M1165 671.3 L1179.2 677.5M1164.6 682.4 L1179.2 677.5M86 726.1 L100 732.7M85.2 737.2 L100 732.7M210 738.9 L223.8 746.1M208.7 749.9 L223.8 746.1M333.1 750.4 L347.2 756.7M332.5 761.5 L347.2 756.7M456.4 753.3 L471 758.5M456.6 764.4 L471 758.5M581.1 747.8 L596 752.2M582 758.9 L596 752.2M705.2 735.5 L720.2 739.3M706.6 746.6 L720.2 739.3M828.1 719.2 L843.2 722.7M829.7 730.2 L843.2 722.7M951.9 703.4 L966.8 707.8M952.8 714.4 L966.8 707.8M1075.6 699 L1090 704.8M1075.4 710.1 L1090 704.8M1200 703 L1214.2 709.1M1199.6 714.1 L1214.2 709.1M97.2 758.5 L111.2 765.1M96.4 769.6 L111.2 765.1M220.6 769.9 L234.5 776.8M219.6 781 L234.5 776.8M343.5 778.7 L357.8 784.8M343.1 789.8 L357.8 784.8M467.7 780.7 L482.2 786M467.9 791.8 L482.2 786M591.1 775.5 L606 779.9M592 786.6 L606 779.9M715 763 L730 766.8M716.3 774 L730 766.8M838.2 747.5 L853.2 751.3M839.5 758.5 L853.2 751.3M962 735.1 L976.8 739.8M962.6 746.2 L976.8 739.8M1086.6 731 L1101 736.6M1086.5 742.1 L1101 736.6M1210 733.6 L1224.2 739.8M1209.6 744.7 L1224.2 739.8M58.2 788.7 L72.5 794.8M57.8 799.8 L72.5 794.8M182.3 796.1 L196.2 802.8M181.4 807.2 L196.2 802.8M302.9 804.7 L317 811.1M302.2 815.8 L317 811.1M428.5 809.3 L443 814.9M428.5 820.4 L443 814.9M552.5 806.1 L567.2 810.7M553.2 817.2 L567.2 810.7M677 796.1 L692 800.1M678.2 807.1 L692 800.1M799.5 782.5 L814.5 786.4M800.7 793.5 L814.5 786.4M920.1 769.8 L935 774.2M921 780.9 L935 774.2M1049 762.7 L1063.5 768.1M1049.1 773.8 L1063.5 768.1M1173.7 763.4 L1188 769.3M1173.4 774.5 L1188 769.3M84 820.4 L98.2 826.5M83.6 831.5 L98.2 826.5M207.9 827.1 L222 833.7M207.2 838.2 L222 833.7M330.5 834.5 L344.8 840.6M330.1 845.6 L344.8 840.6M455.2 836.3 L469.8 841.6M455.4 847.4 L469.8 841.6M578.7 831.9 L593.5 836.6M579.4 843 L593.5 836.6M702.1 822.8 L717 827M703.1 833.8 L717 827M825.8 810.7 L840.8 814.8M826.9 821.7 L840.8 814.8M949.4 799.4 L964.2 803.9M950.2 810.4 L964.2 803.9M1074.7 793 L1089.2 798.4M1074.9 804.1 L1089.2 798.4M1198.7 794 L1213 800.1M1198.3 805.1 L1213 800.1M105.3 851.7 L119.5 857.9M104.8 862.8 L119.5 857.9M229.6 858.3 L243.8 864.7M229 869.4 L243.8 864.7M352.9 864.1 L367.2 870M352.7 875.2 L367.2 870M477.6 864.4 L492.2 869.5M477.9 875.5 L492.2 869.5M601.2 859.1 L616 863.8M601.9 870.2 L616 863.8M725.1 850 L740 854.3M726.1 861.1 L740 854.3M848.3 838.8 L863.2 843M849.3 849.8 L863.2 843M972 828.6 L986.8 833.2M972.7 839.7 L986.8 833.2M1096.5 823 L1111 828.4M1096.6 834.1 L1111 828.4M1221.3 824.5 L1235.5 830.8M1220.8 835.6 L1235.5 830.8M83.3 882.6 L97.5 888.7M82.8 893.7 L97.5 888.7M207 887.3 L221.2 893.4M206.6 898.4 L221.2 893.4M330.4 891.1 L344.8 896.9M330.2 902.2 L344.8 896.9M454.5 892.4 L469 897.8M454.6 903.5 L469 897.8M578.8 889.6 L593.5 894.5M579.3 900.7 L593.5 894.5M704.6 881.5 L719.5 885.8M705.6 892.6 L719.5 885.8M828.3 870.4 L843.2 874.7M829.3 881.5 L843.2 874.7M952 860.4 L966.8 865.1M952.6 871.5 L966.8 865.1M1076.4 855.1 L1091 860.4M1076.6 866.2 L1091 860.4M1202.4 854.9 L1216.8 860.8M1202.2 866 L1216.8 860.8M69.5 912.2 L83.8 918.2M69.1 923.3 L83.8 918.2M193.2 916.3 L207.5 922.2M192.9 927.4 L207.5 922.2M316.1 919.4 L330.5 925.2M315.9 930.6 L330.5 925.2M441 920.6 L455.5 926M441.1 931.7 L455.5 926M565.8 918.3 L580.5 923.3M566.3 929.4 L580.5 923.3M690.9 911.4 L705.8 915.9M691.7 922.5 L705.8 915.9M814.6 901.4 L829.5 905.8M815.5 912.5 L829.5 905.8M938.7 891.7 L953.5 896.3M939.4 902.8 L953.5 896.3M1063.9 885.4 L1078.5 890.6M1064.2 896.6 L1078.5 890.6M1188.2 884.5 L1202.5 890.4M1187.9 895.6 L1202.5 890.4M26.8 940.8 L41.2 946.5M26.7 951.9 L41.2 946.5M150.7 943.6 L165 949.6M150.4 954.7 L165 949.6M275.7 947.6 L290 953.5M275.4 958.7 L290 953.5M399 949.5 L413.5 955M399 960.6 L413.5 955M522.6 948 L537.2 953.1M523 959.1 L537.2 953.1M648.5 942.7 L663.2 947.4M649.1 953.8 L663.2 947.4M771.7 934.5 L786.5 939M772.5 945.6 L786.5 939M895.9 925.5 L910.8 930.1M896.7 936.6 L910.8 930.1M1020.3 918.1 L1035 923M1020.8 929.2 L1035 923M1144.8 914.8 L1159.2 920.4M1144.8 925.9 L1159.2 920.4M20.6 971 L35 976.7M20.5 982.1 L35 976.7M144.4 973.6 L158.8 979.5M144.1 984.7 L158.8 979.5M268.9 976.9 L283.2 982.8M268.7 988 L283.2 982.8M392.3 978.4 L406.8 983.9M392.3 989.5 L406.8 983.9M517.6 976.8 L532.2 981.9M517.9 987.9 L532.2 981.9M642.2 971.9 L657 976.6M642.9 983 L657 976.6M766.7 964.2 L781.5 968.8M767.4 975.3 L781.5 968.8M890.5 955.8 L905.2 960.4M891.2 966.9 L905.2 960.4M1016.6 948.7 L1031.2 953.6M1017 959.8 L1031.2 953.6M1140.5 945.3 L1155 950.8M1140.5 956.4 L1155 950.8M56.4 1001.3 L70.8 1007.1M56.2 1012.4 L70.8 1007.1M180.6 1003.7 L195 1009.5M180.4 1014.8 L195 1009.5M305.3 1006 L319.8 1011.7M305.2 1017.1 L319.8 1011.7M431.5 1006.6 L446 1012M431.6 1017.7 L446 1012M556.3 1004 L571 1009.1M556.7 1015.1 L571 1009.1M682.2 998.5 L697 1003.3M682.9 1009.6 L697 1003.3M807.2 991 L822 995.7M807.9 1002.1 L822 995.7M930.7 983.4 L945.5 988.2M931.4 994.5 L945.5 988.2M1055.9 977.5 L1070.5 982.7M1056.2 988.6 L1070.5 982.7M1181.1 975.6 L1195.5 981.3M1181 986.7 L1195.5 981.3M743.2 1023.3 L758 1028M743.9 1034.4 L758 1028M872.3 1016.7 L887 1021.5M872.8 1027.8 L887 1021.5M995.9 1010.4 L1010.5 1015.5M996.2 1021.5 L1010.5 1015.5M1121.5 1007.3 L1136 1012.8M1121.6 1018.4 L1136 1012.8" fill="none" stroke="#0d0d0d" stroke-width="1.3" stroke-linecap="butt"/>
<path d="M220.5 571.5V575.5" stroke="#111" stroke-width="1.4"/>
</g>
<rect x="882" y="451.7" width="282" height="65.2" fill="#fff"/>
<path d="M883.2 518.2L822.8 594.6M829.3 570.8L822.8 594.6L848.5 579.2" fill="none" stroke="#0a0a0a" stroke-width="2.7" stroke-linejoin="miter" stroke-linecap="butt"/>
<text x="899.4" y="504.3" text-anchor="start" style="font-family:'Liberation Sans',sans-serif;font-size:52px;fill:#2b2a29;stroke:#fff;stroke-width:0.45px;" textLength="249.6" lengthAdjust="spacingAndGlyphs">shock wave</text>
<rect x="65.4" y="48.2" width="1122.8" height="155.2" fill="#fff" stroke="#2a2a2a" stroke-width="1.5"/>
<rect x="272" y="61" width="37.2" height="72.2" fill="#2166ac"/>
<rect x="309.2" y="61" width="72.2" height="72.2" fill="#4388be"/>
<rect x="381.4" y="61" width="72" height="72.2" fill="#6aaad0"/>
<rect x="453.4" y="61" width="72" height="72.2" fill="#a0c7e0"/>
<rect x="525.4" y="61" width="72.1" height="72.2" fill="#d1e5f0"/>
<rect x="597.5" y="61" width="72.8" height="72.2" fill="#e5edf5"/>
<rect x="670.3" y="61" width="72" height="72.2" fill="#f7f7f7"/>
<rect x="742.3" y="61" width="72" height="72.2" fill="#fbe8df"/>
<rect x="814.3" y="61" width="72.1" height="72.2" fill="#fddbc7"/>
<rect x="886.4" y="61" width="72.8" height="72.2" fill="#f5b194"/>
<rect x="959.2" y="61" width="72.1" height="72.2" fill="#ef8a62"/>
<rect x="1031.3" y="61" width="72" height="72.2" fill="#d15147"/>
<rect x="1103.3" y="61" width="36.2" height="72.2" fill="#b2182b"/>
<path d="M309.2 61V133.2M381.4 61V133.2M453.4 61V133.2M525.4 61V133.2M597.5 61V133.2M670.3 61V133.2M742.3 61V133.2M814.3 61V133.2M886.4 61V133.2M959.2 61V133.2M1031.3 61V133.2M1103.3 61V133.2" stroke="#1a1a1a" stroke-opacity="0.9" stroke-width="0.9" fill="none"/>
<rect x="272" y="61" width="867.5" height="72.2" fill="none" stroke="#333" stroke-opacity="0.55" stroke-width="0.8"/>
<text x="102.8" y="180.4" text-anchor="start" style="font-family:'Liberation Sans',sans-serif;font-size:52px;fill:#2b2a29;stroke:#fff;stroke-width:0.45px;" textLength="138.3" lengthAdjust="spacingAndGlyphs">Mach:</text>
<text x="276.4" y="180.4" text-anchor="start" style="font-family:'Liberation Sans',sans-serif;font-size:52px;fill:#2b2a29;stroke:#fff;stroke-width:0.45px;" textLength="70.3" lengthAdjust="spacingAndGlyphs">0.2</text>
<text x="416.3" y="180.4" text-anchor="start" style="font-family:'Liberation Sans',sans-serif;font-size:52px;fill:#2b2a29;stroke:#fff;stroke-width:0.45px;" textLength="70.7" lengthAdjust="spacingAndGlyphs">0.4</text>
<text x="562.8" y="180.4" text-anchor="start" style="font-family:'Liberation Sans',sans-serif;font-size:52px;fill:#2b2a29;stroke:#fff;stroke-width:0.45px;" textLength="71.7" lengthAdjust="spacingAndGlyphs">0.6</text>
<text x="706" y="180.4" text-anchor="start" style="font-family:'Liberation Sans',sans-serif;font-size:52px;fill:#2b2a29;stroke:#fff;stroke-width:0.45px;" textLength="71.4" lengthAdjust="spacingAndGlyphs">0.8</text>
<text x="851.7" y="180.4" text-anchor="start" style="font-family:'Liberation Sans',sans-serif;font-size:52px;fill:#2b2a29;stroke:#fff;stroke-width:0.45px;" textLength="70" lengthAdjust="spacingAndGlyphs">1.0</text>
<text x="995.3" y="180.4" text-anchor="start" style="font-family:'Liberation Sans',sans-serif;font-size:52px;fill:#2b2a29;stroke:#fff;stroke-width:0.45px;" textLength="67.9" lengthAdjust="spacingAndGlyphs">1.2</text>
<rect x="0" y="1030" width="1244" height="5.6" fill="#000"/>
<rect x="163.8" y="1005.5" width="5.2" height="26" fill="#000"/>
<rect x="346" y="1005.5" width="5.2" height="26" fill="#000"/>
<rect x="528.2" y="1005.5" width="5.2" height="26" fill="#000"/>
<rect x="710.5" y="1005.5" width="5.2" height="26" fill="#000"/>
<rect x="892.7" y="1005.5" width="5.2" height="26" fill="#000"/>
<rect x="1074.9" y="1005.5" width="5.2" height="26" fill="#000"/>
<path d="M29.7 1016V1031M75.3 1016V1031M120.8 1016V1031M212 1016V1031M257.5 1016V1031M303.1 1016V1031M394.2 1016V1031M439.7 1016V1031M485.3 1016V1031M576.4 1016V1031M622 1016V1031M667.5 1016V1031M758.6 1016V1031M804.2 1016V1031M849.7 1016V1031M940.8 1016V1031M986.4 1016V1031M1031.9 1016V1031M1123.1 1016V1031M1168.6 1016V1031M1214.2 1016V1031" stroke="#111" stroke-width="1.25" fill="none"/>
<text x="151.5" y="1081.4" text-anchor="start" style="font-family:'Liberation Sans',sans-serif;font-size:52px;fill:#2b2a29;stroke:#fff;stroke-width:0.45px;" textLength="29.6" lengthAdjust="spacingAndGlyphs">0</text>
<text x="317.6" y="1081.4" text-anchor="start" style="font-family:'Liberation Sans',sans-serif;font-size:52px;fill:#2b2a29;stroke:#fff;stroke-width:0.45px;" textLength="68.6" lengthAdjust="spacingAndGlyphs">0.2</text>
<text x="496.8" y="1081.4" text-anchor="start" style="font-family:'Liberation Sans',sans-serif;font-size:52px;fill:#2b2a29;stroke:#fff;stroke-width:0.45px;" textLength="70.9" lengthAdjust="spacingAndGlyphs">0.4</text>
<text x="677.5" y="1081.4" text-anchor="start" style="font-family:'Liberation Sans',sans-serif;font-size:52px;fill:#2b2a29;stroke:#fff;stroke-width:0.45px;" textLength="70.1" lengthAdjust="spacingAndGlyphs">0.6</text>
<text x="859.8" y="1081.4" text-anchor="start" style="font-family:'Liberation Sans',sans-serif;font-size:52px;fill:#2b2a29;stroke:#fff;stroke-width:0.45px;" textLength="70.9" lengthAdjust="spacingAndGlyphs">0.8</text>
<text x="1042.8" y="1081.4" text-anchor="start" style="font-family:'Liberation Sans',sans-serif;font-size:52px;fill:#2b2a29;stroke:#fff;stroke-width:0.45px;" textLength="68.6" lengthAdjust="spacingAndGlyphs">1.0</text>
<text x="593.5" y="1115.6" text-anchor="start" style="font-family:'Liberation Sans',sans-serif;font-size:52px;fill:#1d1d1b;stroke:#1d1d1b;stroke-width:1.3px;" textLength="62" lengthAdjust="spacingAndGlyphs">x/c</text>
</svg>
</body></html>
